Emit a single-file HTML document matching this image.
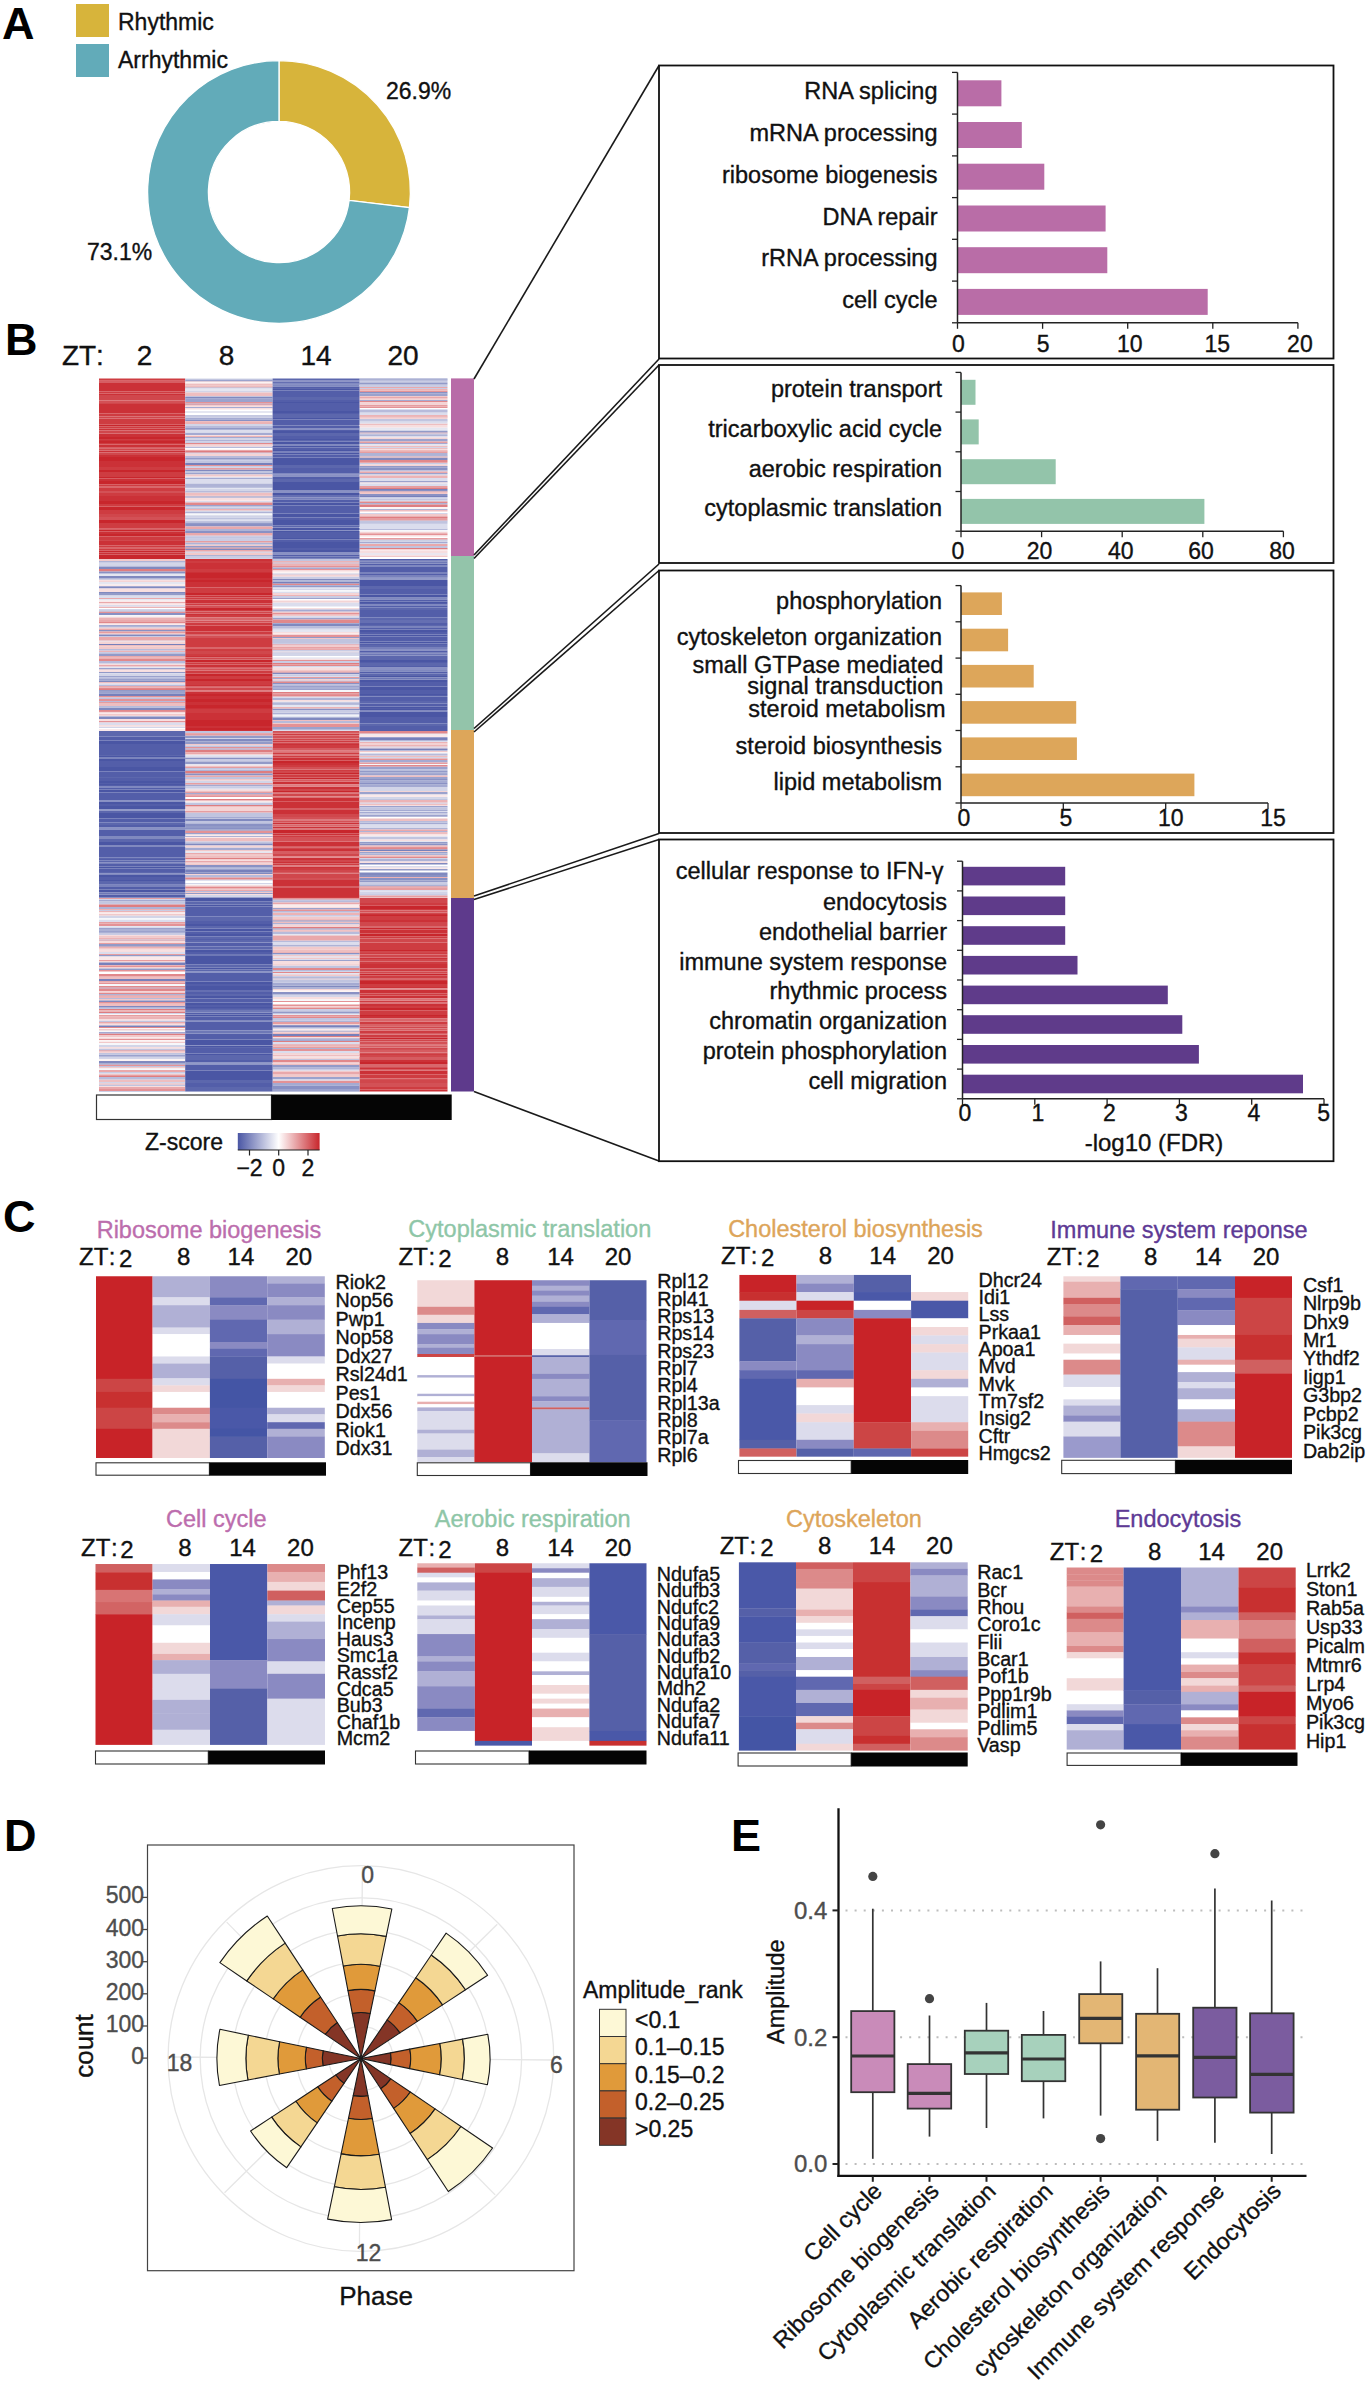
<!DOCTYPE html>
<html><head><meta charset="utf-8"><style>
html,body{margin:0;padding:0;background:#fff;overflow:hidden;width:1369px;height:2386px;}
svg{display:block;font-family:"Liberation Sans", sans-serif;}
</style></head><body>
<svg width="1369" height="2386" viewBox="0 0 1369 2386">
<rect width="1369" height="2386" fill="#fff"/>
<text x="2.0" y="38.5" font-size="45" text-anchor="start" fill="#000" font-weight="bold">A</text>
<rect x="76.0" y="4.0" width="33.0" height="33.0" fill="#D7B43B"/>
<rect x="76.0" y="44.0" width="33.0" height="33.0" fill="#62ABB9"/>
<text x="118.0" y="30.0" font-size="23" text-anchor="start" fill="#111" stroke="#111" stroke-width="0.35">Rhythmic</text>
<text x="118.0" y="68.0" font-size="23" text-anchor="start" fill="#111" stroke="#111" stroke-width="0.35">Arrhythmic</text>
<path d="M279.00 60.60A131.4 131.4 0 0 1 409.46 207.65L349.10 200.41A70.6 70.6 0 0 0 279.00 121.40Z" fill="#D7B43B" stroke="#fff" stroke-width="1.3"/>
<path d="M409.46 207.65A131.4 131.4 0 1 1 279.00 60.60L279.00 121.40A70.6 70.6 0 1 0 349.10 200.41Z" fill="#62ABB9" stroke="#fff" stroke-width="1.3"/>
<text x="386.0" y="99.0" font-size="23" text-anchor="start" fill="#111" stroke="#111" stroke-width="0.35">26.9%</text>
<text x="87.0" y="260.0" font-size="23" text-anchor="start" fill="#111" stroke="#111" stroke-width="0.35">73.1%</text>
<path fill="#ce3c41" d="M99.0 378.40h86.2v2.00h-86.2zM99.0 391.40h86.2v2.00h-86.2zM99.0 413.40h86.2v1.50h-86.2zM99.0 414.90h86.2v1.50h-86.2zM99.0 418.40h86.2v2.50h-86.2zM99.0 420.90h86.2v1.00h-86.2zM99.0 421.90h86.2v2.50h-86.2zM99.0 426.40h86.2v2.00h-86.2zM99.0 438.90h86.2v1.00h-86.2zM99.0 442.90h86.2v1.50h-86.2zM99.0 466.90h86.2v3.00h-86.2zM99.0 471.90h86.2v3.00h-86.2zM99.0 474.90h86.2v2.00h-86.2zM99.0 484.40h86.2v2.00h-86.2zM99.0 487.40h86.2v2.00h-86.2zM99.0 489.40h86.2v1.50h-86.2zM99.0 492.90h86.2v3.00h-86.2zM99.0 503.90h86.2v2.50h-86.2zM99.0 509.90h86.2v2.50h-86.2zM99.0 512.40h86.2v1.50h-86.2zM99.0 522.90h86.2v3.00h-86.2zM99.0 525.90h86.2v2.50h-86.2zM99.0 536.40h86.2v1.00h-86.2zM99.0 537.40h86.2v2.50h-86.2zM99.0 545.40h86.2v2.00h-86.2zM99.0 548.40h86.2v2.00h-86.2zM185.2 561.00h87.4v2.00h-87.4zM185.2 569.00h87.4v3.00h-87.4zM185.2 587.50h87.4v3.00h-87.4zM185.2 590.50h87.4v2.50h-87.4zM185.2 597.50h87.4v2.00h-87.4zM185.2 603.50h87.4v2.00h-87.4zM185.2 610.00h87.4v1.50h-87.4zM185.2 615.00h87.4v2.50h-87.4zM185.2 622.50h87.4v3.00h-87.4zM185.2 631.50h87.4v3.00h-87.4zM185.2 638.00h87.4v2.00h-87.4zM185.2 640.00h87.4v3.00h-87.4zM185.2 643.00h87.4v3.00h-87.4zM185.2 646.00h87.4v1.50h-87.4zM185.2 648.50h87.4v1.50h-87.4zM185.2 650.00h87.4v1.00h-87.4zM185.2 654.00h87.4v2.00h-87.4zM185.2 662.50h87.4v2.00h-87.4zM185.2 670.50h87.4v2.00h-87.4zM185.2 672.50h87.4v1.00h-87.4zM185.2 676.00h87.4v3.00h-87.4zM185.2 681.00h87.4v2.50h-87.4zM185.2 683.50h87.4v1.50h-87.4zM185.2 686.50h87.4v1.00h-87.4zM185.2 709.00h87.4v2.00h-87.4zM185.2 711.00h87.4v2.00h-87.4zM272.6 733.50h86.9v2.00h-86.9zM272.6 740.50h86.9v2.00h-86.9zM272.6 745.00h86.9v1.00h-86.9zM272.6 746.00h86.9v2.00h-86.9zM272.6 752.50h86.9v2.00h-86.9zM272.6 755.50h86.9v2.00h-86.9zM272.6 765.00h86.9v2.00h-86.9zM272.6 769.50h86.9v1.50h-86.9zM272.6 774.50h86.9v3.00h-86.9zM272.6 835.50h86.9v1.50h-86.9zM272.6 863.50h86.9v2.00h-86.9zM272.6 868.00h86.9v2.00h-86.9zM272.6 897.00h86.9v1.00h-86.9zM359.5 903.00h88.0v1.00h-88.0zM359.5 904.00h88.0v1.00h-88.0zM359.5 909.00h88.0v1.50h-88.0zM359.5 916.00h88.0v1.50h-88.0zM359.5 917.50h88.0v2.50h-88.0zM359.5 936.50h88.0v2.00h-88.0zM359.5 942.50h88.0v1.00h-88.0zM359.5 943.50h88.0v1.50h-88.0zM359.5 945.00h88.0v2.00h-88.0zM359.5 947.00h88.0v3.00h-88.0zM359.5 953.00h88.0v1.50h-88.0zM359.5 961.50h88.0v2.50h-88.0zM359.5 970.00h88.0v1.50h-88.0zM359.5 975.50h88.0v3.00h-88.0zM359.5 979.50h88.0v1.50h-88.0zM359.5 984.00h88.0v3.00h-88.0zM359.5 993.50h88.0v2.00h-88.0zM359.5 1000.50h88.0v2.00h-88.0zM359.5 1006.00h88.0v2.00h-88.0zM359.5 1010.50h88.0v3.00h-88.0zM359.5 1013.50h88.0v1.50h-88.0zM359.5 1021.50h88.0v3.00h-88.0zM359.5 1025.50h88.0v1.00h-88.0zM359.5 1030.50h88.0v2.50h-88.0zM359.5 1034.50h88.0v3.00h-88.0zM359.5 1044.50h88.0v1.00h-88.0zM359.5 1054.00h88.0v1.00h-88.0zM359.5 1074.50h88.0v2.50h-88.0zM359.5 1077.00h88.0v1.50h-88.0zM359.5 1087.00h88.0v2.50h-88.0z"/>
<path fill="#cb3137" d="M99.0 380.40h86.2v1.00h-86.2zM99.0 382.40h86.2v2.50h-86.2zM99.0 384.90h86.2v1.00h-86.2zM99.0 385.90h86.2v1.00h-86.2zM99.0 386.90h86.2v2.00h-86.2zM99.0 388.90h86.2v2.50h-86.2zM99.0 393.40h86.2v1.50h-86.2zM99.0 403.90h86.2v2.50h-86.2zM99.0 406.40h86.2v1.50h-86.2zM99.0 407.90h86.2v2.50h-86.2zM99.0 410.40h86.2v3.00h-86.2zM99.0 428.40h86.2v2.00h-86.2zM99.0 433.40h86.2v1.50h-86.2zM99.0 434.90h86.2v2.00h-86.2zM99.0 439.90h86.2v1.00h-86.2zM99.0 444.40h86.2v3.00h-86.2zM99.0 450.40h86.2v2.00h-86.2zM99.0 454.90h86.2v2.00h-86.2zM99.0 460.90h86.2v3.00h-86.2zM99.0 463.90h86.2v3.00h-86.2zM99.0 478.40h86.2v2.50h-86.2zM99.0 486.40h86.2v1.00h-86.2zM99.0 495.90h86.2v2.00h-86.2zM99.0 497.90h86.2v1.50h-86.2zM99.0 499.40h86.2v1.50h-86.2zM99.0 528.40h86.2v1.00h-86.2zM99.0 531.40h86.2v1.00h-86.2zM99.0 532.40h86.2v1.50h-86.2zM99.0 540.90h86.2v1.00h-86.2zM99.0 541.90h86.2v1.50h-86.2zM99.0 543.40h86.2v2.00h-86.2zM99.0 547.40h86.2v1.00h-86.2zM99.0 552.40h86.2v2.00h-86.2zM185.2 559.00h87.4v2.00h-87.4zM185.2 563.00h87.4v2.00h-87.4zM185.2 565.00h87.4v3.00h-87.4zM185.2 568.00h87.4v1.00h-87.4zM185.2 572.00h87.4v1.00h-87.4zM185.2 578.00h87.4v2.00h-87.4zM185.2 582.00h87.4v1.50h-87.4zM185.2 583.50h87.4v3.00h-87.4zM185.2 586.50h87.4v1.00h-87.4zM185.2 595.50h87.4v2.00h-87.4zM185.2 599.50h87.4v2.00h-87.4zM185.2 601.50h87.4v2.00h-87.4zM185.2 613.50h87.4v1.50h-87.4zM185.2 625.50h87.4v2.50h-87.4zM185.2 628.00h87.4v1.00h-87.4zM185.2 629.00h87.4v1.00h-87.4zM185.2 630.00h87.4v1.50h-87.4zM185.2 634.50h87.4v1.00h-87.4zM185.2 647.50h87.4v1.00h-87.4zM185.2 656.00h87.4v1.50h-87.4zM185.2 664.50h87.4v1.00h-87.4zM185.2 665.50h87.4v2.00h-87.4zM185.2 685.00h87.4v1.50h-87.4zM185.2 691.50h87.4v1.50h-87.4zM185.2 693.00h87.4v1.00h-87.4zM185.2 696.00h87.4v3.00h-87.4zM185.2 702.00h87.4v3.00h-87.4zM185.2 708.00h87.4v1.00h-87.4zM185.2 713.00h87.4v3.00h-87.4zM185.2 716.00h87.4v1.00h-87.4zM185.2 717.00h87.4v3.00h-87.4zM185.2 726.00h87.4v2.00h-87.4zM185.2 730.00h87.4v1.00h-87.4zM272.6 744.00h86.9v1.00h-86.9zM272.6 757.50h86.9v1.50h-86.9zM272.6 759.00h86.9v1.50h-86.9zM272.6 763.00h86.9v2.00h-86.9zM272.6 781.50h86.9v3.00h-86.9zM272.6 786.50h86.9v2.50h-86.9zM272.6 798.00h86.9v3.00h-86.9zM272.6 802.00h86.9v1.00h-86.9zM272.6 803.00h86.9v2.50h-86.9zM272.6 805.50h86.9v2.50h-86.9zM272.6 810.00h86.9v2.50h-86.9zM272.6 812.50h86.9v1.50h-86.9zM272.6 822.50h86.9v2.00h-86.9zM272.6 826.50h86.9v2.00h-86.9zM272.6 833.50h86.9v2.00h-86.9zM272.6 841.50h86.9v3.00h-86.9zM272.6 844.50h86.9v2.00h-86.9zM272.6 849.00h86.9v2.00h-86.9zM272.6 857.50h86.9v2.50h-86.9zM272.6 862.00h86.9v1.50h-86.9zM272.6 866.50h86.9v1.50h-86.9zM272.6 880.00h86.9v1.50h-86.9zM272.6 881.50h86.9v2.00h-86.9zM272.6 883.50h86.9v3.00h-86.9zM272.6 887.50h86.9v1.50h-86.9zM272.6 889.00h86.9v3.00h-86.9zM272.6 892.00h86.9v2.00h-86.9zM272.6 894.00h86.9v3.00h-86.9zM359.5 914.00h88.0v1.00h-88.0zM359.5 920.00h88.0v2.00h-88.0zM359.5 929.50h88.0v1.00h-88.0zM359.5 930.50h88.0v3.00h-88.0zM359.5 957.50h88.0v1.50h-88.0zM359.5 964.00h88.0v2.00h-88.0zM359.5 966.00h88.0v2.50h-88.0zM359.5 978.50h88.0v1.00h-88.0zM359.5 987.00h88.0v1.50h-88.0zM359.5 990.00h88.0v2.00h-88.0zM359.5 992.00h88.0v1.50h-88.0zM359.5 995.50h88.0v3.00h-88.0zM359.5 1003.50h88.0v2.50h-88.0zM359.5 1016.00h88.0v2.50h-88.0zM359.5 1060.00h88.0v2.00h-88.0zM359.5 1068.00h88.0v1.00h-88.0zM359.5 1070.50h88.0v2.50h-88.0zM359.5 1073.00h88.0v1.50h-88.0zM359.5 1089.50h88.0v2.00h-88.0z"/>
<path fill="#c8262c" d="M99.0 381.40h86.2v1.00h-86.2zM99.0 424.40h86.2v2.00h-86.2zM99.0 436.90h86.2v2.00h-86.2zM99.0 440.90h86.2v2.00h-86.2zM99.0 447.40h86.2v1.00h-86.2zM99.0 456.90h86.2v2.00h-86.2zM99.0 458.90h86.2v2.00h-86.2zM99.0 469.90h86.2v2.00h-86.2zM99.0 476.90h86.2v1.50h-86.2zM99.0 480.90h86.2v2.00h-86.2zM99.0 482.90h86.2v1.50h-86.2zM99.0 500.90h86.2v3.00h-86.2zM99.0 506.40h86.2v1.50h-86.2zM99.0 507.90h86.2v2.00h-86.2zM99.0 519.90h86.2v3.00h-86.2zM99.0 529.40h86.2v2.00h-86.2zM99.0 533.90h86.2v2.50h-86.2zM99.0 550.40h86.2v2.00h-86.2zM99.0 554.40h86.2v2.00h-86.2zM99.0 556.40h86.2v2.60h-86.2zM185.2 573.00h87.4v3.00h-87.4zM185.2 576.00h87.4v2.00h-87.4zM185.2 580.00h87.4v2.00h-87.4zM185.2 593.00h87.4v2.50h-87.4zM185.2 608.00h87.4v2.00h-87.4zM185.2 659.50h87.4v2.00h-87.4zM185.2 661.50h87.4v1.00h-87.4zM185.2 667.50h87.4v1.00h-87.4zM185.2 673.50h87.4v2.50h-87.4zM185.2 679.00h87.4v2.00h-87.4zM185.2 694.00h87.4v2.00h-87.4zM185.2 699.00h87.4v3.00h-87.4zM185.2 705.00h87.4v3.00h-87.4zM185.2 720.00h87.4v3.00h-87.4zM185.2 723.00h87.4v3.00h-87.4zM185.2 728.00h87.4v2.00h-87.4zM272.6 760.50h86.9v2.50h-86.9zM272.6 773.00h86.9v1.50h-86.9zM272.6 777.50h86.9v2.00h-86.9zM272.6 791.00h86.9v1.50h-86.9zM272.6 829.50h86.9v1.00h-86.9zM272.6 830.50h86.9v3.00h-86.9zM272.6 846.50h86.9v1.00h-86.9zM272.6 886.50h86.9v1.00h-86.9zM359.5 906.00h88.0v3.00h-88.0zM359.5 915.00h88.0v1.00h-88.0zM359.5 928.00h88.0v1.50h-88.0zM359.5 933.50h88.0v3.00h-88.0zM359.5 950.00h88.0v1.00h-88.0zM359.5 973.50h88.0v2.00h-88.0zM359.5 981.00h88.0v3.00h-88.0zM359.5 1008.00h88.0v2.50h-88.0zM359.5 1015.00h88.0v1.00h-88.0zM359.5 1024.50h88.0v1.00h-88.0zM359.5 1037.50h88.0v2.00h-88.0zM359.5 1062.00h88.0v2.00h-88.0z"/>
<path fill="#d0474c" d="M99.0 394.90h86.2v3.00h-86.2zM99.0 397.90h86.2v2.50h-86.2zM99.0 402.90h86.2v1.00h-86.2zM99.0 416.40h86.2v2.00h-86.2zM99.0 430.40h86.2v3.00h-86.2zM99.0 448.40h86.2v2.00h-86.2zM99.0 452.40h86.2v2.50h-86.2zM99.0 513.90h86.2v3.00h-86.2zM99.0 539.90h86.2v1.00h-86.2zM185.2 611.50h87.4v2.00h-87.4zM185.2 651.00h87.4v2.00h-87.4zM185.2 653.00h87.4v1.00h-87.4zM185.2 657.50h87.4v2.00h-87.4zM185.2 687.50h87.4v3.00h-87.4zM272.6 738.50h86.9v2.00h-86.9zM272.6 742.50h86.9v1.50h-86.9zM272.6 751.50h86.9v1.00h-86.9zM272.6 771.00h86.9v2.00h-86.9zM272.6 789.00h86.9v2.00h-86.9zM272.6 793.50h86.9v3.00h-86.9zM272.6 814.00h86.9v3.00h-86.9zM272.6 819.50h86.9v1.00h-86.9zM272.6 847.50h86.9v1.50h-86.9zM272.6 854.00h86.9v2.00h-86.9zM272.6 860.00h86.9v2.00h-86.9zM272.6 870.00h86.9v2.00h-86.9zM272.6 873.50h86.9v1.50h-86.9zM272.6 875.00h86.9v3.00h-86.9zM359.5 898.00h88.0v2.50h-88.0zM359.5 900.50h88.0v2.50h-88.0zM359.5 912.50h88.0v1.50h-88.0zM359.5 922.00h88.0v2.00h-88.0zM359.5 924.00h88.0v2.00h-88.0zM359.5 938.50h88.0v1.50h-88.0zM359.5 940.00h88.0v2.50h-88.0zM359.5 951.00h88.0v2.00h-88.0zM359.5 954.50h88.0v3.00h-88.0zM359.5 959.00h88.0v2.50h-88.0zM359.5 968.50h88.0v1.50h-88.0zM359.5 971.50h88.0v2.00h-88.0zM359.5 1026.50h88.0v2.00h-88.0zM359.5 1039.50h88.0v2.00h-88.0zM359.5 1047.50h88.0v1.50h-88.0zM359.5 1055.00h88.0v2.00h-88.0zM359.5 1080.00h88.0v3.00h-88.0z"/>
<path fill="#d35156" d="M99.0 400.40h86.2v2.50h-86.2zM99.0 490.90h86.2v2.00h-86.2zM99.0 516.90h86.2v3.00h-86.2zM185.2 605.50h87.4v2.50h-87.4zM185.2 620.50h87.4v2.00h-87.4zM185.2 635.50h87.4v2.50h-87.4zM185.2 668.50h87.4v2.00h-87.4zM272.6 731.00h86.9v1.00h-86.9zM272.6 735.50h86.9v3.00h-86.9zM272.6 750.50h86.9v1.00h-86.9zM272.6 754.50h86.9v1.00h-86.9zM272.6 767.00h86.9v2.50h-86.9zM272.6 792.50h86.9v1.00h-86.9zM272.6 817.00h86.9v2.50h-86.9zM272.6 820.50h86.9v2.00h-86.9zM272.6 837.00h86.9v2.50h-86.9zM272.6 839.50h86.9v2.00h-86.9zM272.6 878.00h86.9v2.00h-86.9zM359.5 910.50h88.0v2.00h-88.0zM359.5 1002.50h88.0v1.00h-88.0zM359.5 1041.50h88.0v3.00h-88.0zM359.5 1049.00h88.0v1.00h-88.0zM359.5 1052.50h88.0v1.50h-88.0zM359.5 1067.00h88.0v1.00h-88.0zM359.5 1078.50h88.0v1.50h-88.0zM359.5 1083.00h88.0v2.00h-88.0zM359.5 1085.00h88.0v2.00h-88.0z"/>
<path fill="#d2d5e8" d="M185.2 378.40h87.4v1.00h-87.4zM185.2 390.90h87.4v1.50h-87.4zM185.2 423.90h87.4v2.00h-87.4zM185.2 437.90h87.4v2.00h-87.4zM185.2 466.90h87.4v1.00h-87.4zM185.2 482.90h87.4v1.00h-87.4zM185.2 488.90h87.4v2.00h-87.4zM185.2 506.40h87.4v1.00h-87.4zM185.2 510.40h87.4v1.50h-87.4zM359.5 411.90h88.0v1.00h-88.0zM359.5 429.40h88.0v1.50h-88.0zM359.5 446.90h88.0v1.00h-88.0zM359.5 473.90h88.0v1.50h-88.0zM359.5 500.40h88.0v1.00h-88.0zM359.5 512.90h88.0v1.00h-88.0zM359.5 540.40h88.0v1.50h-88.0zM359.5 542.90h88.0v1.00h-88.0zM99.0 563.00h86.2v2.50h-86.2zM99.0 609.00h86.2v1.50h-86.2zM99.0 640.50h86.2v1.00h-86.2zM99.0 674.00h86.2v2.00h-86.2zM99.0 726.50h86.2v1.50h-86.2zM272.6 580.50h86.9v1.00h-86.9zM272.6 588.50h86.9v1.50h-86.9zM272.6 653.50h86.9v1.00h-86.9zM272.6 654.50h86.9v1.50h-86.9zM272.6 666.00h86.9v1.50h-86.9zM272.6 674.00h86.9v1.00h-86.9zM272.6 701.50h86.9v1.00h-86.9zM185.2 738.00h87.4v1.00h-87.4zM185.2 780.50h87.4v2.50h-87.4zM185.2 883.00h87.4v1.50h-87.4zM185.2 895.00h87.4v2.00h-87.4zM359.5 733.50h88.0v1.00h-88.0zM359.5 757.00h88.0v1.50h-88.0zM359.5 787.00h88.0v2.00h-88.0zM359.5 789.00h88.0v2.00h-88.0zM359.5 797.00h88.0v1.50h-88.0zM359.5 858.00h88.0v1.00h-88.0zM359.5 891.50h88.0v2.50h-88.0zM99.0 899.00h86.2v1.00h-86.2zM99.0 901.50h86.2v1.00h-86.2zM99.0 915.50h86.2v2.50h-86.2zM99.0 1013.00h86.2v1.00h-86.2zM99.0 1045.00h86.2v2.00h-86.2zM99.0 1057.50h86.2v1.50h-86.2zM99.0 1082.00h86.2v1.50h-86.2zM272.6 971.00h86.9v1.00h-86.9zM272.6 994.50h86.9v2.50h-86.9zM272.6 1027.50h86.9v1.50h-86.9z"/>
<path fill="#9ba2cd" d="M185.2 379.40h87.4v2.00h-87.4zM185.2 398.40h87.4v1.00h-87.4zM185.2 399.40h87.4v2.50h-87.4zM185.2 403.40h87.4v1.00h-87.4zM185.2 472.90h87.4v1.50h-87.4zM185.2 504.90h87.4v1.50h-87.4zM185.2 517.40h87.4v1.00h-87.4zM185.2 537.40h87.4v1.00h-87.4zM359.5 393.40h88.0v2.50h-88.0zM359.5 438.90h88.0v2.50h-88.0zM359.5 472.90h88.0v1.00h-88.0zM359.5 480.90h88.0v1.50h-88.0zM99.0 668.00h86.2v1.50h-86.2zM99.0 676.00h86.2v1.50h-86.2zM99.0 679.00h86.2v1.50h-86.2zM99.0 691.00h86.2v2.50h-86.2zM272.6 562.50h86.9v1.00h-86.9zM272.6 573.50h86.9v1.00h-86.9zM272.6 598.00h86.9v1.00h-86.9zM272.6 617.50h86.9v2.00h-86.9zM272.6 686.00h86.9v1.50h-86.9zM272.6 688.50h86.9v1.50h-86.9zM272.6 727.00h86.9v2.00h-86.9zM185.2 833.00h87.4v1.50h-87.4zM185.2 868.50h87.4v1.50h-87.4zM185.2 897.00h87.4v1.00h-87.4zM359.5 737.00h88.0v1.00h-88.0zM359.5 766.50h88.0v2.50h-88.0zM359.5 774.00h88.0v1.50h-88.0zM359.5 777.00h88.0v2.00h-88.0zM359.5 792.00h88.0v2.50h-88.0zM359.5 806.00h88.0v1.50h-88.0zM359.5 814.50h88.0v1.50h-88.0zM359.5 852.00h88.0v1.50h-88.0zM99.0 902.50h86.2v1.00h-86.2zM99.0 927.50h86.2v2.00h-86.2zM99.0 930.50h86.2v1.00h-86.2zM99.0 931.50h86.2v1.00h-86.2zM99.0 1054.50h86.2v1.50h-86.2zM99.0 1091.00h86.2v0.50h-86.2zM272.6 899.50h86.9v1.00h-86.9zM272.6 908.00h86.9v1.50h-86.9zM272.6 960.00h86.9v1.00h-86.9zM272.6 1077.00h86.9v2.50h-86.9zM272.6 1089.00h86.9v2.00h-86.9z"/>
<path fill="#f1c9ca" d="M185.2 381.40h87.4v1.00h-87.4zM185.2 384.90h87.4v1.50h-87.4zM185.2 474.40h87.4v1.50h-87.4zM185.2 494.90h87.4v1.50h-87.4zM185.2 544.40h87.4v1.50h-87.4zM185.2 552.40h87.4v2.50h-87.4zM359.5 395.90h88.0v1.00h-88.0zM359.5 492.40h88.0v1.50h-88.0zM359.5 513.90h88.0v2.50h-88.0zM359.5 555.40h88.0v1.50h-88.0zM99.0 559.00h86.2v2.00h-86.2zM99.0 633.00h86.2v1.50h-86.2zM99.0 646.50h86.2v2.50h-86.2zM99.0 669.50h86.2v1.00h-86.2zM99.0 714.00h86.2v1.00h-86.2zM272.6 611.50h86.9v1.50h-86.9zM272.6 614.50h86.9v1.50h-86.9zM272.6 638.00h86.9v1.00h-86.9zM272.6 670.00h86.9v1.50h-86.9zM272.6 723.00h86.9v1.00h-86.9zM185.2 744.00h87.4v1.50h-87.4zM185.2 779.00h87.4v1.50h-87.4zM185.2 790.50h87.4v1.00h-87.4zM185.2 850.00h87.4v1.50h-87.4zM185.2 854.50h87.4v1.50h-87.4zM185.2 864.00h87.4v1.00h-87.4zM185.2 888.50h87.4v1.50h-87.4zM185.2 892.00h87.4v1.00h-87.4zM359.5 747.50h88.0v1.00h-88.0zM359.5 751.00h88.0v1.50h-88.0zM359.5 851.00h88.0v1.00h-88.0zM359.5 855.00h88.0v1.50h-88.0zM359.5 897.50h88.0v0.50h-88.0zM99.0 913.50h86.2v1.00h-86.2zM99.0 914.50h86.2v1.00h-86.2zM99.0 936.00h86.2v1.50h-86.2zM99.0 947.50h86.2v2.00h-86.2zM99.0 999.00h86.2v1.50h-86.2zM99.0 1035.00h86.2v2.00h-86.2zM99.0 1041.50h86.2v1.50h-86.2zM99.0 1067.00h86.2v1.50h-86.2zM272.6 916.50h86.9v1.50h-86.9zM272.6 918.00h86.9v1.50h-86.9zM272.6 946.50h86.9v2.00h-86.9zM272.6 948.50h86.9v1.00h-86.9zM272.6 955.00h86.9v1.50h-86.9zM272.6 957.50h86.9v1.50h-86.9zM272.6 1031.50h86.9v1.00h-86.9zM272.6 1074.50h86.9v2.50h-86.9z"/>
<path fill="#ffffff" d="M185.2 382.40h87.4v1.00h-87.4zM185.2 409.40h87.4v1.50h-87.4zM185.2 412.90h87.4v2.50h-87.4zM185.2 447.90h87.4v1.00h-87.4zM185.2 519.40h87.4v1.00h-87.4zM359.5 407.90h88.0v1.50h-88.0zM359.5 511.40h88.0v1.50h-88.0zM359.5 536.40h88.0v1.50h-88.0zM359.5 556.90h88.0v2.10h-88.0zM99.0 608.00h86.2v1.00h-86.2zM99.0 728.00h86.2v1.50h-86.2zM272.6 599.00h86.9v1.50h-86.9zM272.6 606.50h86.9v1.50h-86.9zM272.6 656.00h86.9v1.50h-86.9zM185.2 797.00h87.4v2.00h-87.4zM185.2 880.50h87.4v2.50h-87.4zM185.2 884.50h87.4v1.00h-87.4zM359.5 752.50h88.0v1.00h-88.0zM359.5 817.00h88.0v1.50h-88.0zM359.5 864.50h88.0v2.00h-88.0zM359.5 870.50h88.0v2.00h-88.0zM99.0 971.50h86.2v2.50h-86.2zM272.6 975.50h86.9v1.00h-86.9zM272.6 1002.00h86.9v2.50h-86.9z"/>
<path fill="#eebec0" d="M185.2 383.40h87.4v1.50h-87.4zM185.2 392.40h87.4v2.00h-87.4zM185.2 394.40h87.4v1.50h-87.4zM185.2 420.90h87.4v1.00h-87.4zM185.2 492.40h87.4v2.50h-87.4zM359.5 423.40h88.0v1.50h-88.0zM359.5 445.40h88.0v1.50h-88.0zM359.5 447.90h88.0v1.00h-88.0zM359.5 509.90h88.0v1.50h-88.0zM99.0 645.00h86.2v1.50h-86.2zM99.0 682.00h86.2v1.50h-86.2zM99.0 703.50h86.2v2.50h-86.2zM272.6 720.00h86.9v1.00h-86.9zM185.2 800.00h87.4v1.50h-87.4zM185.2 806.00h87.4v1.00h-87.4zM185.2 838.00h87.4v2.50h-87.4zM185.2 840.50h87.4v1.00h-87.4zM185.2 856.00h87.4v2.00h-87.4zM185.2 885.50h87.4v1.50h-87.4zM359.5 755.50h88.0v1.50h-88.0zM359.5 775.50h88.0v1.50h-88.0zM359.5 803.50h88.0v1.50h-88.0zM359.5 818.50h88.0v1.00h-88.0zM359.5 819.50h88.0v1.50h-88.0zM359.5 832.00h88.0v1.50h-88.0zM359.5 833.50h88.0v1.00h-88.0zM99.0 976.50h86.2v2.50h-86.2zM99.0 1003.50h86.2v2.50h-86.2zM99.0 1079.50h86.2v2.50h-86.2zM272.6 921.50h86.9v1.50h-86.9zM272.6 929.50h86.9v1.00h-86.9zM272.6 949.50h86.9v2.50h-86.9zM272.6 978.50h86.9v1.00h-86.9zM272.6 1032.50h86.9v1.50h-86.9zM272.6 1045.50h86.9v1.00h-86.9zM272.6 1054.50h86.9v1.50h-86.9zM272.6 1064.00h86.9v1.00h-86.9z"/>
<path fill="#e49296" d="M185.2 386.40h87.4v1.00h-87.4zM185.2 401.90h87.4v1.50h-87.4zM185.2 464.90h87.4v1.00h-87.4zM359.5 390.40h88.0v1.50h-88.0zM359.5 406.40h88.0v1.50h-88.0zM359.5 432.40h88.0v1.00h-88.0zM359.5 533.90h88.0v1.00h-88.0zM99.0 611.50h86.2v1.50h-86.2zM99.0 696.00h86.2v1.50h-86.2zM99.0 699.00h86.2v2.00h-86.2zM99.0 711.00h86.2v1.50h-86.2zM99.0 721.00h86.2v1.50h-86.2zM272.6 566.00h86.9v1.50h-86.9zM272.6 569.00h86.9v1.50h-86.9zM272.6 613.00h86.9v1.50h-86.9zM272.6 634.50h86.9v2.50h-86.9zM272.6 660.00h86.9v1.00h-86.9zM272.6 693.50h86.9v1.50h-86.9zM272.6 724.00h86.9v1.50h-86.9zM272.6 725.50h86.9v1.50h-86.9zM185.2 747.00h87.4v1.50h-87.4zM185.2 795.50h87.4v1.50h-87.4zM185.2 830.50h87.4v2.50h-87.4zM359.5 758.50h88.0v1.50h-88.0zM359.5 846.50h88.0v1.50h-88.0zM99.0 923.50h86.2v2.50h-86.2zM99.0 966.00h86.2v1.50h-86.2zM99.0 970.00h86.2v1.50h-86.2zM99.0 982.50h86.2v1.50h-86.2zM99.0 1002.00h86.2v1.50h-86.2zM99.0 1038.50h86.2v1.50h-86.2zM99.0 1064.50h86.2v1.50h-86.2zM99.0 1089.00h86.2v2.00h-86.2zM272.6 898.00h86.9v1.50h-86.9zM272.6 909.50h86.9v1.50h-86.9zM272.6 919.50h86.9v1.00h-86.9zM272.6 974.50h86.9v1.00h-86.9zM272.6 1001.00h86.9v1.00h-86.9zM272.6 1004.50h86.9v2.00h-86.9zM272.6 1015.00h86.9v1.50h-86.9zM272.6 1049.00h86.9v2.00h-86.9zM272.6 1080.50h86.9v2.50h-86.9z"/>
<path fill="#aeb3d6" d="M185.2 387.40h87.4v1.00h-87.4zM185.2 428.90h87.4v1.00h-87.4zM185.2 439.90h87.4v1.50h-87.4zM185.2 452.40h87.4v1.00h-87.4zM185.2 459.40h87.4v1.00h-87.4zM185.2 483.90h87.4v1.50h-87.4zM185.2 485.40h87.4v1.00h-87.4zM185.2 511.90h87.4v1.50h-87.4zM185.2 518.40h87.4v1.00h-87.4zM185.2 528.90h87.4v2.00h-87.4zM185.2 542.40h87.4v2.00h-87.4zM185.2 554.90h87.4v1.00h-87.4zM185.2 558.40h87.4v0.60h-87.4zM359.5 434.90h88.0v1.00h-88.0zM359.5 452.90h88.0v1.50h-88.0zM359.5 454.40h88.0v1.00h-88.0zM359.5 502.90h88.0v1.50h-88.0zM359.5 508.90h88.0v1.00h-88.0zM359.5 539.40h88.0v1.00h-88.0zM99.0 561.00h86.2v1.00h-86.2zM99.0 610.50h86.2v1.00h-86.2zM272.6 585.00h86.9v1.00h-86.9zM272.6 697.50h86.9v2.50h-86.9zM272.6 712.50h86.9v1.50h-86.9zM185.2 769.50h87.4v1.50h-87.4zM185.2 836.00h87.4v1.00h-87.4zM359.5 828.00h88.0v1.50h-88.0zM359.5 831.00h88.0v1.00h-88.0zM359.5 853.50h88.0v1.50h-88.0zM359.5 859.00h88.0v2.50h-88.0zM359.5 885.50h88.0v1.00h-88.0zM99.0 907.00h86.2v2.00h-86.2zM99.0 994.00h86.2v1.50h-86.2zM272.6 923.00h86.9v1.50h-86.9zM272.6 944.50h86.9v2.00h-86.9zM272.6 977.50h86.9v1.00h-86.9zM272.6 987.00h86.9v2.00h-86.9zM272.6 1020.50h86.9v1.50h-86.9zM272.6 1048.00h86.9v1.00h-86.9zM272.6 1067.50h86.9v1.50h-86.9z"/>
<path fill="#e4e6f1" d="M185.2 388.40h87.4v2.50h-87.4zM185.2 410.90h87.4v2.00h-87.4zM185.2 487.40h87.4v1.50h-87.4zM359.5 427.40h88.0v2.00h-88.0zM359.5 443.90h88.0v1.50h-88.0zM99.0 573.50h86.2v2.50h-86.2zM99.0 582.00h86.2v2.50h-86.2zM99.0 599.00h86.2v1.50h-86.2zM99.0 666.50h86.2v1.50h-86.2zM272.6 629.50h86.9v2.50h-86.9zM272.6 704.50h86.9v2.50h-86.9zM185.2 755.00h87.4v1.50h-87.4zM185.2 764.00h87.4v1.50h-87.4zM185.2 851.50h87.4v1.50h-87.4zM359.5 836.00h88.0v1.00h-88.0zM359.5 841.00h88.0v1.00h-88.0zM99.0 926.00h86.2v1.50h-86.2zM272.6 934.00h86.9v1.50h-86.9zM272.6 973.00h86.9v1.50h-86.9zM272.6 1013.50h86.9v1.50h-86.9z"/>
<path fill="#c0c4df" d="M185.2 395.90h87.4v1.00h-87.4zM185.2 460.40h87.4v2.50h-87.4zM185.2 470.90h87.4v2.00h-87.4zM185.2 507.40h87.4v1.50h-87.4zM185.2 520.40h87.4v2.00h-87.4zM185.2 535.40h87.4v1.00h-87.4zM185.2 551.40h87.4v1.00h-87.4zM359.5 418.90h88.0v1.50h-88.0zM359.5 433.40h88.0v1.50h-88.0zM359.5 498.40h88.0v2.00h-88.0zM359.5 521.40h88.0v1.50h-88.0zM359.5 545.90h88.0v2.00h-88.0zM99.0 697.50h86.2v1.50h-86.2zM272.6 559.00h86.9v2.00h-86.9zM272.6 639.00h86.9v2.50h-86.9zM272.6 641.50h86.9v1.50h-86.9zM185.2 731.00h87.4v2.00h-87.4zM185.2 745.50h87.4v1.50h-87.4zM185.2 768.00h87.4v1.50h-87.4zM185.2 777.00h87.4v2.00h-87.4zM185.2 803.50h87.4v1.50h-87.4zM185.2 812.50h87.4v1.50h-87.4zM185.2 814.00h87.4v2.50h-87.4zM185.2 818.00h87.4v1.00h-87.4zM185.2 821.00h87.4v2.50h-87.4zM185.2 841.50h87.4v2.00h-87.4zM185.2 879.50h87.4v1.00h-87.4zM359.5 769.00h88.0v1.50h-88.0zM359.5 798.50h88.0v1.50h-88.0zM359.5 807.50h88.0v2.00h-88.0zM359.5 837.00h88.0v2.50h-88.0zM99.0 903.50h86.2v1.00h-86.2zM99.0 1007.50h86.2v1.50h-86.2zM99.0 1020.50h86.2v1.50h-86.2zM99.0 1048.50h86.2v2.00h-86.2zM99.0 1053.00h86.2v1.50h-86.2zM99.0 1066.00h86.2v1.00h-86.2zM99.0 1084.50h86.2v1.50h-86.2zM272.6 965.50h86.9v2.50h-86.9zM272.6 979.50h86.9v1.00h-86.9zM272.6 980.50h86.9v1.50h-86.9zM272.6 1018.00h86.9v2.50h-86.9zM272.6 1059.00h86.9v1.00h-86.9z"/>
<path fill="#8089bf" d="M185.2 396.90h87.4v1.50h-87.4zM185.2 469.40h87.4v1.50h-87.4zM185.2 548.40h87.4v1.50h-87.4zM272.6 384.40h86.9v2.00h-86.9zM272.6 424.90h86.9v1.00h-86.9zM272.6 443.90h86.9v2.00h-86.9zM359.5 457.40h88.0v2.50h-88.0zM99.0 567.00h86.2v2.00h-86.2zM99.0 576.00h86.2v2.50h-86.2zM99.0 587.00h86.2v1.50h-86.2zM99.0 592.00h86.2v1.00h-86.2zM99.0 626.50h86.2v1.00h-86.2zM99.0 634.50h86.2v1.50h-86.2zM99.0 680.50h86.2v1.50h-86.2zM99.0 707.50h86.2v2.50h-86.2zM99.0 717.00h86.2v2.00h-86.2zM272.6 579.00h86.9v1.50h-86.9zM272.6 624.00h86.9v2.50h-86.9zM272.6 672.50h86.9v1.50h-86.9zM272.6 703.50h86.9v1.00h-86.9zM272.6 717.50h86.9v2.50h-86.9zM359.5 597.50h88.0v2.00h-88.0zM359.5 670.00h88.0v1.50h-88.0zM359.5 696.00h88.0v1.00h-88.0zM359.5 710.00h88.0v1.50h-88.0zM99.0 836.00h86.2v3.00h-86.2zM99.0 845.00h86.2v2.00h-86.2zM99.0 873.50h86.2v1.50h-86.2zM99.0 897.50h86.2v0.50h-86.2zM185.2 739.00h87.4v2.50h-87.4zM185.2 819.00h87.4v2.00h-87.4zM185.2 829.50h87.4v1.00h-87.4zM185.2 843.50h87.4v2.00h-87.4zM185.2 872.50h87.4v1.50h-87.4zM359.5 863.00h88.0v1.50h-88.0zM359.5 872.50h88.0v2.50h-88.0zM359.5 884.50h88.0v1.00h-88.0zM99.0 1000.50h86.2v1.50h-86.2zM99.0 1006.00h86.2v1.50h-86.2zM99.0 1061.00h86.2v2.50h-86.2zM185.2 1020.00h87.4v1.50h-87.4zM272.6 985.50h86.9v1.50h-86.9zM272.6 1091.00h86.9v0.50h-86.9z"/>
<path fill="#de7d80" d="M185.2 404.40h87.4v1.00h-87.4zM185.2 450.90h87.4v1.50h-87.4zM185.2 547.40h87.4v1.00h-87.4zM359.5 416.40h88.0v1.00h-88.0zM359.5 487.90h88.0v1.00h-88.0zM359.5 504.40h88.0v2.50h-88.0zM359.5 516.40h88.0v1.50h-88.0zM359.5 547.90h88.0v1.50h-88.0zM99.0 569.00h86.2v2.50h-86.2zM99.0 689.00h86.2v1.00h-86.2zM272.6 647.50h86.9v1.00h-86.9zM272.6 663.00h86.9v1.50h-86.9zM272.6 692.00h86.9v1.50h-86.9zM185.2 749.50h87.4v2.50h-87.4zM185.2 771.00h87.4v2.50h-87.4zM185.2 799.00h87.4v1.00h-87.4zM185.2 805.00h87.4v1.00h-87.4zM185.2 858.00h87.4v1.50h-87.4zM272.6 784.50h86.9v2.00h-86.9zM359.5 886.50h88.0v1.00h-88.0zM99.0 904.50h86.2v2.50h-86.2zM99.0 946.50h86.2v1.00h-86.2zM99.0 1009.00h86.2v1.50h-86.2zM99.0 1012.00h86.2v1.00h-86.2zM99.0 1033.50h86.2v1.50h-86.2zM99.0 1050.50h86.2v1.00h-86.2zM99.0 1076.00h86.2v1.00h-86.2zM272.6 927.00h86.9v1.50h-86.9zM272.6 1036.00h86.9v1.00h-86.9zM272.6 1041.00h86.9v1.00h-86.9z"/>
<path fill="#f7dedf" d="M185.2 405.40h87.4v1.50h-87.4zM185.2 407.90h87.4v1.50h-87.4zM185.2 434.90h87.4v1.00h-87.4zM185.2 475.90h87.4v1.00h-87.4zM185.2 497.40h87.4v2.50h-87.4zM359.5 424.90h88.0v2.50h-88.0zM359.5 448.90h88.0v1.50h-88.0zM359.5 482.40h88.0v1.00h-88.0zM359.5 534.90h88.0v1.50h-88.0zM359.5 550.90h88.0v2.50h-88.0zM359.5 554.40h88.0v1.00h-88.0zM99.0 579.50h86.2v1.50h-86.2zM99.0 588.50h86.2v2.00h-86.2zM99.0 590.50h86.2v1.50h-86.2zM99.0 627.50h86.2v1.00h-86.2zM99.0 663.50h86.2v1.50h-86.2zM99.0 670.50h86.2v1.50h-86.2zM99.0 719.00h86.2v2.00h-86.2zM99.0 725.00h86.2v1.50h-86.2zM272.6 608.00h86.9v1.50h-86.9zM272.6 632.00h86.9v1.50h-86.9zM272.6 651.50h86.9v1.00h-86.9zM272.6 658.50h86.9v1.50h-86.9zM272.6 667.50h86.9v2.50h-86.9zM272.6 700.00h86.9v1.50h-86.9zM185.2 859.50h87.4v1.50h-87.4zM185.2 894.00h87.4v1.00h-87.4zM359.5 743.50h88.0v1.00h-88.0zM359.5 805.00h88.0v1.00h-88.0zM359.5 839.50h88.0v1.50h-88.0zM359.5 861.50h88.0v1.50h-88.0zM99.0 935.00h86.2v1.00h-86.2zM99.0 950.50h86.2v1.50h-86.2zM99.0 967.50h86.2v1.00h-86.2zM99.0 1019.00h86.2v1.50h-86.2zM99.0 1023.50h86.2v2.00h-86.2zM99.0 1047.00h86.2v1.50h-86.2zM99.0 1073.50h86.2v1.00h-86.2zM99.0 1086.00h86.2v1.00h-86.2zM272.6 904.00h86.9v1.50h-86.9zM272.6 906.50h86.9v1.50h-86.9zM272.6 961.00h86.9v1.50h-86.9zM272.6 962.50h86.9v1.50h-86.9zM272.6 997.00h86.9v2.50h-86.9zM272.6 1006.50h86.9v1.00h-86.9zM272.6 1037.00h86.9v1.50h-86.9zM272.6 1056.00h86.9v1.50h-86.9zM272.6 1070.50h86.9v1.00h-86.9z"/>
<path fill="#a4aad2" d="M185.2 406.90h87.4v1.00h-87.4zM185.2 417.40h87.4v2.00h-87.4zM185.2 432.40h87.4v2.50h-87.4zM185.2 436.90h87.4v1.00h-87.4zM185.2 477.90h87.4v1.00h-87.4zM359.5 399.90h88.0v1.00h-88.0zM359.5 420.40h88.0v1.00h-88.0zM359.5 442.90h88.0v1.00h-88.0zM359.5 466.90h88.0v1.00h-88.0zM359.5 520.40h88.0v1.00h-88.0zM359.5 541.90h88.0v1.00h-88.0zM99.0 578.50h86.2v1.00h-86.2zM99.0 586.00h86.2v1.00h-86.2zM99.0 625.00h86.2v1.50h-86.2zM272.6 567.50h86.9v1.50h-86.9zM272.6 609.50h86.9v2.00h-86.9zM272.6 623.00h86.9v1.00h-86.9zM272.6 678.00h86.9v1.00h-86.9zM272.6 702.50h86.9v1.00h-86.9zM272.6 716.50h86.9v1.00h-86.9zM185.2 748.50h87.4v1.00h-87.4zM185.2 784.50h87.4v2.00h-87.4zM185.2 793.00h87.4v1.50h-87.4zM185.2 802.50h87.4v1.00h-87.4zM185.2 816.50h87.4v1.50h-87.4zM185.2 847.50h87.4v2.50h-87.4zM185.2 867.50h87.4v1.00h-87.4zM359.5 760.00h88.0v2.50h-88.0zM359.5 772.50h88.0v1.50h-88.0zM359.5 780.50h88.0v2.50h-88.0zM359.5 784.50h88.0v2.50h-88.0zM359.5 809.50h88.0v1.50h-88.0zM359.5 812.00h88.0v1.00h-88.0zM359.5 822.50h88.0v2.00h-88.0zM99.0 900.00h86.2v1.50h-86.2zM99.0 939.50h86.2v1.00h-86.2zM99.0 1032.00h86.2v1.50h-86.2zM272.6 983.00h86.9v2.50h-86.9zM272.6 1039.50h86.9v1.50h-86.9zM272.6 1083.00h86.9v2.50h-86.9z"/>
<path fill="#8991c4" d="M185.2 415.40h87.4v1.00h-87.4zM185.2 419.40h87.4v1.50h-87.4zM185.2 486.40h87.4v1.00h-87.4zM185.2 496.40h87.4v1.00h-87.4zM185.2 515.40h87.4v1.00h-87.4zM185.2 523.90h87.4v2.50h-87.4zM185.2 530.90h87.4v2.00h-87.4zM272.6 474.40h86.9v2.00h-86.9zM272.6 490.40h86.9v2.50h-86.9zM272.6 526.90h86.9v1.00h-86.9zM272.6 529.90h86.9v1.00h-86.9zM272.6 551.90h86.9v2.50h-86.9zM359.5 378.40h88.0v1.00h-88.0zM359.5 391.90h88.0v1.50h-88.0zM359.5 455.40h88.0v1.00h-88.0zM359.5 467.90h88.0v2.50h-88.0zM359.5 489.90h88.0v1.50h-88.0zM359.5 493.90h88.0v2.00h-88.0zM99.0 571.50h86.2v2.00h-86.2zM99.0 613.00h86.2v2.00h-86.2zM99.0 630.00h86.2v1.50h-86.2zM272.6 683.00h86.9v1.50h-86.9zM272.6 687.50h86.9v1.00h-86.9zM272.6 708.50h86.9v1.50h-86.9zM359.5 649.00h88.0v1.50h-88.0zM359.5 667.50h88.0v2.50h-88.0zM99.0 800.50h86.2v1.50h-86.2zM99.0 827.50h86.2v2.00h-86.2zM185.2 758.00h87.4v1.50h-87.4zM185.2 773.50h87.4v2.00h-87.4zM185.2 823.50h87.4v2.50h-87.4zM185.2 828.00h87.4v1.50h-87.4zM185.2 865.00h87.4v2.50h-87.4zM359.5 779.00h88.0v1.50h-88.0zM359.5 783.00h88.0v1.50h-88.0zM359.5 843.50h88.0v2.00h-88.0zM359.5 875.00h88.0v1.00h-88.0zM359.5 876.00h88.0v1.00h-88.0zM359.5 878.00h88.0v2.50h-88.0zM99.0 929.50h86.2v1.00h-86.2zM99.0 932.50h86.2v1.00h-86.2zM185.2 942.00h87.4v1.00h-87.4zM185.2 1045.00h87.4v1.00h-87.4zM272.6 920.50h86.9v1.00h-86.9zM272.6 953.00h86.9v1.00h-86.9zM272.6 992.00h86.9v2.50h-86.9zM272.6 1030.50h86.9v1.00h-86.9zM272.6 1038.50h86.9v1.00h-86.9zM272.6 1085.50h86.9v1.00h-86.9zM272.6 1086.50h86.9v2.50h-86.9z"/>
<path fill="#c9cce4" d="M185.2 416.40h87.4v1.00h-87.4zM185.2 441.40h87.4v1.50h-87.4zM185.2 465.90h87.4v1.00h-87.4zM185.2 538.40h87.4v2.50h-87.4zM185.2 555.90h87.4v2.50h-87.4zM359.5 380.40h88.0v2.00h-88.0zM359.5 384.40h88.0v2.50h-88.0zM359.5 387.90h88.0v1.00h-88.0zM359.5 462.90h88.0v1.50h-88.0zM359.5 496.90h88.0v1.50h-88.0zM359.5 522.90h88.0v1.00h-88.0zM99.0 562.00h86.2v1.00h-86.2zM99.0 636.00h86.2v1.00h-86.2zM99.0 652.00h86.2v1.50h-86.2zM272.6 576.50h86.9v2.50h-86.9zM272.6 596.00h86.9v2.00h-86.9zM272.6 628.50h86.9v1.00h-86.9zM272.6 643.00h86.9v1.50h-86.9zM272.6 650.00h86.9v1.50h-86.9zM272.6 661.00h86.9v2.00h-86.9zM272.6 675.00h86.9v1.00h-86.9zM272.6 710.00h86.9v2.50h-86.9zM185.2 756.50h87.4v1.50h-87.4zM185.2 759.50h87.4v2.00h-87.4zM185.2 786.50h87.4v1.50h-87.4zM359.5 746.50h88.0v1.00h-88.0zM359.5 802.50h88.0v1.00h-88.0zM359.5 813.00h88.0v1.50h-88.0zM359.5 882.00h88.0v2.50h-88.0zM359.5 894.00h88.0v1.50h-88.0zM99.0 910.00h86.2v1.00h-86.2zM99.0 933.50h86.2v1.50h-86.2zM99.0 1072.00h86.2v1.50h-86.2zM272.6 915.00h86.9v1.50h-86.9zM272.6 954.00h86.9v1.00h-86.9zM272.6 982.00h86.9v1.00h-86.9zM272.6 1009.00h86.9v2.50h-86.9zM272.6 1069.00h86.9v1.50h-86.9z"/>
<path fill="#ecb3b5" d="M185.2 421.90h87.4v2.00h-87.4zM185.2 435.90h87.4v1.00h-87.4zM185.2 508.90h87.4v1.50h-87.4zM359.5 388.90h88.0v1.50h-88.0zM359.5 414.90h88.0v1.50h-88.0zM359.5 456.40h88.0v1.00h-88.0zM359.5 475.40h88.0v1.00h-88.0zM359.5 476.40h88.0v1.50h-88.0zM359.5 532.90h88.0v1.00h-88.0zM99.0 606.50h86.2v1.50h-86.2zM99.0 617.50h86.2v2.50h-86.2zM99.0 650.50h86.2v1.50h-86.2zM272.6 561.00h86.9v1.50h-86.9zM272.6 563.50h86.9v2.50h-86.9zM272.6 594.50h86.9v1.50h-86.9zM272.6 707.00h86.9v1.50h-86.9zM185.2 752.00h87.4v1.00h-87.4zM359.5 742.00h88.0v1.50h-88.0zM359.5 744.50h88.0v2.00h-88.0zM359.5 800.00h88.0v2.50h-88.0zM359.5 845.50h88.0v1.00h-88.0zM359.5 877.00h88.0v1.00h-88.0zM99.0 909.00h86.2v1.00h-86.2zM99.0 911.00h86.2v1.50h-86.2zM99.0 937.50h86.2v2.00h-86.2zM99.0 965.00h86.2v1.00h-86.2zM99.0 996.50h86.2v1.50h-86.2zM99.0 1010.50h86.2v1.50h-86.2zM99.0 1016.50h86.2v2.50h-86.2zM99.0 1083.50h86.2v1.00h-86.2zM272.6 912.50h86.9v2.50h-86.9zM272.6 952.00h86.9v1.00h-86.9z"/>
<path fill="#b7bbdb" d="M185.2 425.90h87.4v2.00h-87.4zM185.2 446.40h87.4v1.50h-87.4zM185.2 455.90h87.4v2.00h-87.4zM185.2 490.90h87.4v1.50h-87.4zM185.2 536.40h87.4v1.00h-87.4zM359.5 409.40h88.0v2.50h-88.0zM359.5 470.40h88.0v1.00h-88.0zM359.5 528.40h88.0v1.50h-88.0zM99.0 565.50h86.2v1.50h-86.2zM99.0 649.00h86.2v1.50h-86.2zM99.0 661.00h86.2v2.50h-86.2zM99.0 677.50h86.2v1.50h-86.2zM99.0 685.00h86.2v1.00h-86.2zM99.0 701.00h86.2v1.00h-86.2zM99.0 706.00h86.2v1.50h-86.2zM99.0 716.00h86.2v1.00h-86.2zM272.6 626.50h86.9v2.00h-86.9zM272.6 652.50h86.9v1.00h-86.9zM272.6 684.50h86.9v1.50h-86.9zM272.6 721.00h86.9v2.00h-86.9zM272.6 729.00h86.9v1.50h-86.9zM185.2 875.00h87.4v2.50h-87.4zM185.2 891.00h87.4v1.00h-87.4zM359.5 750.00h88.0v1.00h-88.0zM359.5 753.50h88.0v2.00h-88.0zM359.5 816.00h88.0v1.00h-88.0zM359.5 821.00h88.0v1.50h-88.0zM359.5 866.50h88.0v1.00h-88.0zM99.0 998.00h86.2v1.00h-86.2zM99.0 1056.00h86.2v1.50h-86.2zM99.0 1077.00h86.2v2.50h-86.2zM272.6 900.50h86.9v2.00h-86.9zM272.6 911.00h86.9v1.50h-86.9zM272.6 931.50h86.9v2.50h-86.9zM272.6 940.50h86.9v2.00h-86.9zM272.6 970.00h86.9v1.00h-86.9z"/>
<path fill="#929ac8" d="M185.2 427.90h87.4v1.00h-87.4zM185.2 457.90h87.4v1.50h-87.4zM185.2 522.40h87.4v1.50h-87.4zM185.2 545.90h87.4v1.50h-87.4zM359.5 379.40h88.0v1.00h-88.0zM359.5 382.40h88.0v2.00h-88.0zM359.5 430.90h88.0v1.50h-88.0zM359.5 465.90h88.0v1.00h-88.0zM99.0 593.00h86.2v2.50h-86.2zM99.0 653.50h86.2v2.50h-86.2zM99.0 672.00h86.2v1.00h-86.2zM99.0 690.00h86.2v1.00h-86.2zM272.6 586.00h86.9v1.50h-86.9zM272.6 637.00h86.9v1.00h-86.9zM272.6 680.50h86.9v1.00h-86.9zM359.5 577.50h88.0v2.50h-88.0zM99.0 809.00h86.2v2.00h-86.2zM185.2 735.50h87.4v2.50h-87.4zM185.2 741.50h87.4v2.50h-87.4zM185.2 761.50h87.4v2.50h-87.4zM185.2 826.00h87.4v2.00h-87.4zM185.2 893.00h87.4v1.00h-87.4zM359.5 770.50h88.0v2.00h-88.0zM359.5 842.00h88.0v1.50h-88.0zM359.5 869.00h88.0v1.50h-88.0zM359.5 880.50h88.0v1.50h-88.0zM99.0 944.00h86.2v2.50h-86.2zM99.0 955.00h86.2v1.50h-86.2zM99.0 968.50h86.2v1.50h-86.2zM99.0 987.50h86.2v1.00h-86.2zM99.0 1063.50h86.2v1.00h-86.2zM185.2 1062.50h87.4v2.00h-87.4zM272.6 928.50h86.9v1.00h-86.9zM272.6 976.50h86.9v1.00h-86.9zM272.6 1011.50h86.9v2.00h-86.9zM272.6 1025.00h86.9v1.00h-86.9zM272.6 1065.00h86.9v2.50h-86.9z"/>
<path fill="#dbdded" d="M185.2 429.90h87.4v2.50h-87.4zM185.2 476.90h87.4v1.00h-87.4zM185.2 478.90h87.4v1.50h-87.4zM185.2 480.40h87.4v2.50h-87.4zM185.2 500.90h87.4v1.50h-87.4zM185.2 516.40h87.4v1.00h-87.4zM359.5 412.90h88.0v2.00h-88.0zM359.5 421.40h88.0v2.00h-88.0zM359.5 435.90h88.0v1.50h-88.0zM359.5 477.90h88.0v1.50h-88.0zM359.5 479.40h88.0v1.50h-88.0zM359.5 483.40h88.0v2.50h-88.0zM359.5 523.90h88.0v2.50h-88.0zM359.5 526.40h88.0v2.00h-88.0zM359.5 553.40h88.0v1.00h-88.0zM99.0 595.50h86.2v2.50h-86.2zM99.0 605.00h86.2v1.50h-86.2zM99.0 673.00h86.2v1.00h-86.2zM99.0 683.50h86.2v1.50h-86.2zM99.0 722.50h86.2v2.50h-86.2zM272.6 587.50h86.9v1.00h-86.9zM272.6 591.50h86.9v1.50h-86.9zM272.6 602.50h86.9v1.50h-86.9zM272.6 604.00h86.9v2.50h-86.9zM272.6 616.00h86.9v1.50h-86.9zM272.6 657.50h86.9v1.00h-86.9zM272.6 676.00h86.9v1.00h-86.9zM272.6 696.50h86.9v1.00h-86.9zM272.6 714.00h86.9v1.50h-86.9zM272.6 730.50h86.9v0.50h-86.9zM185.2 788.00h87.4v1.50h-87.4zM359.5 740.50h88.0v1.50h-88.0zM359.5 811.00h88.0v1.00h-88.0zM359.5 824.50h88.0v2.50h-88.0zM359.5 827.00h88.0v1.00h-88.0zM359.5 890.00h88.0v1.50h-88.0zM99.0 919.50h86.2v2.50h-86.2zM99.0 952.00h86.2v2.00h-86.2zM272.6 942.50h86.9v1.00h-86.9zM272.6 943.50h86.9v1.00h-86.9zM272.6 956.50h86.9v1.00h-86.9zM272.6 959.00h86.9v1.00h-86.9zM272.6 1042.00h86.9v2.50h-86.9zM272.6 1051.00h86.9v2.00h-86.9zM272.6 1079.50h86.9v1.00h-86.9z"/>
<path fill="#e1888b" d="M185.2 442.90h87.4v1.50h-87.4zM185.2 502.40h87.4v2.50h-87.4zM359.5 400.90h88.0v1.00h-88.0zM359.5 450.40h88.0v1.00h-88.0zM359.5 459.90h88.0v2.00h-88.0zM359.5 501.40h88.0v1.50h-88.0zM99.0 622.00h86.2v1.50h-86.2zM99.0 658.50h86.2v2.50h-86.2zM99.0 687.50h86.2v1.50h-86.2zM99.0 710.00h86.2v1.00h-86.2zM272.6 583.50h86.9v1.50h-86.9zM272.6 619.50h86.9v1.50h-86.9zM272.6 621.00h86.9v2.00h-86.9zM272.6 644.50h86.9v1.00h-86.9zM272.6 646.50h86.9v1.00h-86.9zM272.6 664.50h86.9v1.50h-86.9zM272.6 671.50h86.9v1.00h-86.9zM272.6 681.50h86.9v1.50h-86.9zM272.6 695.00h86.9v1.50h-86.9zM185.2 794.50h87.4v1.00h-87.4zM185.2 877.50h87.4v2.00h-87.4zM185.2 887.00h87.4v1.50h-87.4zM272.6 856.00h86.9v1.50h-86.9zM359.5 731.00h88.0v2.50h-88.0zM359.5 765.00h88.0v1.50h-88.0zM359.5 848.00h88.0v1.50h-88.0zM359.5 856.50h88.0v1.50h-88.0zM99.0 974.00h86.2v2.50h-86.2zM99.0 986.00h86.2v1.50h-86.2zM99.0 988.50h86.2v2.50h-86.2zM99.0 992.50h86.2v1.50h-86.2zM99.0 995.50h86.2v1.00h-86.2zM99.0 1027.00h86.2v1.00h-86.2zM272.6 968.00h86.9v2.00h-86.9zM272.6 972.00h86.9v1.00h-86.9zM272.6 1007.50h86.9v1.50h-86.9zM272.6 1016.50h86.9v1.50h-86.9zM272.6 1044.50h86.9v1.00h-86.9zM272.6 1060.00h86.9v2.50h-86.9zM359.5 988.50h88.0v1.50h-88.0z"/>
<path fill="#f4d4d5" d="M185.2 444.40h87.4v2.00h-87.4zM185.2 453.40h87.4v2.50h-87.4zM359.5 398.40h88.0v1.50h-88.0zM359.5 401.90h88.0v1.50h-88.0zM359.5 403.40h88.0v1.50h-88.0zM359.5 417.40h88.0v1.50h-88.0zM359.5 437.40h88.0v1.50h-88.0zM359.5 464.40h88.0v1.50h-88.0zM359.5 531.40h88.0v1.50h-88.0zM99.0 581.00h86.2v1.00h-86.2zM99.0 616.50h86.2v1.00h-86.2zM99.0 641.50h86.2v2.50h-86.2zM99.0 715.00h86.2v1.00h-86.2zM99.0 729.50h86.2v1.00h-86.2zM272.6 574.50h86.9v2.00h-86.9zM272.6 593.00h86.9v1.50h-86.9zM272.6 600.50h86.9v2.00h-86.9zM272.6 645.50h86.9v1.00h-86.9zM272.6 679.00h86.9v1.50h-86.9zM185.2 754.00h87.4v1.00h-87.4zM185.2 765.50h87.4v1.00h-87.4zM185.2 789.50h87.4v1.00h-87.4zM185.2 807.00h87.4v1.50h-87.4zM185.2 808.50h87.4v2.50h-87.4zM185.2 845.50h87.4v2.00h-87.4zM185.2 862.50h87.4v1.50h-87.4zM185.2 874.00h87.4v1.00h-87.4zM359.5 791.00h88.0v1.00h-88.0zM99.0 949.50h86.2v1.00h-86.2zM99.0 961.00h86.2v1.50h-86.2zM99.0 991.00h86.2v1.50h-86.2zM99.0 1051.50h86.2v1.50h-86.2zM272.6 924.50h86.9v2.50h-86.9zM272.6 964.00h86.9v1.50h-86.9zM272.6 989.00h86.9v1.50h-86.9zM272.6 1024.00h86.9v1.00h-86.9zM272.6 1053.00h86.9v1.50h-86.9zM272.6 1057.50h86.9v1.50h-86.9zM272.6 1062.50h86.9v1.50h-86.9z"/>
<path fill="#fcf4f4" d="M185.2 448.90h87.4v1.00h-87.4zM359.5 506.90h88.0v2.00h-88.0zM272.6 572.00h86.9v1.50h-86.9zM185.2 801.50h87.4v1.00h-87.4zM99.0 912.50h86.2v1.00h-86.2zM99.0 1014.00h86.2v1.00h-86.2zM99.0 1028.00h86.2v1.50h-86.2zM99.0 1040.00h86.2v1.50h-86.2zM99.0 1059.00h86.2v2.00h-86.2zM272.6 990.50h86.9v1.50h-86.9z"/>
<path fill="#e9a8ab" d="M185.2 449.90h87.4v1.00h-87.4zM185.2 526.40h87.4v2.50h-87.4zM185.2 532.90h87.4v1.00h-87.4zM185.2 533.90h87.4v1.50h-87.4zM185.2 549.90h87.4v1.50h-87.4zM359.5 386.90h88.0v1.00h-88.0zM359.5 396.90h88.0v1.50h-88.0zM359.5 461.90h88.0v1.00h-88.0zM359.5 471.40h88.0v1.50h-88.0zM359.5 543.90h88.0v2.00h-88.0zM99.0 598.00h86.2v1.00h-86.2zM99.0 602.00h86.2v1.50h-86.2zM99.0 620.00h86.2v2.00h-86.2zM99.0 628.50h86.2v1.50h-86.2zM99.0 637.00h86.2v2.50h-86.2zM99.0 639.50h86.2v1.00h-86.2zM99.0 656.00h86.2v1.50h-86.2zM99.0 665.00h86.2v1.50h-86.2zM99.0 686.00h86.2v1.50h-86.2zM272.6 648.50h86.9v1.50h-86.9zM185.2 733.00h87.4v1.00h-87.4zM185.2 753.00h87.4v1.00h-87.4zM185.2 775.50h87.4v1.50h-87.4zM185.2 853.00h87.4v1.50h-87.4zM185.2 861.00h87.4v1.50h-87.4zM185.2 890.00h87.4v1.00h-87.4zM359.5 829.50h88.0v1.50h-88.0zM99.0 981.00h86.2v1.50h-86.2zM99.0 1022.00h86.2v1.50h-86.2zM99.0 1070.00h86.2v2.00h-86.2zM99.0 1087.00h86.2v2.00h-86.2zM272.6 902.50h86.9v1.50h-86.9zM272.6 930.50h86.9v1.00h-86.9zM272.6 935.50h86.9v2.50h-86.9zM272.6 938.00h86.9v2.50h-86.9zM272.6 1071.50h86.9v1.50h-86.9zM272.6 1073.00h86.9v1.50h-86.9z"/>
<path fill="#7780bb" d="M185.2 462.90h87.4v2.00h-87.4zM272.6 380.40h86.9v1.00h-86.9zM272.6 428.40h86.9v1.00h-86.9zM272.6 497.40h86.9v2.00h-86.9zM359.5 488.90h88.0v1.00h-88.0zM359.5 495.90h88.0v1.00h-88.0zM99.0 644.00h86.2v1.00h-86.2zM99.0 693.50h86.2v2.50h-86.2zM272.6 581.50h86.9v2.00h-86.9zM359.5 647.00h88.0v2.00h-88.0zM99.0 862.50h86.2v1.50h-86.2zM185.2 870.00h87.4v2.50h-87.4zM359.5 738.00h88.0v2.50h-88.0zM359.5 748.50h88.0v1.50h-88.0zM359.5 849.50h88.0v1.50h-88.0zM99.0 962.50h86.2v2.50h-86.2zM99.0 979.00h86.2v2.00h-86.2zM99.0 1025.50h86.2v1.50h-86.2zM272.6 1026.00h86.9v1.50h-86.9zM272.6 1034.00h86.9v2.00h-86.9z"/>
<path fill="#e69da0" d="M185.2 467.90h87.4v1.50h-87.4zM185.2 540.90h87.4v1.50h-87.4zM359.5 404.90h88.0v1.50h-88.0zM359.5 441.40h88.0v1.50h-88.0zM359.5 451.40h88.0v1.50h-88.0zM359.5 485.90h88.0v2.00h-88.0zM359.5 491.40h88.0v1.00h-88.0zM359.5 517.90h88.0v2.50h-88.0zM359.5 537.90h88.0v1.50h-88.0zM99.0 631.50h86.2v1.50h-86.2zM99.0 657.50h86.2v1.00h-86.2zM99.0 702.00h86.2v1.50h-86.2zM272.6 677.00h86.9v1.00h-86.9zM185.2 734.00h87.4v1.50h-87.4zM185.2 766.50h87.4v1.50h-87.4zM185.2 783.00h87.4v1.50h-87.4zM185.2 791.50h87.4v1.50h-87.4zM185.2 811.00h87.4v1.50h-87.4zM359.5 762.50h88.0v1.50h-88.0zM359.5 887.50h88.0v2.50h-88.0zM359.5 895.50h88.0v2.00h-88.0zM99.0 898.00h86.2v1.00h-86.2zM99.0 922.00h86.2v1.50h-86.2zM99.0 940.50h86.2v1.00h-86.2zM99.0 942.50h86.2v1.50h-86.2zM99.0 954.00h86.2v1.00h-86.2zM99.0 960.00h86.2v1.00h-86.2zM99.0 1015.00h86.2v1.50h-86.2zM99.0 1029.50h86.2v1.00h-86.2zM99.0 1074.50h86.2v1.50h-86.2zM272.6 1022.00h86.9v2.00h-86.9zM272.6 1046.50h86.9v1.50h-86.9z"/>
<path fill="#fae9ea" d="M185.2 499.90h87.4v1.00h-87.4zM359.5 549.40h88.0v1.50h-88.0zM99.0 584.50h86.2v1.50h-86.2zM99.0 600.50h86.2v1.50h-86.2zM99.0 603.50h86.2v1.50h-86.2zM99.0 623.50h86.2v1.50h-86.2zM99.0 712.50h86.2v1.50h-86.2zM99.0 730.50h86.2v0.50h-86.2zM272.6 570.50h86.9v1.50h-86.9zM272.6 633.50h86.9v1.00h-86.9zM185.2 834.50h87.4v1.50h-87.4zM185.2 837.00h87.4v1.00h-87.4zM359.5 734.50h88.0v2.50h-88.0zM359.5 794.50h88.0v2.50h-88.0zM359.5 834.50h88.0v1.50h-88.0zM359.5 867.50h88.0v1.50h-88.0zM99.0 941.50h86.2v1.00h-86.2zM99.0 956.50h86.2v2.00h-86.2zM99.0 958.50h86.2v1.50h-86.2zM99.0 1037.00h86.2v1.50h-86.2zM272.6 905.50h86.9v1.00h-86.9zM272.6 1029.00h86.9v1.50h-86.9z"/>
<path fill="#f6f7fa" d="M185.2 513.40h87.4v2.00h-87.4zM359.5 529.90h88.0v1.50h-88.0zM99.0 615.00h86.2v1.50h-86.2zM272.6 590.00h86.9v1.50h-86.9zM272.6 690.00h86.9v2.00h-86.9zM272.6 715.50h86.9v1.00h-86.9zM359.5 764.00h88.0v1.00h-88.0zM99.0 918.00h86.2v1.50h-86.2zM99.0 984.00h86.2v2.00h-86.2zM99.0 1030.50h86.2v1.50h-86.2zM99.0 1043.00h86.2v2.00h-86.2zM99.0 1068.50h86.2v1.50h-86.2zM272.6 999.50h86.9v1.50h-86.9z"/>
<path fill="#5c67ad" d="M272.6 378.40h86.9v2.00h-86.9zM272.6 387.90h86.9v1.00h-86.9zM272.6 396.90h86.9v3.00h-86.9zM272.6 413.90h86.9v2.00h-86.9zM272.6 415.90h86.9v2.00h-86.9zM272.6 432.90h86.9v3.00h-86.9zM272.6 439.90h86.9v1.50h-86.9zM272.6 464.90h86.9v3.00h-86.9zM272.6 473.40h86.9v1.00h-86.9zM272.6 478.90h86.9v3.00h-86.9zM272.6 525.40h86.9v1.50h-86.9zM272.6 556.40h86.9v2.00h-86.9zM359.5 565.50h88.0v1.00h-88.0zM359.5 586.00h88.0v3.00h-88.0zM359.5 604.50h88.0v1.00h-88.0zM359.5 607.50h88.0v2.50h-88.0zM359.5 617.50h88.0v2.50h-88.0zM359.5 625.00h88.0v1.50h-88.0zM359.5 645.00h88.0v2.00h-88.0zM359.5 655.50h88.0v2.50h-88.0zM359.5 658.00h88.0v2.00h-88.0zM359.5 663.00h88.0v3.00h-88.0zM359.5 673.50h88.0v2.50h-88.0zM359.5 701.00h88.0v2.50h-88.0zM359.5 723.50h88.0v2.50h-88.0zM99.0 731.00h86.2v2.00h-86.2zM99.0 733.00h86.2v2.50h-86.2zM99.0 735.50h86.2v1.00h-86.2zM99.0 755.00h86.2v1.00h-86.2zM99.0 757.50h86.2v1.00h-86.2zM99.0 777.00h86.2v1.00h-86.2zM99.0 786.50h86.2v1.00h-86.2zM99.0 811.00h86.2v2.00h-86.2zM99.0 822.50h86.2v2.50h-86.2zM99.0 839.00h86.2v3.00h-86.2zM99.0 857.50h86.2v1.50h-86.2zM99.0 860.50h86.2v2.00h-86.2zM99.0 872.00h86.2v1.50h-86.2zM99.0 881.00h86.2v1.50h-86.2zM99.0 882.50h86.2v2.00h-86.2zM185.2 901.50h87.4v3.00h-87.4zM185.2 916.50h87.4v3.00h-87.4zM185.2 919.50h87.4v1.50h-87.4zM185.2 926.00h87.4v2.50h-87.4zM185.2 936.50h87.4v2.50h-87.4zM185.2 940.00h87.4v2.00h-87.4zM185.2 946.50h87.4v3.00h-87.4zM185.2 964.50h87.4v3.00h-87.4zM185.2 969.50h87.4v2.00h-87.4zM185.2 994.00h87.4v2.00h-87.4zM185.2 1009.00h87.4v1.00h-87.4zM185.2 1047.00h87.4v1.00h-87.4zM185.2 1055.00h87.4v2.00h-87.4zM185.2 1057.00h87.4v3.00h-87.4zM185.2 1080.00h87.4v3.00h-87.4zM185.2 1087.00h87.4v3.00h-87.4zM185.2 1090.00h87.4v1.00h-87.4z"/>
<path fill="#656fb2" d="M272.6 381.40h86.9v2.00h-86.9zM272.6 494.90h86.9v2.50h-86.9zM359.5 620.00h88.0v3.00h-88.0zM185.2 990.00h87.4v2.00h-87.4z"/>
<path fill="#535ea9" d="M272.6 383.40h86.9v1.00h-86.9zM272.6 386.40h86.9v1.50h-86.9zM272.6 390.40h86.9v3.00h-86.9zM272.6 393.40h86.9v1.50h-86.9zM272.6 394.90h86.9v2.00h-86.9zM272.6 399.90h86.9v2.00h-86.9zM272.6 402.90h86.9v1.00h-86.9zM272.6 403.90h86.9v1.50h-86.9zM272.6 405.40h86.9v3.00h-86.9zM272.6 408.40h86.9v2.50h-86.9zM272.6 412.90h86.9v1.00h-86.9zM272.6 419.40h86.9v1.00h-86.9zM272.6 420.40h86.9v3.00h-86.9zM272.6 423.40h86.9v1.50h-86.9zM272.6 425.90h86.9v2.50h-86.9zM272.6 429.40h86.9v1.50h-86.9zM272.6 435.90h86.9v3.00h-86.9zM272.6 447.40h86.9v2.50h-86.9zM272.6 451.40h86.9v1.00h-86.9zM272.6 454.40h86.9v2.00h-86.9zM272.6 456.40h86.9v1.00h-86.9zM272.6 467.90h86.9v1.00h-86.9zM272.6 468.90h86.9v2.00h-86.9zM272.6 470.90h86.9v2.50h-86.9zM272.6 476.40h86.9v1.00h-86.9zM272.6 477.40h86.9v1.50h-86.9zM272.6 499.40h86.9v1.50h-86.9zM272.6 500.90h86.9v1.50h-86.9zM272.6 505.40h86.9v1.00h-86.9zM272.6 506.40h86.9v1.00h-86.9zM272.6 507.40h86.9v3.00h-86.9zM272.6 510.40h86.9v3.00h-86.9zM272.6 517.40h86.9v2.50h-86.9zM272.6 531.90h86.9v3.00h-86.9zM272.6 534.90h86.9v3.00h-86.9zM272.6 539.40h86.9v2.50h-86.9zM272.6 547.90h86.9v2.00h-86.9zM272.6 554.40h86.9v2.00h-86.9zM272.6 558.40h86.9v0.60h-86.9zM359.5 559.00h88.0v1.50h-88.0zM359.5 563.50h88.0v2.00h-88.0zM359.5 566.50h88.0v3.00h-88.0zM359.5 569.50h88.0v3.00h-88.0zM359.5 573.50h88.0v2.00h-88.0zM359.5 576.50h88.0v1.00h-88.0zM359.5 589.00h88.0v2.00h-88.0zM359.5 591.00h88.0v1.50h-88.0zM359.5 592.50h88.0v2.00h-88.0zM359.5 599.50h88.0v2.00h-88.0zM359.5 603.00h88.0v1.50h-88.0zM359.5 605.50h88.0v2.00h-88.0zM359.5 610.00h88.0v1.00h-88.0zM359.5 611.00h88.0v3.00h-88.0zM359.5 614.00h88.0v2.00h-88.0zM359.5 616.00h88.0v1.50h-88.0zM359.5 623.00h88.0v2.00h-88.0zM359.5 627.50h88.0v2.00h-88.0zM359.5 632.00h88.0v2.50h-88.0zM359.5 636.50h88.0v2.00h-88.0zM359.5 638.50h88.0v2.00h-88.0zM359.5 640.50h88.0v1.00h-88.0zM359.5 643.50h88.0v1.50h-88.0zM359.5 650.50h88.0v2.00h-88.0zM359.5 662.00h88.0v1.00h-88.0zM359.5 666.00h88.0v1.50h-88.0zM359.5 671.50h88.0v2.00h-88.0zM359.5 682.00h88.0v2.00h-88.0zM359.5 684.00h88.0v2.50h-88.0zM359.5 690.00h88.0v3.00h-88.0zM359.5 693.00h88.0v1.00h-88.0zM359.5 695.00h88.0v1.00h-88.0zM359.5 697.00h88.0v1.00h-88.0zM359.5 698.00h88.0v3.00h-88.0zM359.5 703.50h88.0v3.00h-88.0zM359.5 708.00h88.0v1.00h-88.0zM359.5 717.00h88.0v1.50h-88.0zM359.5 718.50h88.0v3.00h-88.0zM359.5 721.50h88.0v2.00h-88.0zM359.5 726.00h88.0v2.50h-88.0zM359.5 728.50h88.0v1.00h-88.0zM359.5 729.50h88.0v1.00h-88.0zM359.5 730.50h88.0v0.50h-88.0zM99.0 736.50h86.2v2.00h-86.2zM99.0 738.50h86.2v2.00h-86.2zM99.0 744.00h86.2v1.50h-86.2zM99.0 745.50h86.2v2.00h-86.2zM99.0 747.50h86.2v2.50h-86.2zM99.0 750.00h86.2v1.00h-86.2zM99.0 751.00h86.2v2.00h-86.2zM99.0 753.00h86.2v2.00h-86.2zM99.0 761.00h86.2v1.50h-86.2zM99.0 762.50h86.2v2.00h-86.2zM99.0 764.50h86.2v2.50h-86.2zM99.0 771.50h86.2v2.00h-86.2zM99.0 773.50h86.2v2.00h-86.2zM99.0 775.50h86.2v1.50h-86.2zM99.0 778.00h86.2v3.00h-86.2zM99.0 783.00h86.2v1.00h-86.2zM99.0 785.00h86.2v1.50h-86.2zM99.0 787.50h86.2v2.00h-86.2zM99.0 792.50h86.2v3.00h-86.2zM99.0 795.50h86.2v2.00h-86.2zM99.0 797.50h86.2v3.00h-86.2zM99.0 804.00h86.2v2.00h-86.2zM99.0 818.50h86.2v1.00h-86.2zM99.0 819.50h86.2v3.00h-86.2zM99.0 825.00h86.2v2.50h-86.2zM99.0 829.50h86.2v3.00h-86.2zM99.0 832.50h86.2v1.00h-86.2zM99.0 833.50h86.2v1.50h-86.2zM99.0 835.00h86.2v1.00h-86.2zM99.0 847.00h86.2v2.00h-86.2zM99.0 849.00h86.2v3.00h-86.2zM99.0 852.00h86.2v2.50h-86.2zM99.0 854.50h86.2v3.00h-86.2zM99.0 859.00h86.2v1.50h-86.2zM99.0 864.00h86.2v2.50h-86.2zM99.0 868.50h86.2v1.50h-86.2zM99.0 870.00h86.2v2.00h-86.2zM99.0 877.00h86.2v3.00h-86.2zM99.0 884.50h86.2v1.00h-86.2zM99.0 886.50h86.2v2.00h-86.2zM99.0 888.50h86.2v1.00h-86.2zM99.0 894.50h86.2v1.00h-86.2zM99.0 895.50h86.2v2.00h-86.2zM185.2 906.50h87.4v2.50h-87.4zM185.2 909.00h87.4v3.00h-87.4zM185.2 912.00h87.4v2.00h-87.4zM185.2 914.00h87.4v1.50h-87.4zM185.2 915.50h87.4v1.00h-87.4zM185.2 921.00h87.4v3.00h-87.4zM185.2 931.50h87.4v2.50h-87.4zM185.2 939.00h87.4v1.00h-87.4zM185.2 943.00h87.4v1.00h-87.4zM185.2 944.00h87.4v2.50h-87.4zM185.2 952.00h87.4v2.00h-87.4zM185.2 972.50h87.4v3.00h-87.4zM185.2 975.50h87.4v3.00h-87.4zM185.2 978.50h87.4v3.00h-87.4zM185.2 984.00h87.4v2.00h-87.4zM185.2 992.00h87.4v2.00h-87.4zM185.2 998.50h87.4v2.50h-87.4zM185.2 1001.00h87.4v1.50h-87.4zM185.2 1005.00h87.4v2.00h-87.4zM185.2 1008.00h87.4v1.00h-87.4zM185.2 1012.50h87.4v2.00h-87.4zM185.2 1016.50h87.4v1.50h-87.4zM185.2 1018.00h87.4v2.00h-87.4zM185.2 1021.50h87.4v2.50h-87.4zM185.2 1024.00h87.4v3.00h-87.4zM185.2 1027.00h87.4v2.50h-87.4zM185.2 1029.50h87.4v1.00h-87.4zM185.2 1033.50h87.4v2.00h-87.4zM185.2 1035.50h87.4v2.00h-87.4zM185.2 1037.50h87.4v2.00h-87.4zM185.2 1048.00h87.4v3.00h-87.4zM185.2 1051.00h87.4v2.50h-87.4zM185.2 1060.00h87.4v1.50h-87.4zM185.2 1061.50h87.4v1.00h-87.4zM185.2 1064.50h87.4v1.00h-87.4zM185.2 1065.50h87.4v2.50h-87.4zM185.2 1068.00h87.4v2.50h-87.4zM185.2 1083.00h87.4v1.00h-87.4zM185.2 1084.00h87.4v3.00h-87.4z"/>
<path fill="#4a56a4" d="M272.6 388.90h86.9v1.50h-86.9zM272.6 401.90h86.9v1.00h-86.9zM272.6 410.90h86.9v2.00h-86.9zM272.6 417.90h86.9v1.50h-86.9zM272.6 430.90h86.9v2.00h-86.9zM272.6 438.90h86.9v1.00h-86.9zM272.6 441.40h86.9v2.50h-86.9zM272.6 445.90h86.9v1.50h-86.9zM272.6 449.90h86.9v1.50h-86.9zM272.6 452.40h86.9v2.00h-86.9zM272.6 457.40h86.9v3.00h-86.9zM272.6 460.40h86.9v3.00h-86.9zM272.6 463.40h86.9v1.50h-86.9zM272.6 481.90h86.9v2.00h-86.9zM272.6 483.90h86.9v1.50h-86.9zM272.6 485.40h86.9v1.00h-86.9zM272.6 486.40h86.9v2.00h-86.9zM272.6 488.40h86.9v2.00h-86.9zM272.6 492.90h86.9v2.00h-86.9zM272.6 502.40h86.9v3.00h-86.9zM272.6 513.40h86.9v2.00h-86.9zM272.6 515.40h86.9v2.00h-86.9zM272.6 519.90h86.9v1.50h-86.9zM272.6 521.40h86.9v1.50h-86.9zM272.6 522.90h86.9v2.50h-86.9zM272.6 527.90h86.9v2.00h-86.9zM272.6 530.90h86.9v1.00h-86.9zM272.6 537.90h86.9v1.50h-86.9zM272.6 541.90h86.9v2.00h-86.9zM272.6 543.90h86.9v2.00h-86.9zM272.6 545.90h86.9v1.00h-86.9zM272.6 546.90h86.9v1.00h-86.9zM272.6 549.90h86.9v2.00h-86.9zM359.5 560.50h88.0v1.00h-88.0zM359.5 572.50h88.0v1.00h-88.0zM359.5 575.50h88.0v1.00h-88.0zM359.5 580.00h88.0v2.50h-88.0zM359.5 582.50h88.0v1.50h-88.0zM359.5 584.00h88.0v2.00h-88.0zM359.5 594.50h88.0v2.00h-88.0zM359.5 596.50h88.0v1.00h-88.0zM359.5 601.50h88.0v1.50h-88.0zM359.5 626.50h88.0v1.00h-88.0zM359.5 629.50h88.0v2.50h-88.0zM359.5 634.50h88.0v2.00h-88.0zM359.5 641.50h88.0v2.00h-88.0zM359.5 652.50h88.0v1.00h-88.0zM359.5 660.00h88.0v2.00h-88.0zM359.5 676.00h88.0v1.50h-88.0zM359.5 679.50h88.0v2.50h-88.0zM359.5 686.50h88.0v2.00h-88.0zM359.5 688.50h88.0v1.50h-88.0zM359.5 694.00h88.0v1.00h-88.0zM359.5 706.50h88.0v1.50h-88.0zM359.5 709.00h88.0v1.00h-88.0zM359.5 711.50h88.0v2.00h-88.0zM359.5 713.50h88.0v1.00h-88.0zM359.5 714.50h88.0v2.50h-88.0zM99.0 740.50h86.2v2.00h-86.2zM99.0 742.50h86.2v1.50h-86.2zM99.0 756.00h86.2v1.50h-86.2zM99.0 758.50h86.2v2.50h-86.2zM99.0 767.00h86.2v1.50h-86.2zM99.0 768.50h86.2v3.00h-86.2zM99.0 781.00h86.2v2.00h-86.2zM99.0 784.00h86.2v1.00h-86.2zM99.0 789.50h86.2v3.00h-86.2zM99.0 802.00h86.2v2.00h-86.2zM99.0 806.00h86.2v3.00h-86.2zM99.0 813.00h86.2v2.50h-86.2zM99.0 815.50h86.2v1.00h-86.2zM99.0 816.50h86.2v2.00h-86.2zM99.0 842.00h86.2v3.00h-86.2zM99.0 866.50h86.2v2.00h-86.2zM99.0 875.00h86.2v2.00h-86.2zM99.0 880.00h86.2v1.00h-86.2zM99.0 885.50h86.2v1.00h-86.2zM99.0 889.50h86.2v2.00h-86.2zM99.0 891.50h86.2v1.00h-86.2zM185.2 898.00h87.4v1.50h-87.4zM185.2 899.50h87.4v2.00h-87.4zM185.2 904.50h87.4v2.00h-87.4zM185.2 924.00h87.4v2.00h-87.4zM185.2 928.50h87.4v1.00h-87.4zM185.2 929.50h87.4v2.00h-87.4zM185.2 934.00h87.4v2.50h-87.4zM185.2 949.50h87.4v2.50h-87.4zM185.2 956.00h87.4v2.50h-87.4zM185.2 958.50h87.4v2.00h-87.4zM185.2 960.50h87.4v1.50h-87.4zM185.2 962.00h87.4v2.50h-87.4zM185.2 967.50h87.4v2.00h-87.4zM185.2 981.50h87.4v2.50h-87.4zM185.2 986.00h87.4v2.00h-87.4zM185.2 988.00h87.4v1.00h-87.4zM185.2 989.00h87.4v1.00h-87.4zM185.2 996.00h87.4v2.50h-87.4zM185.2 1002.50h87.4v2.50h-87.4zM185.2 1007.00h87.4v1.00h-87.4zM185.2 1014.50h87.4v2.00h-87.4zM185.2 1039.50h87.4v1.50h-87.4zM185.2 1041.00h87.4v2.50h-87.4zM185.2 1043.50h87.4v1.50h-87.4zM185.2 1046.00h87.4v1.00h-87.4zM185.2 1053.50h87.4v1.50h-87.4zM185.2 1070.50h87.4v2.00h-87.4zM185.2 1072.50h87.4v3.00h-87.4zM185.2 1075.50h87.4v2.50h-87.4zM185.2 1078.00h87.4v2.00h-87.4zM185.2 1091.00h87.4v0.50h-87.4z"/>
<path fill="#d8676b" d="M185.2 617.50h87.4v3.00h-87.4zM272.6 824.50h86.9v2.00h-86.9zM272.6 865.50h86.9v1.00h-86.9zM359.5 926.00h88.0v2.00h-88.0zM359.5 1018.50h88.0v3.00h-88.0zM359.5 1064.00h88.0v3.00h-88.0z"/>
<path fill="#d65c61" d="M185.2 690.50h87.4v1.00h-87.4zM272.6 732.00h86.9v1.50h-86.9zM272.6 748.00h86.9v2.50h-86.9zM272.6 779.50h86.9v2.00h-86.9zM272.6 801.00h86.9v1.00h-86.9zM272.6 808.00h86.9v2.00h-86.9zM272.6 828.50h86.9v1.00h-86.9zM272.6 851.00h86.9v3.00h-86.9zM272.6 872.00h86.9v1.50h-86.9zM359.5 905.00h88.0v1.00h-88.0zM359.5 1028.50h88.0v2.00h-88.0zM359.5 1033.00h88.0v1.50h-88.0zM359.5 1045.50h88.0v2.00h-88.0zM359.5 1050.00h88.0v2.50h-88.0zM359.5 1057.00h88.0v3.00h-88.0zM359.5 1069.00h88.0v1.50h-88.0z"/>
<path fill="#6e78b6" d="M359.5 561.50h88.0v2.00h-88.0zM359.5 653.50h88.0v2.00h-88.0zM359.5 677.50h88.0v2.00h-88.0zM99.0 892.50h86.2v2.00h-86.2zM185.2 954.00h87.4v2.00h-87.4zM185.2 971.50h87.4v1.00h-87.4zM185.2 1010.00h87.4v2.50h-87.4zM185.2 1030.50h87.4v3.00h-87.4z"/>
<path fill="#db7276" d="M272.6 796.50h86.9v1.50h-86.9zM359.5 998.50h88.0v2.00h-88.0z"/>
<rect x="451.0" y="378.4" width="23.0" height="177.6" fill="#B86CA8"/>
<rect x="451.0" y="556.0" width="23.0" height="174.0" fill="#93C4AA"/>
<rect x="451.0" y="730.0" width="23.0" height="168.0" fill="#DDA65A"/>
<rect x="451.0" y="898.0" width="23.0" height="193.5" fill="#5E3A8C"/>
<rect x="96.5" y="1095.0" width="175.0" height="24.5" fill="#fff" stroke="#333" stroke-width="1.2"/>
<rect x="271.4" y="1094.5" width="180.3" height="25.5" fill="#050505"/>
<text x="5.0" y="355.0" font-size="45" text-anchor="start" fill="#000" font-weight="bold">B</text>
<text x="62" y="365" font-size="28" fill="#111" stroke="#111" stroke-width="0.35">ZT<tspan dx="3">:</tspan></text>
<text x="144.5" y="365.0" font-size="28" text-anchor="middle" fill="#111" stroke="#111" stroke-width="0.35">2</text>
<text x="226.5" y="365.0" font-size="28" text-anchor="middle" fill="#111" stroke="#111" stroke-width="0.35">8</text>
<text x="316.0" y="365.0" font-size="28" text-anchor="middle" fill="#111" stroke="#111" stroke-width="0.35">14</text>
<text x="403.0" y="365.0" font-size="28" text-anchor="middle" fill="#111" stroke="#111" stroke-width="0.35">20</text>
<text x="145.0" y="1150.0" font-size="23" text-anchor="start" fill="#111" stroke="#111" stroke-width="0.35">Z-score</text>
<defs><linearGradient id="zg" x1="0" x2="1" y1="0" y2="0"><stop offset="0" stop-color="#4A56A4"/><stop offset="0.5" stop-color="#ffffff"/><stop offset="1" stop-color="#C8262C"/></linearGradient></defs>
<rect x="237.8" y="1133.0" width="81.8" height="17.0" fill="url(#zg)"/>
<line x1="237.8" y1="1150.0" x2="319.6" y2="1150.0" stroke="#222" stroke-width="1.2"/>
<line x1="249.5" y1="1150.0" x2="249.5" y2="1155.5" stroke="#222" stroke-width="1.2"/>
<text x="249.5" y="1175.5" font-size="23" text-anchor="middle" fill="#111" stroke="#111" stroke-width="0.35">−2</text>
<line x1="278.7" y1="1150.0" x2="278.7" y2="1155.5" stroke="#222" stroke-width="1.2"/>
<text x="278.7" y="1175.5" font-size="23" text-anchor="middle" fill="#111" stroke="#111" stroke-width="0.35">0</text>
<line x1="308.0" y1="1150.0" x2="308.0" y2="1155.5" stroke="#222" stroke-width="1.2"/>
<text x="308.0" y="1175.5" font-size="23" text-anchor="middle" fill="#111" stroke="#111" stroke-width="0.35">2</text>
<line x1="474.0" y1="379.0" x2="659.0" y2="65.5" stroke="#1a1a1a" stroke-width="1.6"/>
<line x1="474.0" y1="555.0" x2="659.0" y2="359.0" stroke="#1a1a1a" stroke-width="1.6"/>
<line x1="474.0" y1="558.5" x2="659.0" y2="365.0" stroke="#1a1a1a" stroke-width="1.6"/>
<line x1="474.0" y1="728.5" x2="659.0" y2="564.0" stroke="#1a1a1a" stroke-width="1.6"/>
<line x1="474.0" y1="732.0" x2="659.0" y2="570.5" stroke="#1a1a1a" stroke-width="1.6"/>
<line x1="474.0" y1="896.0" x2="659.0" y2="833.5" stroke="#1a1a1a" stroke-width="1.6"/>
<line x1="474.0" y1="899.5" x2="659.0" y2="839.5" stroke="#1a1a1a" stroke-width="1.6"/>
<line x1="474.0" y1="1091.5" x2="659.0" y2="1161.0" stroke="#1a1a1a" stroke-width="1.6"/>
<rect x="659" y="65.5" width="674.5" height="293.0" fill="none" stroke="#111" stroke-width="1.8"/>
<rect x="957.5" y="80.3" width="43.9" height="26.0" fill="#B96DA7"/>
<rect x="957.5" y="122.0" width="64.3" height="26.0" fill="#B96DA7"/>
<rect x="957.5" y="163.7" width="86.8" height="26.0" fill="#B96DA7"/>
<rect x="957.5" y="205.5" width="148.1" height="26.0" fill="#B96DA7"/>
<rect x="957.5" y="247.2" width="149.8" height="26.0" fill="#B96DA7"/>
<rect x="957.5" y="288.9" width="250.2" height="26.0" fill="#B96DA7"/>
<line x1="957.5" y1="72.4" x2="957.5" y2="322.8" stroke="#222" stroke-width="1.5"/>
<line x1="957.5" y1="322.8" x2="1297.9" y2="322.8" stroke="#222" stroke-width="1.5"/>
<line x1="952.0" y1="72.4" x2="957.5" y2="72.4" stroke="#222" stroke-width="1.3"/>
<line x1="952.0" y1="114.1" x2="957.5" y2="114.1" stroke="#222" stroke-width="1.3"/>
<line x1="952.0" y1="155.9" x2="957.5" y2="155.9" stroke="#222" stroke-width="1.3"/>
<line x1="952.0" y1="197.6" x2="957.5" y2="197.6" stroke="#222" stroke-width="1.3"/>
<line x1="952.0" y1="239.3" x2="957.5" y2="239.3" stroke="#222" stroke-width="1.3"/>
<line x1="952.0" y1="281.1" x2="957.5" y2="281.1" stroke="#222" stroke-width="1.3"/>
<line x1="952.0" y1="322.8" x2="957.5" y2="322.8" stroke="#222" stroke-width="1.3"/>
<line x1="957.5" y1="322.8" x2="957.5" y2="328.8" stroke="#222" stroke-width="1.3"/>
<text x="958.5" y="352.0" font-size="23" text-anchor="middle" fill="#111" stroke="#111" stroke-width="0.35">0</text>
<line x1="1042.6" y1="322.8" x2="1042.6" y2="328.8" stroke="#222" stroke-width="1.3"/>
<text x="1043.1" y="352.0" font-size="23" text-anchor="middle" fill="#111" stroke="#111" stroke-width="0.35">5</text>
<line x1="1127.7" y1="322.8" x2="1127.7" y2="328.8" stroke="#222" stroke-width="1.3"/>
<text x="1129.7" y="352.0" font-size="23" text-anchor="middle" fill="#111" stroke="#111" stroke-width="0.35">10</text>
<line x1="1212.8" y1="322.8" x2="1212.8" y2="328.8" stroke="#222" stroke-width="1.3"/>
<text x="1217.3" y="352.0" font-size="23" text-anchor="middle" fill="#111" stroke="#111" stroke-width="0.35">15</text>
<line x1="1297.9" y1="322.8" x2="1297.9" y2="328.8" stroke="#222" stroke-width="1.3"/>
<text x="1299.9" y="352.0" font-size="23" text-anchor="middle" fill="#111" stroke="#111" stroke-width="0.35">20</text>
<text x="937.5" y="99.3" font-size="23.5" text-anchor="end" fill="#111" stroke="#111" stroke-width="0.35">RNA splicing</text>
<text x="937.5" y="141.0" font-size="23.5" text-anchor="end" fill="#111" stroke="#111" stroke-width="0.35">mRNA processing</text>
<text x="937.5" y="182.7" font-size="23.5" text-anchor="end" fill="#111" stroke="#111" stroke-width="0.35">ribosome biogenesis</text>
<text x="937.5" y="224.5" font-size="23.5" text-anchor="end" fill="#111" stroke="#111" stroke-width="0.35">DNA repair</text>
<text x="937.5" y="266.2" font-size="23.5" text-anchor="end" fill="#111" stroke="#111" stroke-width="0.35">rRNA processing</text>
<text x="937.5" y="307.9" font-size="23.5" text-anchor="end" fill="#111" stroke="#111" stroke-width="0.35">cell cycle</text>
<rect x="659" y="365" width="674.5" height="198" fill="none" stroke="#111" stroke-width="1.8"/>
<rect x="961.0" y="379.8" width="14.5" height="25.0" fill="#93C4AA"/>
<rect x="961.0" y="419.4" width="17.7" height="25.0" fill="#93C4AA"/>
<rect x="961.0" y="459.2" width="94.7" height="25.0" fill="#93C4AA"/>
<rect x="961.0" y="498.9" width="243.4" height="25.0" fill="#93C4AA"/>
<line x1="961.0" y1="372.4" x2="961.0" y2="531.2" stroke="#222" stroke-width="1.5"/>
<line x1="961.0" y1="531.2" x2="1283.4" y2="531.2" stroke="#222" stroke-width="1.5"/>
<line x1="955.5" y1="372.4" x2="961.0" y2="372.4" stroke="#222" stroke-width="1.3"/>
<line x1="955.5" y1="412.1" x2="961.0" y2="412.1" stroke="#222" stroke-width="1.3"/>
<line x1="955.5" y1="451.8" x2="961.0" y2="451.8" stroke="#222" stroke-width="1.3"/>
<line x1="955.5" y1="491.5" x2="961.0" y2="491.5" stroke="#222" stroke-width="1.3"/>
<line x1="955.5" y1="531.2" x2="961.0" y2="531.2" stroke="#222" stroke-width="1.3"/>
<line x1="961.0" y1="531.2" x2="961.0" y2="537.2" stroke="#222" stroke-width="1.3"/>
<text x="958.0" y="558.6" font-size="23" text-anchor="middle" fill="#111" stroke="#111" stroke-width="0.35">0</text>
<line x1="1041.6" y1="531.2" x2="1041.6" y2="537.2" stroke="#222" stroke-width="1.3"/>
<text x="1039.6" y="558.6" font-size="23" text-anchor="middle" fill="#111" stroke="#111" stroke-width="0.35">20</text>
<line x1="1122.2" y1="531.2" x2="1122.2" y2="537.2" stroke="#222" stroke-width="1.3"/>
<text x="1120.7" y="558.6" font-size="23" text-anchor="middle" fill="#111" stroke="#111" stroke-width="0.35">40</text>
<line x1="1202.8" y1="531.2" x2="1202.8" y2="537.2" stroke="#222" stroke-width="1.3"/>
<text x="1201.1" y="558.6" font-size="23" text-anchor="middle" fill="#111" stroke="#111" stroke-width="0.35">60</text>
<line x1="1283.4" y1="531.2" x2="1283.4" y2="537.2" stroke="#222" stroke-width="1.3"/>
<text x="1282.1" y="558.6" font-size="23" text-anchor="middle" fill="#111" stroke="#111" stroke-width="0.35">80</text>
<text x="942.0" y="397.2" font-size="23.5" text-anchor="end" fill="#111" stroke="#111" stroke-width="0.35">protein transport</text>
<text x="942.0" y="436.9" font-size="23.5" text-anchor="end" fill="#111" stroke="#111" stroke-width="0.35">tricarboxylic acid cycle</text>
<text x="942.0" y="476.7" font-size="23.5" text-anchor="end" fill="#111" stroke="#111" stroke-width="0.35">aerobic respiration</text>
<text x="942.0" y="516.4" font-size="23.5" text-anchor="end" fill="#111" stroke="#111" stroke-width="0.35">cytoplasmic translation</text>
<rect x="659" y="570.5" width="674.5" height="262.5" fill="none" stroke="#111" stroke-width="1.8"/>
<rect x="961.0" y="592.4" width="40.9" height="22.6" fill="#DDA65A"/>
<rect x="961.0" y="628.7" width="47.1" height="22.6" fill="#DDA65A"/>
<rect x="961.0" y="664.9" width="72.7" height="22.6" fill="#DDA65A"/>
<rect x="961.0" y="701.1" width="115.2" height="22.6" fill="#DDA65A"/>
<rect x="961.0" y="737.4" width="115.9" height="22.6" fill="#DDA65A"/>
<rect x="961.0" y="773.6" width="233.4" height="22.6" fill="#DDA65A"/>
<line x1="961.0" y1="585.6" x2="961.0" y2="803.0" stroke="#222" stroke-width="1.5"/>
<line x1="961.0" y1="803.0" x2="1268.0" y2="803.0" stroke="#222" stroke-width="1.5"/>
<line x1="955.5" y1="585.6" x2="961.0" y2="585.6" stroke="#222" stroke-width="1.3"/>
<line x1="955.5" y1="621.8" x2="961.0" y2="621.8" stroke="#222" stroke-width="1.3"/>
<line x1="955.5" y1="658.1" x2="961.0" y2="658.1" stroke="#222" stroke-width="1.3"/>
<line x1="955.5" y1="694.3" x2="961.0" y2="694.3" stroke="#222" stroke-width="1.3"/>
<line x1="955.5" y1="730.5" x2="961.0" y2="730.5" stroke="#222" stroke-width="1.3"/>
<line x1="955.5" y1="766.8" x2="961.0" y2="766.8" stroke="#222" stroke-width="1.3"/>
<line x1="955.5" y1="803.0" x2="961.0" y2="803.0" stroke="#222" stroke-width="1.3"/>
<line x1="961.0" y1="803.0" x2="961.0" y2="809.0" stroke="#222" stroke-width="1.3"/>
<text x="964.0" y="825.7" font-size="23" text-anchor="middle" fill="#111" stroke="#111" stroke-width="0.35">0</text>
<line x1="1063.3" y1="803.0" x2="1063.3" y2="809.0" stroke="#222" stroke-width="1.3"/>
<text x="1066.0" y="825.7" font-size="23" text-anchor="middle" fill="#111" stroke="#111" stroke-width="0.35">5</text>
<line x1="1165.7" y1="803.0" x2="1165.7" y2="809.0" stroke="#222" stroke-width="1.3"/>
<text x="1170.7" y="825.7" font-size="23" text-anchor="middle" fill="#111" stroke="#111" stroke-width="0.35">10</text>
<line x1="1268.0" y1="803.0" x2="1268.0" y2="809.0" stroke="#222" stroke-width="1.3"/>
<text x="1273.0" y="825.7" font-size="23" text-anchor="middle" fill="#111" stroke="#111" stroke-width="0.35">15</text>
<text x="942.0" y="608.7" font-size="23.5" text-anchor="end" fill="#111" stroke="#111" stroke-width="0.35">phosphorylation</text>
<text x="942.0" y="645.0" font-size="23.5" text-anchor="end" fill="#111" stroke="#111" stroke-width="0.35">cytoskeleton organization</text>
<text x="943.3" y="672.5" font-size="23.5" text-anchor="end" fill="#111" stroke="#111" stroke-width="0.35">small GTPase mediated</text>
<text x="943.3" y="694.0" font-size="23.5" text-anchor="end" fill="#111" stroke="#111" stroke-width="0.35">signal transduction</text>
<text x="945.5" y="716.5" font-size="23.5" text-anchor="end" fill="#111" stroke="#111" stroke-width="0.35">steroid metabolism</text>
<text x="942.0" y="753.6" font-size="23.5" text-anchor="end" fill="#111" stroke="#111" stroke-width="0.35">steroid biosynthesis</text>
<text x="942.0" y="789.9" font-size="23.5" text-anchor="end" fill="#111" stroke="#111" stroke-width="0.35">lipid metabolism</text>
<rect x="659" y="839.5" width="674.5" height="321.70000000000005" fill="none" stroke="#111" stroke-width="1.8"/>
<rect x="962.5" y="866.8" width="102.7" height="18.6" fill="#5F3B8A"/>
<rect x="962.5" y="896.5" width="102.7" height="18.6" fill="#5F3B8A"/>
<rect x="962.5" y="926.2" width="102.7" height="18.6" fill="#5F3B8A"/>
<rect x="962.5" y="955.9" width="115.0" height="18.6" fill="#5F3B8A"/>
<rect x="962.5" y="985.6" width="205.3" height="18.6" fill="#5F3B8A"/>
<rect x="962.5" y="1015.2" width="219.8" height="18.6" fill="#5F3B8A"/>
<rect x="962.5" y="1045.0" width="236.4" height="18.6" fill="#5F3B8A"/>
<rect x="962.5" y="1074.7" width="340.5" height="18.6" fill="#5F3B8A"/>
<line x1="962.5" y1="861.2" x2="962.5" y2="1098.8" stroke="#222" stroke-width="1.5"/>
<line x1="962.5" y1="1098.8" x2="1324.0" y2="1098.8" stroke="#222" stroke-width="1.5"/>
<line x1="957.0" y1="861.2" x2="962.5" y2="861.2" stroke="#222" stroke-width="1.3"/>
<line x1="957.0" y1="890.9" x2="962.5" y2="890.9" stroke="#222" stroke-width="1.3"/>
<line x1="957.0" y1="920.6" x2="962.5" y2="920.6" stroke="#222" stroke-width="1.3"/>
<line x1="957.0" y1="950.3" x2="962.5" y2="950.3" stroke="#222" stroke-width="1.3"/>
<line x1="957.0" y1="980.0" x2="962.5" y2="980.0" stroke="#222" stroke-width="1.3"/>
<line x1="957.0" y1="1009.7" x2="962.5" y2="1009.7" stroke="#222" stroke-width="1.3"/>
<line x1="957.0" y1="1039.4" x2="962.5" y2="1039.4" stroke="#222" stroke-width="1.3"/>
<line x1="957.0" y1="1069.1" x2="962.5" y2="1069.1" stroke="#222" stroke-width="1.3"/>
<line x1="957.0" y1="1098.8" x2="962.5" y2="1098.8" stroke="#222" stroke-width="1.3"/>
<line x1="962.5" y1="1098.8" x2="962.5" y2="1104.8" stroke="#222" stroke-width="1.3"/>
<text x="964.9" y="1121.0" font-size="23" text-anchor="middle" fill="#111" stroke="#111" stroke-width="0.35">0</text>
<line x1="1034.8" y1="1098.8" x2="1034.8" y2="1104.8" stroke="#222" stroke-width="1.3"/>
<text x="1037.8" y="1121.0" font-size="23" text-anchor="middle" fill="#111" stroke="#111" stroke-width="0.35">1</text>
<line x1="1107.1" y1="1098.8" x2="1107.1" y2="1104.8" stroke="#222" stroke-width="1.3"/>
<text x="1109.3" y="1121.0" font-size="23" text-anchor="middle" fill="#111" stroke="#111" stroke-width="0.35">2</text>
<line x1="1179.4" y1="1098.8" x2="1179.4" y2="1104.8" stroke="#222" stroke-width="1.3"/>
<text x="1181.4" y="1121.0" font-size="23" text-anchor="middle" fill="#111" stroke="#111" stroke-width="0.35">3</text>
<line x1="1251.7" y1="1098.8" x2="1251.7" y2="1104.8" stroke="#222" stroke-width="1.3"/>
<text x="1254.0" y="1121.0" font-size="23" text-anchor="middle" fill="#111" stroke="#111" stroke-width="0.35">4</text>
<line x1="1324.0" y1="1098.8" x2="1324.0" y2="1104.8" stroke="#222" stroke-width="1.3"/>
<text x="1323.6" y="1121.0" font-size="23" text-anchor="middle" fill="#111" stroke="#111" stroke-width="0.35">5</text>
<text x="943.5" y="879.3" font-size="23.5" text-anchor="end" fill="#111" stroke="#111" stroke-width="0.35">cellular response to IFN-γ</text>
<text x="947.0" y="910.2" font-size="23.5" text-anchor="end" fill="#111" stroke="#111" stroke-width="0.35">endocytosis</text>
<text x="947.0" y="940.0" font-size="23.5" text-anchor="end" fill="#111" stroke="#111" stroke-width="0.35">endothelial barrier</text>
<text x="947.0" y="969.6" font-size="23.5" text-anchor="end" fill="#111" stroke="#111" stroke-width="0.35">immune system response</text>
<text x="947.0" y="999.4" font-size="23.5" text-anchor="end" fill="#111" stroke="#111" stroke-width="0.35">rhythmic process</text>
<text x="947.0" y="1029.0" font-size="23.5" text-anchor="end" fill="#111" stroke="#111" stroke-width="0.35">chromatin organization</text>
<text x="947.0" y="1058.8" font-size="23.5" text-anchor="end" fill="#111" stroke="#111" stroke-width="0.35">protein phosphorylation</text>
<text x="947.0" y="1088.5" font-size="23.5" text-anchor="end" fill="#111" stroke="#111" stroke-width="0.35">cell migration</text>
<text x="1154.0" y="1151.0" font-size="24" text-anchor="middle" fill="#111" stroke="#111" stroke-width="0.35">-log10 (FDR)</text>
<text x="3.0" y="1232.0" font-size="45" text-anchor="start" fill="#000" font-weight="bold">C</text>
<rect x="96.0" y="1276.26" width="56.6" height="102.85" fill="#C82328"/>
<rect x="96.0" y="1378.81" width="56.6" height="13.45" fill="#CC4545"/>
<rect x="96.0" y="1391.95" width="56.6" height="16.08" fill="#C83030"/>
<rect x="96.0" y="1407.73" width="56.6" height="21.34" fill="#CC4545"/>
<rect x="96.0" y="1428.77" width="56.6" height="29.22" fill="#C82328"/>
<rect x="152.6" y="1276.26" width="57.3" height="21.34" fill="#B0B0D5"/>
<rect x="152.6" y="1297.29" width="57.3" height="8.19" fill="#DCDCEC"/>
<rect x="152.6" y="1305.18" width="57.3" height="22.65" fill="#B0B0D5"/>
<rect x="152.6" y="1327.53" width="57.3" height="6.87" fill="#DCDCEC"/>
<rect x="152.6" y="1334.10" width="57.3" height="22.65" fill="#FFFFFF"/>
<rect x="152.6" y="1356.46" width="57.3" height="7.40" fill="#DCDCEC"/>
<rect x="152.6" y="1363.56" width="57.3" height="15.03" fill="#B0B0D5"/>
<rect x="152.6" y="1378.28" width="57.3" height="7.40" fill="#DCDCEC"/>
<rect x="152.6" y="1385.38" width="57.3" height="6.87" fill="#F2D8D8"/>
<rect x="152.6" y="1391.95" width="57.3" height="16.08" fill="#FFFFFF"/>
<rect x="152.6" y="1407.73" width="57.3" height="6.87" fill="#DC8A8A"/>
<rect x="152.6" y="1414.30" width="57.3" height="8.19" fill="#E8B0B0"/>
<rect x="152.6" y="1422.19" width="57.3" height="6.87" fill="#DC8A8A"/>
<rect x="152.6" y="1428.77" width="57.3" height="29.22" fill="#F2D8D8"/>
<rect x="209.9" y="1276.26" width="57.3" height="21.34" fill="#8A8AC2"/>
<rect x="209.9" y="1297.29" width="57.3" height="8.19" fill="#6068B0"/>
<rect x="209.9" y="1305.18" width="57.3" height="14.76" fill="#8A8AC2"/>
<rect x="209.9" y="1319.64" width="57.3" height="22.65" fill="#6068B0"/>
<rect x="209.9" y="1341.99" width="57.3" height="6.87" fill="#8A8AC2"/>
<rect x="209.9" y="1348.57" width="57.3" height="8.19" fill="#6068B0"/>
<rect x="209.9" y="1356.46" width="57.3" height="22.65" fill="#5560A8"/>
<rect x="209.9" y="1378.81" width="57.3" height="29.22" fill="#4455A5"/>
<rect x="209.9" y="1407.73" width="57.3" height="21.34" fill="#4A58A8"/>
<rect x="209.9" y="1428.77" width="57.3" height="8.19" fill="#4455A5"/>
<rect x="209.9" y="1436.66" width="57.3" height="21.34" fill="#5560A8"/>
<rect x="267.2" y="1276.26" width="57.6" height="7.66" fill="#B0B0D5"/>
<rect x="267.2" y="1283.62" width="57.6" height="13.97" fill="#8A8AC2"/>
<rect x="267.2" y="1297.29" width="57.6" height="8.19" fill="#B0B0D5"/>
<rect x="267.2" y="1305.18" width="57.6" height="14.76" fill="#8A8AC2"/>
<rect x="267.2" y="1319.64" width="57.6" height="14.76" fill="#B0B0D5"/>
<rect x="267.2" y="1334.10" width="57.6" height="22.65" fill="#8A8AC2"/>
<rect x="267.2" y="1356.46" width="57.6" height="7.40" fill="#DCDCEC"/>
<rect x="267.2" y="1363.56" width="57.6" height="15.55" fill="#FFFFFF"/>
<rect x="267.2" y="1378.81" width="57.6" height="6.87" fill="#E8B0B0"/>
<rect x="267.2" y="1385.38" width="57.6" height="6.87" fill="#F2D8D8"/>
<rect x="267.2" y="1391.95" width="57.6" height="16.08" fill="#FFFFFF"/>
<rect x="267.2" y="1407.73" width="57.6" height="6.87" fill="#B0B0D5"/>
<rect x="267.2" y="1414.30" width="57.6" height="8.19" fill="#DCDCEC"/>
<rect x="267.2" y="1422.19" width="57.6" height="6.87" fill="#6068B0"/>
<rect x="267.2" y="1428.77" width="57.6" height="8.19" fill="#B0B0D5"/>
<rect x="267.2" y="1436.66" width="57.6" height="21.34" fill="#8A8AC2"/>
<rect x="96.0" y="1462.8" width="113.4" height="12.4" fill="#fff" stroke="#333" stroke-width="1.1"/>
<rect x="209.4" y="1462.3" width="116.6" height="13.4" fill="#050505"/>
<text x="209.0" y="1237.5" font-size="23.5" text-anchor="middle" fill="#BC6DAD" stroke="#BC6DAD" stroke-width="0.35">Ribosome biogenesis</text>
<text x="79.0" y="1265.0" font-size="24" fill="#111" stroke="#111" stroke-width="0.35">ZT<tspan dx="3.2">:</tspan></text>
<text x="125.7" y="1267.0" font-size="24" text-anchor="middle" fill="#111" stroke="#111" stroke-width="0.35">2</text>
<text x="183.6" y="1265.0" font-size="24" text-anchor="middle" fill="#111" stroke="#111" stroke-width="0.35">8</text>
<text x="240.9" y="1265.0" font-size="24" text-anchor="middle" fill="#111" stroke="#111" stroke-width="0.35">14</text>
<text x="298.8" y="1265.0" font-size="24" text-anchor="middle" fill="#111" stroke="#111" stroke-width="0.35">20</text>
<text x="335.5" y="1288.8" font-size="19.7" text-anchor="start" fill="#111" stroke="#111" stroke-width="0.35">Riok2</text>
<text x="335.5" y="1307.3" font-size="19.7" text-anchor="start" fill="#111" stroke="#111" stroke-width="0.35">Nop56</text>
<text x="335.5" y="1325.8" font-size="19.7" text-anchor="start" fill="#111" stroke="#111" stroke-width="0.35">Pwp1</text>
<text x="335.5" y="1344.3" font-size="19.7" text-anchor="start" fill="#111" stroke="#111" stroke-width="0.35">Nop58</text>
<text x="335.5" y="1362.8" font-size="19.7" text-anchor="start" fill="#111" stroke="#111" stroke-width="0.35">Ddx27</text>
<text x="335.5" y="1381.3" font-size="19.7" text-anchor="start" fill="#111" stroke="#111" stroke-width="0.35">Rsl24d1</text>
<text x="335.5" y="1399.8" font-size="19.7" text-anchor="start" fill="#111" stroke="#111" stroke-width="0.35">Pes1</text>
<text x="335.5" y="1418.3" font-size="19.7" text-anchor="start" fill="#111" stroke="#111" stroke-width="0.35">Ddx56</text>
<text x="335.5" y="1436.8" font-size="19.7" text-anchor="start" fill="#111" stroke="#111" stroke-width="0.35">Riok1</text>
<text x="335.5" y="1455.3" font-size="19.7" text-anchor="start" fill="#111" stroke="#111" stroke-width="0.35">Ddx31</text>
<rect x="417.3" y="1280.23" width="57.1" height="26.88" fill="#F2D8D8"/>
<rect x="417.3" y="1306.81" width="57.1" height="8.25" fill="#DC8A8A"/>
<rect x="417.3" y="1314.75" width="57.1" height="8.50" fill="#F2D8D8"/>
<rect x="417.3" y="1322.95" width="57.1" height="6.51" fill="#8A8AC2"/>
<rect x="417.3" y="1329.16" width="57.1" height="5.27" fill="#B0B0D5"/>
<rect x="417.3" y="1334.13" width="57.1" height="10.24" fill="#8A8AC2"/>
<rect x="417.3" y="1344.06" width="57.1" height="4.03" fill="#B0B0D5"/>
<rect x="417.3" y="1347.79" width="57.1" height="6.51" fill="#8A8AC2"/>
<rect x="417.3" y="1354.00" width="57.1" height="3.28" fill="#CC4545"/>
<rect x="417.3" y="1356.98" width="57.1" height="18.43" fill="#FFFFFF"/>
<rect x="417.3" y="1375.11" width="57.1" height="2.78" fill="#B0B0D5"/>
<rect x="417.3" y="1377.60" width="57.1" height="16.45" fill="#FFFFFF"/>
<rect x="417.3" y="1393.74" width="57.1" height="2.78" fill="#B0B0D5"/>
<rect x="417.3" y="1396.22" width="57.1" height="5.76" fill="#FFFFFF"/>
<rect x="417.3" y="1401.69" width="57.1" height="2.78" fill="#E8B0B0"/>
<rect x="417.3" y="1404.17" width="57.1" height="3.53" fill="#FFFFFF"/>
<rect x="417.3" y="1407.40" width="57.1" height="4.03" fill="#B0B0D5"/>
<rect x="417.3" y="1411.13" width="57.1" height="18.93" fill="#DCDCEC"/>
<rect x="417.3" y="1429.76" width="57.1" height="4.03" fill="#B0B0D5"/>
<rect x="417.3" y="1433.48" width="57.1" height="16.45" fill="#DCDCEC"/>
<rect x="417.3" y="1449.63" width="57.1" height="7.75" fill="#B0B0D5"/>
<rect x="417.3" y="1457.08" width="57.1" height="5.27" fill="#DCDCEC"/>
<rect x="474.4" y="1280.23" width="57.6" height="75.31" fill="#C82328"/>
<rect x="474.4" y="1355.24" width="57.6" height="2.04" fill="#D06060"/>
<rect x="474.4" y="1356.98" width="57.6" height="105.37" fill="#C82328"/>
<rect x="532.0" y="1280.23" width="57.4" height="5.76" fill="#8A8AC2"/>
<rect x="532.0" y="1285.69" width="57.4" height="5.27" fill="#B0B0D5"/>
<rect x="532.0" y="1290.66" width="57.4" height="5.27" fill="#8A8AC2"/>
<rect x="532.0" y="1295.63" width="57.4" height="6.51" fill="#B0B0D5"/>
<rect x="532.0" y="1301.84" width="57.4" height="5.27" fill="#8A8AC2"/>
<rect x="532.0" y="1306.81" width="57.4" height="7.75" fill="#6068B0"/>
<rect x="532.0" y="1314.26" width="57.4" height="8.99" fill="#B0B0D5"/>
<rect x="532.0" y="1322.95" width="57.4" height="26.38" fill="#FFFFFF"/>
<rect x="532.0" y="1349.03" width="57.4" height="6.51" fill="#DCDCEC"/>
<rect x="532.0" y="1355.24" width="57.4" height="2.04" fill="#5560A8"/>
<rect x="532.0" y="1356.98" width="57.4" height="17.19" fill="#B0B0D5"/>
<rect x="532.0" y="1373.87" width="57.4" height="5.27" fill="#8A8AC2"/>
<rect x="532.0" y="1378.84" width="57.4" height="17.69" fill="#B0B0D5"/>
<rect x="532.0" y="1396.22" width="57.4" height="5.27" fill="#8A8AC2"/>
<rect x="532.0" y="1401.19" width="57.4" height="6.51" fill="#B0B0D5"/>
<rect x="532.0" y="1407.40" width="57.4" height="2.29" fill="#D06060"/>
<rect x="532.0" y="1409.39" width="57.4" height="44.26" fill="#B0B0D5"/>
<rect x="532.0" y="1453.35" width="57.4" height="8.99" fill="#DCDCEC"/>
<rect x="589.4" y="1280.23" width="57.1" height="40.04" fill="#5560A8"/>
<rect x="589.4" y="1319.97" width="57.1" height="35.32" fill="#6068B0"/>
<rect x="589.4" y="1354.99" width="57.1" height="65.38" fill="#5560A8"/>
<rect x="589.4" y="1420.07" width="57.1" height="42.28" fill="#6068B0"/>
<rect x="417.3" y="1462.8" width="113.2" height="12.7" fill="#fff" stroke="#333" stroke-width="1.1"/>
<rect x="530.5" y="1462.3" width="117.0" height="13.7" fill="#050505"/>
<text x="529.8" y="1237.3" font-size="23.5" text-anchor="middle" fill="#8EC6A7" stroke="#8EC6A7" stroke-width="0.35">Cytoplasmic translation</text>
<text x="398.6" y="1265.0" font-size="24" fill="#111" stroke="#111" stroke-width="0.35">ZT<tspan dx="3.2">:</tspan></text>
<text x="445.0" y="1267.0" font-size="24" text-anchor="middle" fill="#111" stroke="#111" stroke-width="0.35">2</text>
<text x="502.5" y="1265.0" font-size="24" text-anchor="middle" fill="#111" stroke="#111" stroke-width="0.35">8</text>
<text x="560.6" y="1265.0" font-size="24" text-anchor="middle" fill="#111" stroke="#111" stroke-width="0.35">14</text>
<text x="618.0" y="1265.0" font-size="24" text-anchor="middle" fill="#111" stroke="#111" stroke-width="0.35">20</text>
<text x="657.2" y="1288.2" font-size="19.7" text-anchor="start" fill="#111" stroke="#111" stroke-width="0.35">Rpl12</text>
<text x="657.2" y="1305.5" font-size="19.7" text-anchor="start" fill="#111" stroke="#111" stroke-width="0.35">Rpl41</text>
<text x="657.2" y="1322.9" font-size="19.7" text-anchor="start" fill="#111" stroke="#111" stroke-width="0.35">Rps13</text>
<text x="657.2" y="1340.2" font-size="19.7" text-anchor="start" fill="#111" stroke="#111" stroke-width="0.35">Rps14</text>
<text x="657.2" y="1357.5" font-size="19.7" text-anchor="start" fill="#111" stroke="#111" stroke-width="0.35">Rps23</text>
<text x="657.2" y="1374.8" font-size="19.7" text-anchor="start" fill="#111" stroke="#111" stroke-width="0.35">Rpl7</text>
<text x="657.2" y="1392.2" font-size="19.7" text-anchor="start" fill="#111" stroke="#111" stroke-width="0.35">Rpl4</text>
<text x="657.2" y="1409.5" font-size="19.7" text-anchor="start" fill="#111" stroke="#111" stroke-width="0.35">Rpl13a</text>
<text x="657.2" y="1426.8" font-size="19.7" text-anchor="start" fill="#111" stroke="#111" stroke-width="0.35">Rpl8</text>
<text x="657.2" y="1444.2" font-size="19.7" text-anchor="start" fill="#111" stroke="#111" stroke-width="0.35">Rpl7a</text>
<text x="657.2" y="1461.5" font-size="19.7" text-anchor="start" fill="#111" stroke="#111" stroke-width="0.35">Rpl6</text>
<rect x="739.4" y="1274.94" width="57.1" height="17.39" fill="#C82328"/>
<rect x="739.4" y="1292.03" width="57.1" height="8.98" fill="#C83030"/>
<rect x="739.4" y="1300.71" width="57.1" height="9.50" fill="#DCDCEC"/>
<rect x="739.4" y="1309.91" width="57.1" height="8.71" fill="#D06060"/>
<rect x="739.4" y="1318.33" width="57.1" height="43.16" fill="#5560A8"/>
<rect x="739.4" y="1361.19" width="57.1" height="9.24" fill="#8A8AC2"/>
<rect x="739.4" y="1370.13" width="57.1" height="8.98" fill="#6068B0"/>
<rect x="739.4" y="1378.81" width="57.1" height="61.30" fill="#4A58A8"/>
<rect x="739.4" y="1439.81" width="57.1" height="8.98" fill="#5560A8"/>
<rect x="739.4" y="1448.49" width="57.1" height="8.19" fill="#D06060"/>
<rect x="796.5" y="1274.94" width="57.3" height="8.98" fill="#B0B0D5"/>
<rect x="796.5" y="1283.62" width="57.3" height="8.71" fill="#8A8AC2"/>
<rect x="796.5" y="1292.03" width="57.3" height="8.98" fill="#DCDCEC"/>
<rect x="796.5" y="1300.71" width="57.3" height="9.50" fill="#C82328"/>
<rect x="796.5" y="1309.91" width="57.3" height="8.71" fill="#CC4545"/>
<rect x="796.5" y="1318.33" width="57.3" height="17.39" fill="#8A8AC2"/>
<rect x="796.5" y="1335.42" width="57.3" height="8.98" fill="#B0B0D5"/>
<rect x="796.5" y="1344.10" width="57.3" height="26.33" fill="#8A8AC2"/>
<rect x="796.5" y="1370.13" width="57.3" height="8.98" fill="#6068B0"/>
<rect x="796.5" y="1378.81" width="57.3" height="8.98" fill="#E8B0B0"/>
<rect x="796.5" y="1387.48" width="57.3" height="17.92" fill="#FFFFFF"/>
<rect x="796.5" y="1405.10" width="57.3" height="8.71" fill="#DCDCEC"/>
<rect x="796.5" y="1413.52" width="57.3" height="8.98" fill="#F2D8D8"/>
<rect x="796.5" y="1422.19" width="57.3" height="17.92" fill="#DCDCEC"/>
<rect x="796.5" y="1439.81" width="57.3" height="8.98" fill="#8A8AC2"/>
<rect x="796.5" y="1448.49" width="57.3" height="8.19" fill="#5560A8"/>
<rect x="853.8" y="1274.94" width="57.3" height="17.39" fill="#5560A8"/>
<rect x="853.8" y="1292.03" width="57.3" height="8.98" fill="#4A58A8"/>
<rect x="853.8" y="1300.71" width="57.3" height="9.50" fill="#FFFFFF"/>
<rect x="853.8" y="1309.91" width="57.3" height="8.71" fill="#8A8AC2"/>
<rect x="853.8" y="1318.33" width="57.3" height="104.17" fill="#C82328"/>
<rect x="853.8" y="1422.19" width="57.3" height="26.60" fill="#CC4545"/>
<rect x="853.8" y="1448.49" width="57.3" height="8.19" fill="#6068B0"/>
<rect x="911.1" y="1274.94" width="57.1" height="17.39" fill="#FFFFFF"/>
<rect x="911.1" y="1292.03" width="57.1" height="8.98" fill="#F2D8D8"/>
<rect x="911.1" y="1300.71" width="57.1" height="17.92" fill="#4A58A8"/>
<rect x="911.1" y="1318.33" width="57.1" height="8.98" fill="#FFFFFF"/>
<rect x="911.1" y="1327.00" width="57.1" height="8.71" fill="#F2D8D8"/>
<rect x="911.1" y="1335.42" width="57.1" height="8.98" fill="#DCDCEC"/>
<rect x="911.1" y="1344.10" width="57.1" height="8.71" fill="#F2D8D8"/>
<rect x="911.1" y="1352.51" width="57.1" height="17.92" fill="#DCDCEC"/>
<rect x="911.1" y="1370.13" width="57.1" height="8.98" fill="#F2D8D8"/>
<rect x="911.1" y="1378.81" width="57.1" height="8.98" fill="#B0B0D5"/>
<rect x="911.1" y="1387.48" width="57.1" height="8.98" fill="#FFFFFF"/>
<rect x="911.1" y="1396.16" width="57.1" height="26.33" fill="#DCDCEC"/>
<rect x="911.1" y="1422.19" width="57.1" height="8.98" fill="#E8B0B0"/>
<rect x="911.1" y="1430.87" width="57.1" height="17.92" fill="#DC8A8A"/>
<rect x="911.1" y="1448.49" width="57.1" height="8.19" fill="#CC4545"/>
<rect x="738.5" y="1460.5" width="112.7" height="13.0" fill="#fff" stroke="#333" stroke-width="1.1"/>
<rect x="851.2" y="1460.0" width="117.0" height="14.0" fill="#050505"/>
<text x="855.5" y="1236.8" font-size="23.5" text-anchor="middle" fill="#DDA55A" stroke="#DDA55A" stroke-width="0.35">Cholesterol biosynthesis</text>
<text x="721.0" y="1264.4" font-size="24" fill="#111" stroke="#111" stroke-width="0.35">ZT<tspan dx="3.2">:</tspan></text>
<text x="767.8" y="1266.4" font-size="24" text-anchor="middle" fill="#111" stroke="#111" stroke-width="0.35">2</text>
<text x="825.4" y="1264.4" font-size="24" text-anchor="middle" fill="#111" stroke="#111" stroke-width="0.35">8</text>
<text x="882.7" y="1264.4" font-size="24" text-anchor="middle" fill="#111" stroke="#111" stroke-width="0.35">14</text>
<text x="940.6" y="1264.4" font-size="24" text-anchor="middle" fill="#111" stroke="#111" stroke-width="0.35">20</text>
<text x="978.5" y="1286.8" font-size="19.7" text-anchor="start" fill="#111" stroke="#111" stroke-width="0.35">Dhcr24</text>
<text x="978.5" y="1304.1" font-size="19.7" text-anchor="start" fill="#111" stroke="#111" stroke-width="0.35">Idi1</text>
<text x="978.5" y="1321.4" font-size="19.7" text-anchor="start" fill="#111" stroke="#111" stroke-width="0.35">Lss</text>
<text x="978.5" y="1338.7" font-size="19.7" text-anchor="start" fill="#111" stroke="#111" stroke-width="0.35">Prkaa1</text>
<text x="978.5" y="1356.0" font-size="19.7" text-anchor="start" fill="#111" stroke="#111" stroke-width="0.35">Apoa1</text>
<text x="978.5" y="1373.3" font-size="19.7" text-anchor="start" fill="#111" stroke="#111" stroke-width="0.35">Mvd</text>
<text x="978.5" y="1390.6" font-size="19.7" text-anchor="start" fill="#111" stroke="#111" stroke-width="0.35">Mvk</text>
<text x="978.5" y="1407.9" font-size="19.7" text-anchor="start" fill="#111" stroke="#111" stroke-width="0.35">Tm7sf2</text>
<text x="978.5" y="1425.2" font-size="19.7" text-anchor="start" fill="#111" stroke="#111" stroke-width="0.35">Insig2</text>
<text x="978.5" y="1442.5" font-size="19.7" text-anchor="start" fill="#111" stroke="#111" stroke-width="0.35">Cftr</text>
<text x="978.5" y="1459.8" font-size="19.7" text-anchor="start" fill="#111" stroke="#111" stroke-width="0.35">Hmgcs2</text>
<rect x="1063.4" y="1276.28" width="57.0" height="5.75" fill="#F2D8D8"/>
<rect x="1063.4" y="1281.72" width="57.0" height="16.40" fill="#E8B0B0"/>
<rect x="1063.4" y="1297.82" width="57.0" height="6.49" fill="#D06060"/>
<rect x="1063.4" y="1304.01" width="57.0" height="12.68" fill="#DC8A8A"/>
<rect x="1063.4" y="1316.39" width="57.0" height="8.97" fill="#D06060"/>
<rect x="1063.4" y="1325.06" width="57.0" height="10.21" fill="#E8B0B0"/>
<rect x="1063.4" y="1334.97" width="57.0" height="8.97" fill="#FFFFFF"/>
<rect x="1063.4" y="1343.64" width="57.0" height="10.21" fill="#F2D8D8"/>
<rect x="1063.4" y="1353.54" width="57.0" height="6.49" fill="#FFFFFF"/>
<rect x="1063.4" y="1359.73" width="57.0" height="15.16" fill="#DC8A8A"/>
<rect x="1063.4" y="1374.59" width="57.0" height="12.68" fill="#DCDCEC"/>
<rect x="1063.4" y="1386.97" width="57.0" height="12.68" fill="#FFFFFF"/>
<rect x="1063.4" y="1399.36" width="57.0" height="6.49" fill="#DCDCEC"/>
<rect x="1063.4" y="1405.55" width="57.0" height="10.21" fill="#B0B0D5"/>
<rect x="1063.4" y="1415.45" width="57.0" height="6.49" fill="#8A8AC2"/>
<rect x="1063.4" y="1421.64" width="57.0" height="15.16" fill="#DCDCEC"/>
<rect x="1063.4" y="1436.50" width="57.0" height="21.35" fill="#9A9ACC"/>
<rect x="1120.4" y="1276.28" width="57.4" height="13.18" fill="#6068B0"/>
<rect x="1120.4" y="1289.15" width="57.4" height="168.70" fill="#5560A8"/>
<rect x="1177.8" y="1276.28" width="57.2" height="13.18" fill="#6068B0"/>
<rect x="1177.8" y="1289.15" width="57.2" height="8.97" fill="#8A8AC2"/>
<rect x="1177.8" y="1297.82" width="57.2" height="12.68" fill="#6068B0"/>
<rect x="1177.8" y="1310.20" width="57.2" height="15.16" fill="#8A8AC2"/>
<rect x="1177.8" y="1325.06" width="57.2" height="10.21" fill="#FFFFFF"/>
<rect x="1177.8" y="1334.97" width="57.2" height="4.01" fill="#E8B0B0"/>
<rect x="1177.8" y="1338.68" width="57.2" height="8.97" fill="#F2D8D8"/>
<rect x="1177.8" y="1347.35" width="57.2" height="12.68" fill="#DCDCEC"/>
<rect x="1177.8" y="1359.73" width="57.2" height="5.25" fill="#E8B0B0"/>
<rect x="1177.8" y="1364.69" width="57.2" height="7.73" fill="#FFFFFF"/>
<rect x="1177.8" y="1372.11" width="57.2" height="10.21" fill="#B0B0D5"/>
<rect x="1177.8" y="1382.02" width="57.2" height="6.49" fill="#DCDCEC"/>
<rect x="1177.8" y="1388.21" width="57.2" height="11.44" fill="#B0B0D5"/>
<rect x="1177.8" y="1399.36" width="57.2" height="10.21" fill="#FFFFFF"/>
<rect x="1177.8" y="1409.26" width="57.2" height="12.68" fill="#B0B0D5"/>
<rect x="1177.8" y="1421.64" width="57.2" height="25.06" fill="#DC8A8A"/>
<rect x="1177.8" y="1446.41" width="57.2" height="11.44" fill="#F2D8D8"/>
<rect x="1235.0" y="1276.28" width="57.0" height="21.85" fill="#C82328"/>
<rect x="1235.0" y="1297.82" width="57.0" height="37.45" fill="#CC4545"/>
<rect x="1235.0" y="1334.97" width="57.0" height="25.06" fill="#C83030"/>
<rect x="1235.0" y="1359.73" width="57.0" height="13.92" fill="#D06060"/>
<rect x="1235.0" y="1373.35" width="57.0" height="84.50" fill="#C82328"/>
<rect x="1061.7" y="1460.3" width="113.7" height="13.3" fill="#fff" stroke="#333" stroke-width="1.1"/>
<rect x="1175.4" y="1459.8" width="116.6" height="14.3" fill="#050505"/>
<text x="1179.0" y="1237.6" font-size="23.5" text-anchor="middle" fill="#5E3A95" stroke="#5E3A95" stroke-width="0.35">Immune system reponse</text>
<text x="1046.8" y="1264.9" font-size="24" fill="#111" stroke="#111" stroke-width="0.35">ZT<tspan dx="3.2">:</tspan></text>
<text x="1093.0" y="1266.9" font-size="24" text-anchor="middle" fill="#111" stroke="#111" stroke-width="0.35">2</text>
<text x="1150.6" y="1264.9" font-size="24" text-anchor="middle" fill="#111" stroke="#111" stroke-width="0.35">8</text>
<text x="1208.3" y="1264.9" font-size="24" text-anchor="middle" fill="#111" stroke="#111" stroke-width="0.35">14</text>
<text x="1266.0" y="1264.9" font-size="24" text-anchor="middle" fill="#111" stroke="#111" stroke-width="0.35">20</text>
<text x="1302.9" y="1291.6" font-size="19.7" text-anchor="start" fill="#111" stroke="#111" stroke-width="0.35">Csf1</text>
<text x="1302.9" y="1310.0" font-size="19.7" text-anchor="start" fill="#111" stroke="#111" stroke-width="0.35">Nlrp9b</text>
<text x="1302.9" y="1328.5" font-size="19.7" text-anchor="start" fill="#111" stroke="#111" stroke-width="0.35">Dhx9</text>
<text x="1302.9" y="1346.9" font-size="19.7" text-anchor="start" fill="#111" stroke="#111" stroke-width="0.35">Mr1</text>
<text x="1302.9" y="1365.4" font-size="19.7" text-anchor="start" fill="#111" stroke="#111" stroke-width="0.35">Ythdf2</text>
<text x="1302.9" y="1383.8" font-size="19.7" text-anchor="start" fill="#111" stroke="#111" stroke-width="0.35">Iigp1</text>
<text x="1302.9" y="1402.3" font-size="19.7" text-anchor="start" fill="#111" stroke="#111" stroke-width="0.35">G3bp2</text>
<text x="1302.9" y="1420.7" font-size="19.7" text-anchor="start" fill="#111" stroke="#111" stroke-width="0.35">Pcbp2</text>
<text x="1302.9" y="1439.2" font-size="19.7" text-anchor="start" fill="#111" stroke="#111" stroke-width="0.35">Pik3cg</text>
<text x="1302.9" y="1457.6" font-size="19.7" text-anchor="start" fill="#111" stroke="#111" stroke-width="0.35">Dab2ip</text>
<rect x="95.5" y="1564.02" width="57.1" height="8.50" fill="#D06060"/>
<rect x="95.5" y="1572.22" width="57.1" height="17.94" fill="#C83030"/>
<rect x="95.5" y="1589.85" width="57.1" height="12.47" fill="#D87474"/>
<rect x="95.5" y="1602.02" width="57.1" height="12.47" fill="#D26464"/>
<rect x="95.5" y="1614.19" width="57.1" height="130.70" fill="#C82328"/>
<rect x="152.6" y="1564.02" width="57.4" height="8.25" fill="#DCDCEC"/>
<rect x="152.6" y="1571.97" width="57.4" height="7.75" fill="#FFFFFF"/>
<rect x="152.6" y="1579.42" width="57.4" height="10.24" fill="#8A8AC2"/>
<rect x="152.6" y="1589.35" width="57.4" height="5.27" fill="#B0B0D5"/>
<rect x="152.6" y="1594.32" width="57.4" height="6.51" fill="#8A8AC2"/>
<rect x="152.6" y="1600.53" width="57.4" height="6.51" fill="#E8B0B0"/>
<rect x="152.6" y="1606.74" width="57.4" height="7.75" fill="#F2D8D8"/>
<rect x="152.6" y="1614.19" width="57.4" height="11.48" fill="#DCDCEC"/>
<rect x="152.6" y="1625.37" width="57.4" height="17.69" fill="#FFFFFF"/>
<rect x="152.6" y="1642.76" width="57.4" height="11.48" fill="#F2D8D8"/>
<rect x="152.6" y="1653.93" width="57.4" height="6.51" fill="#E8B0B0"/>
<rect x="152.6" y="1660.14" width="57.4" height="13.96" fill="#B0B0D5"/>
<rect x="152.6" y="1673.81" width="57.4" height="15.20" fill="#DCDCEC"/>
<rect x="152.6" y="1688.71" width="57.4" height="11.48" fill="#DCDCEC"/>
<rect x="152.6" y="1699.89" width="57.4" height="13.96" fill="#B0B0D5"/>
<rect x="152.6" y="1713.55" width="57.4" height="16.45" fill="#B0B0D5"/>
<rect x="152.6" y="1729.69" width="57.4" height="15.20" fill="#DCDCEC"/>
<rect x="210.0" y="1564.02" width="57.4" height="96.43" fill="#4A58A8"/>
<rect x="210.0" y="1660.14" width="57.4" height="28.86" fill="#8A8AC2"/>
<rect x="210.0" y="1688.71" width="57.4" height="56.19" fill="#5560A8"/>
<rect x="267.4" y="1564.02" width="57.6" height="8.25" fill="#DC8A8A"/>
<rect x="267.4" y="1571.97" width="57.6" height="10.24" fill="#E8B0B0"/>
<rect x="267.4" y="1581.90" width="57.6" height="8.99" fill="#F2D8D8"/>
<rect x="267.4" y="1590.60" width="57.6" height="10.24" fill="#D06060"/>
<rect x="267.4" y="1600.53" width="57.6" height="5.27" fill="#B0B0D5"/>
<rect x="267.4" y="1605.50" width="57.6" height="8.99" fill="#F2D8D8"/>
<rect x="267.4" y="1614.19" width="57.6" height="7.75" fill="#DCDCEC"/>
<rect x="267.4" y="1621.64" width="57.6" height="17.69" fill="#B0B0D5"/>
<rect x="267.4" y="1639.03" width="57.6" height="22.65" fill="#8A8AC2"/>
<rect x="267.4" y="1661.39" width="57.6" height="12.72" fill="#DCDCEC"/>
<rect x="267.4" y="1673.81" width="57.6" height="25.14" fill="#8A8AC2"/>
<rect x="267.4" y="1698.64" width="57.6" height="46.25" fill="#DCDCEC"/>
<rect x="95.5" y="1751.0" width="112.8" height="13.0" fill="#fff" stroke="#333" stroke-width="1.1"/>
<rect x="208.3" y="1750.5" width="116.7" height="14.0" fill="#050505"/>
<text x="216.2" y="1527.3" font-size="23.5" text-anchor="middle" fill="#BC6DAD" stroke="#BC6DAD" stroke-width="0.35">Cell cycle</text>
<text x="81.1" y="1555.8" font-size="24" fill="#111" stroke="#111" stroke-width="0.35">ZT<tspan dx="3.2">:</tspan></text>
<text x="127.0" y="1557.8" font-size="24" text-anchor="middle" fill="#111" stroke="#111" stroke-width="0.35">2</text>
<text x="185.0" y="1555.8" font-size="24" text-anchor="middle" fill="#111" stroke="#111" stroke-width="0.35">8</text>
<text x="242.6" y="1555.8" font-size="24" text-anchor="middle" fill="#111" stroke="#111" stroke-width="0.35">14</text>
<text x="300.4" y="1555.8" font-size="24" text-anchor="middle" fill="#111" stroke="#111" stroke-width="0.35">20</text>
<text x="336.7" y="1579.4" font-size="19.7" text-anchor="start" fill="#111" stroke="#111" stroke-width="0.35">Phf13</text>
<text x="336.7" y="1596.0" font-size="19.7" text-anchor="start" fill="#111" stroke="#111" stroke-width="0.35">E2f2</text>
<text x="336.7" y="1612.6" font-size="19.7" text-anchor="start" fill="#111" stroke="#111" stroke-width="0.35">Cep55</text>
<text x="336.7" y="1629.2" font-size="19.7" text-anchor="start" fill="#111" stroke="#111" stroke-width="0.35">Incenp</text>
<text x="336.7" y="1645.8" font-size="19.7" text-anchor="start" fill="#111" stroke="#111" stroke-width="0.35">Haus3</text>
<text x="336.7" y="1662.3" font-size="19.7" text-anchor="start" fill="#111" stroke="#111" stroke-width="0.35">Smc1a</text>
<text x="336.7" y="1678.9" font-size="19.7" text-anchor="start" fill="#111" stroke="#111" stroke-width="0.35">Rassf2</text>
<text x="336.7" y="1695.5" font-size="19.7" text-anchor="start" fill="#111" stroke="#111" stroke-width="0.35">Cdca5</text>
<text x="336.7" y="1712.1" font-size="19.7" text-anchor="start" fill="#111" stroke="#111" stroke-width="0.35">Bub3</text>
<text x="336.7" y="1728.7" font-size="19.7" text-anchor="start" fill="#111" stroke="#111" stroke-width="0.35">Chaf1b</text>
<text x="336.7" y="1745.3" font-size="19.7" text-anchor="start" fill="#111" stroke="#111" stroke-width="0.35">Mcm2</text>
<rect x="417.3" y="1563.27" width="57.6" height="4.52" fill="#E8B0B0"/>
<rect x="417.3" y="1567.50" width="57.6" height="5.52" fill="#D06060"/>
<rect x="417.3" y="1572.71" width="57.6" height="5.02" fill="#DCDCEC"/>
<rect x="417.3" y="1577.43" width="57.6" height="5.27" fill="#FFFFFF"/>
<rect x="417.3" y="1582.40" width="57.6" height="8.50" fill="#B0B0D5"/>
<rect x="417.3" y="1590.60" width="57.6" height="10.24" fill="#DCDCEC"/>
<rect x="417.3" y="1600.53" width="57.6" height="5.27" fill="#FFFFFF"/>
<rect x="417.3" y="1605.50" width="57.6" height="10.24" fill="#DCDCEC"/>
<rect x="417.3" y="1615.43" width="57.6" height="4.03" fill="#B0B0D5"/>
<rect x="417.3" y="1619.16" width="57.6" height="15.20" fill="#DCDCEC"/>
<rect x="417.3" y="1634.06" width="57.6" height="22.65" fill="#8A8AC2"/>
<rect x="417.3" y="1656.42" width="57.6" height="5.27" fill="#B0B0D5"/>
<rect x="417.3" y="1661.39" width="57.6" height="10.24" fill="#8A8AC2"/>
<rect x="417.3" y="1671.32" width="57.6" height="15.20" fill="#B0B0D5"/>
<rect x="417.3" y="1686.22" width="57.6" height="22.65" fill="#8A8AC2"/>
<rect x="417.3" y="1708.58" width="57.6" height="8.99" fill="#6068B0"/>
<rect x="417.3" y="1717.27" width="57.6" height="13.96" fill="#8A8AC2"/>
<rect x="417.3" y="1730.93" width="57.6" height="14.71" fill="#FFFFFF"/>
<rect x="474.9" y="1563.27" width="57.1" height="9.74" fill="#CC4545"/>
<rect x="474.9" y="1572.71" width="57.1" height="168.46" fill="#C82328"/>
<rect x="474.9" y="1740.87" width="57.1" height="4.77" fill="#4A58A8"/>
<rect x="532.0" y="1563.27" width="57.4" height="5.27" fill="#DCDCEC"/>
<rect x="532.0" y="1568.24" width="57.4" height="4.77" fill="#8A8AC2"/>
<rect x="532.0" y="1572.71" width="57.4" height="5.76" fill="#FFFFFF"/>
<rect x="532.0" y="1578.18" width="57.4" height="8.99" fill="#B0B0D5"/>
<rect x="532.0" y="1586.87" width="57.4" height="10.24" fill="#DCDCEC"/>
<rect x="532.0" y="1596.81" width="57.4" height="5.27" fill="#FFFFFF"/>
<rect x="532.0" y="1601.77" width="57.4" height="4.03" fill="#B0B0D5"/>
<rect x="532.0" y="1605.50" width="57.4" height="8.99" fill="#DCDCEC"/>
<rect x="532.0" y="1614.19" width="57.4" height="5.27" fill="#FFFFFF"/>
<rect x="532.0" y="1619.16" width="57.4" height="10.24" fill="#B0B0D5"/>
<rect x="532.0" y="1629.10" width="57.4" height="8.99" fill="#DCDCEC"/>
<rect x="532.0" y="1637.79" width="57.4" height="15.20" fill="#FFFFFF"/>
<rect x="532.0" y="1652.69" width="57.4" height="8.99" fill="#DCDCEC"/>
<rect x="532.0" y="1661.39" width="57.4" height="10.24" fill="#FFFFFF"/>
<rect x="532.0" y="1671.32" width="57.4" height="4.03" fill="#B0B0D5"/>
<rect x="532.0" y="1675.05" width="57.4" height="10.24" fill="#FFFFFF"/>
<rect x="532.0" y="1684.98" width="57.4" height="8.99" fill="#F2D8D8"/>
<rect x="532.0" y="1693.68" width="57.4" height="5.27" fill="#FFFFFF"/>
<rect x="532.0" y="1698.64" width="57.4" height="5.27" fill="#F2D8D8"/>
<rect x="532.0" y="1703.61" width="57.4" height="5.27" fill="#FFFFFF"/>
<rect x="532.0" y="1708.58" width="57.4" height="8.99" fill="#E8B0B0"/>
<rect x="532.0" y="1717.27" width="57.4" height="10.24" fill="#FFFFFF"/>
<rect x="532.0" y="1727.21" width="57.4" height="13.96" fill="#F2D8D8"/>
<rect x="532.0" y="1740.87" width="57.4" height="4.77" fill="#FFFFFF"/>
<rect x="589.4" y="1563.27" width="57.1" height="71.09" fill="#4A58A8"/>
<rect x="589.4" y="1634.06" width="57.1" height="97.17" fill="#5560A8"/>
<rect x="589.4" y="1730.93" width="57.1" height="10.24" fill="#4A58A8"/>
<rect x="589.4" y="1740.87" width="57.1" height="4.77" fill="#C83030"/>
<rect x="415.5" y="1751.0" width="113.5" height="13.0" fill="#fff" stroke="#333" stroke-width="1.1"/>
<rect x="529.0" y="1750.5" width="117.5" height="14.0" fill="#050505"/>
<text x="532.7" y="1527.3" font-size="23.5" text-anchor="middle" fill="#8EC6A7" stroke="#8EC6A7" stroke-width="0.35">Aerobic respiration</text>
<text x="398.6" y="1555.8" font-size="24" fill="#111" stroke="#111" stroke-width="0.35">ZT<tspan dx="3.2">:</tspan></text>
<text x="445.0" y="1557.8" font-size="24" text-anchor="middle" fill="#111" stroke="#111" stroke-width="0.35">2</text>
<text x="502.5" y="1555.8" font-size="24" text-anchor="middle" fill="#111" stroke="#111" stroke-width="0.35">8</text>
<text x="560.6" y="1555.8" font-size="24" text-anchor="middle" fill="#111" stroke="#111" stroke-width="0.35">14</text>
<text x="618.0" y="1555.8" font-size="24" text-anchor="middle" fill="#111" stroke="#111" stroke-width="0.35">20</text>
<text x="656.7" y="1580.7" font-size="19.7" text-anchor="start" fill="#111" stroke="#111" stroke-width="0.35">Ndufa5</text>
<text x="656.7" y="1597.1" font-size="19.7" text-anchor="start" fill="#111" stroke="#111" stroke-width="0.35">Ndufb3</text>
<text x="656.7" y="1613.5" font-size="19.7" text-anchor="start" fill="#111" stroke="#111" stroke-width="0.35">Ndufc2</text>
<text x="656.7" y="1629.9" font-size="19.7" text-anchor="start" fill="#111" stroke="#111" stroke-width="0.35">Ndufa9</text>
<text x="656.7" y="1646.3" font-size="19.7" text-anchor="start" fill="#111" stroke="#111" stroke-width="0.35">Ndufa3</text>
<text x="656.7" y="1662.7" font-size="19.7" text-anchor="start" fill="#111" stroke="#111" stroke-width="0.35">Ndufb2</text>
<text x="656.7" y="1679.0" font-size="19.7" text-anchor="start" fill="#111" stroke="#111" stroke-width="0.35">Ndufa10</text>
<text x="656.7" y="1695.4" font-size="19.7" text-anchor="start" fill="#111" stroke="#111" stroke-width="0.35">Mdh2</text>
<text x="656.7" y="1711.8" font-size="19.7" text-anchor="start" fill="#111" stroke="#111" stroke-width="0.35">Ndufa2</text>
<text x="656.7" y="1728.2" font-size="19.7" text-anchor="start" fill="#111" stroke="#111" stroke-width="0.35">Ndufa7</text>
<text x="656.7" y="1744.6" font-size="19.7" text-anchor="start" fill="#111" stroke="#111" stroke-width="0.35">Ndufa11</text>
<rect x="738.9" y="1562.31" width="57.1" height="46.32" fill="#4A58A8"/>
<rect x="738.9" y="1608.33" width="57.1" height="8.19" fill="#5560A8"/>
<rect x="738.9" y="1616.22" width="57.1" height="26.60" fill="#4A58A8"/>
<rect x="738.9" y="1642.51" width="57.1" height="21.34" fill="#5560A8"/>
<rect x="738.9" y="1663.55" width="57.1" height="6.87" fill="#6068B0"/>
<rect x="738.9" y="1670.12" width="57.1" height="6.87" fill="#5560A8"/>
<rect x="738.9" y="1676.69" width="57.1" height="39.74" fill="#4A58A8"/>
<rect x="738.9" y="1716.14" width="57.1" height="34.48" fill="#4455A5"/>
<rect x="796.0" y="1562.31" width="57.0" height="6.87" fill="#D06060"/>
<rect x="796.0" y="1568.89" width="57.0" height="13.45" fill="#DC8A8A"/>
<rect x="796.0" y="1582.03" width="57.0" height="6.87" fill="#DC8A8A"/>
<rect x="796.0" y="1588.61" width="57.0" height="21.34" fill="#F2D8D8"/>
<rect x="796.0" y="1609.64" width="57.0" height="6.87" fill="#E8B0B0"/>
<rect x="796.0" y="1616.22" width="57.0" height="6.87" fill="#F2D8D8"/>
<rect x="796.0" y="1622.79" width="57.0" height="6.87" fill="#FFFFFF"/>
<rect x="796.0" y="1629.36" width="57.0" height="6.87" fill="#DCDCEC"/>
<rect x="796.0" y="1635.94" width="57.0" height="6.87" fill="#FFFFFF"/>
<rect x="796.0" y="1642.51" width="57.0" height="6.87" fill="#DCDCEC"/>
<rect x="796.0" y="1649.08" width="57.0" height="8.19" fill="#FFFFFF"/>
<rect x="796.0" y="1656.97" width="57.0" height="13.45" fill="#B0B0D5"/>
<rect x="796.0" y="1670.12" width="57.0" height="6.87" fill="#FFFFFF"/>
<rect x="796.0" y="1676.69" width="57.0" height="13.45" fill="#6068B0"/>
<rect x="796.0" y="1689.84" width="57.0" height="13.45" fill="#B0B0D5"/>
<rect x="796.0" y="1702.99" width="57.0" height="13.45" fill="#6068B0"/>
<rect x="796.0" y="1716.14" width="57.0" height="6.87" fill="#F2D8D8"/>
<rect x="796.0" y="1722.71" width="57.0" height="6.87" fill="#DC8A8A"/>
<rect x="796.0" y="1729.28" width="57.0" height="14.76" fill="#DCDCEC"/>
<rect x="796.0" y="1743.75" width="57.0" height="6.87" fill="#F2D8D8"/>
<rect x="853.0" y="1562.31" width="57.4" height="20.02" fill="#CC4545"/>
<rect x="853.0" y="1582.03" width="57.4" height="94.96" fill="#C83030"/>
<rect x="853.0" y="1676.69" width="57.4" height="6.87" fill="#D06060"/>
<rect x="853.0" y="1683.27" width="57.4" height="6.87" fill="#CC4545"/>
<rect x="853.0" y="1689.84" width="57.4" height="26.60" fill="#C82328"/>
<rect x="853.0" y="1716.14" width="57.4" height="20.02" fill="#CC4545"/>
<rect x="853.0" y="1735.86" width="57.4" height="8.19" fill="#C83030"/>
<rect x="853.0" y="1743.75" width="57.4" height="6.87" fill="#D06060"/>
<rect x="910.4" y="1562.31" width="57.3" height="6.87" fill="#B0B0D5"/>
<rect x="910.4" y="1568.89" width="57.3" height="6.87" fill="#8A8AC2"/>
<rect x="910.4" y="1575.46" width="57.3" height="21.34" fill="#B0B0D5"/>
<rect x="910.4" y="1596.49" width="57.3" height="13.45" fill="#8A8AC2"/>
<rect x="910.4" y="1609.64" width="57.3" height="6.87" fill="#6068B0"/>
<rect x="910.4" y="1616.22" width="57.3" height="13.45" fill="#DCDCEC"/>
<rect x="910.4" y="1629.36" width="57.3" height="13.45" fill="#FFFFFF"/>
<rect x="910.4" y="1642.51" width="57.3" height="14.76" fill="#DCDCEC"/>
<rect x="910.4" y="1656.97" width="57.3" height="13.45" fill="#B0B0D5"/>
<rect x="910.4" y="1670.12" width="57.3" height="6.87" fill="#8A8AC2"/>
<rect x="910.4" y="1676.69" width="57.3" height="13.45" fill="#D06060"/>
<rect x="910.4" y="1689.84" width="57.3" height="8.19" fill="#F2D8D8"/>
<rect x="910.4" y="1697.73" width="57.3" height="12.13" fill="#E8B0B0"/>
<rect x="910.4" y="1709.56" width="57.3" height="13.45" fill="#F2D8D8"/>
<rect x="910.4" y="1722.71" width="57.3" height="6.87" fill="#FFFFFF"/>
<rect x="910.4" y="1729.28" width="57.3" height="8.19" fill="#E8B0B0"/>
<rect x="910.4" y="1737.17" width="57.3" height="13.45" fill="#DC8A8A"/>
<rect x="738.1" y="1753.0" width="113.1" height="13.0" fill="#fff" stroke="#333" stroke-width="1.1"/>
<rect x="851.2" y="1752.5" width="116.5" height="14.0" fill="#050505"/>
<text x="853.9" y="1526.8" font-size="23.5" text-anchor="middle" fill="#DDA55A" stroke="#DDA55A" stroke-width="0.35">Cytoskeleton</text>
<text x="719.7" y="1554.4" font-size="24" fill="#111" stroke="#111" stroke-width="0.35">ZT<tspan dx="3.2">:</tspan></text>
<text x="767.0" y="1556.4" font-size="24" text-anchor="middle" fill="#111" stroke="#111" stroke-width="0.35">2</text>
<text x="824.7" y="1554.4" font-size="24" text-anchor="middle" fill="#111" stroke="#111" stroke-width="0.35">8</text>
<text x="882.0" y="1554.4" font-size="24" text-anchor="middle" fill="#111" stroke="#111" stroke-width="0.35">14</text>
<text x="939.4" y="1554.4" font-size="24" text-anchor="middle" fill="#111" stroke="#111" stroke-width="0.35">20</text>
<text x="977.2" y="1579.4" font-size="19.7" text-anchor="start" fill="#111" stroke="#111" stroke-width="0.35">Rac1</text>
<text x="977.2" y="1596.7" font-size="19.7" text-anchor="start" fill="#111" stroke="#111" stroke-width="0.35">Bcr</text>
<text x="977.2" y="1614.0" font-size="19.7" text-anchor="start" fill="#111" stroke="#111" stroke-width="0.35">Rhou</text>
<text x="977.2" y="1631.3" font-size="19.7" text-anchor="start" fill="#111" stroke="#111" stroke-width="0.35">Coro1c</text>
<text x="977.2" y="1648.6" font-size="19.7" text-anchor="start" fill="#111" stroke="#111" stroke-width="0.35">Flii</text>
<text x="977.2" y="1665.9" font-size="19.7" text-anchor="start" fill="#111" stroke="#111" stroke-width="0.35">Bcar1</text>
<text x="977.2" y="1683.2" font-size="19.7" text-anchor="start" fill="#111" stroke="#111" stroke-width="0.35">Pof1b</text>
<text x="977.2" y="1700.5" font-size="19.7" text-anchor="start" fill="#111" stroke="#111" stroke-width="0.35">Ppp1r9b</text>
<text x="977.2" y="1717.8" font-size="19.7" text-anchor="start" fill="#111" stroke="#111" stroke-width="0.35">Pdlim1</text>
<text x="977.2" y="1735.1" font-size="19.7" text-anchor="start" fill="#111" stroke="#111" stroke-width="0.35">Pdlim5</text>
<text x="977.2" y="1752.4" font-size="19.7" text-anchor="start" fill="#111" stroke="#111" stroke-width="0.35">Vasp</text>
<rect x="1066.7" y="1567.51" width="56.9" height="6.99" fill="#DC8A8A"/>
<rect x="1066.7" y="1574.20" width="56.9" height="6.49" fill="#DC8A8A"/>
<rect x="1066.7" y="1580.39" width="56.9" height="6.49" fill="#DC8A8A"/>
<rect x="1066.7" y="1586.58" width="56.9" height="20.11" fill="#E8B0B0"/>
<rect x="1066.7" y="1606.39" width="56.9" height="6.49" fill="#DC8A8A"/>
<rect x="1066.7" y="1612.59" width="56.9" height="6.49" fill="#D06060"/>
<rect x="1066.7" y="1618.78" width="56.9" height="13.92" fill="#DC8A8A"/>
<rect x="1066.7" y="1632.40" width="56.9" height="13.92" fill="#E8B0B0"/>
<rect x="1066.7" y="1646.02" width="56.9" height="6.49" fill="#DC8A8A"/>
<rect x="1066.7" y="1652.21" width="56.9" height="6.49" fill="#F2D8D8"/>
<rect x="1066.7" y="1658.40" width="56.9" height="20.11" fill="#FFFFFF"/>
<rect x="1066.7" y="1678.21" width="56.9" height="12.68" fill="#F2D8D8"/>
<rect x="1066.7" y="1690.59" width="56.9" height="13.92" fill="#FFFFFF"/>
<rect x="1066.7" y="1704.21" width="56.9" height="6.49" fill="#DCDCEC"/>
<rect x="1066.7" y="1710.41" width="56.9" height="6.49" fill="#8A8AC2"/>
<rect x="1066.7" y="1716.60" width="56.9" height="7.73" fill="#6068B0"/>
<rect x="1066.7" y="1724.03" width="56.9" height="6.49" fill="#DCDCEC"/>
<rect x="1066.7" y="1730.22" width="56.9" height="19.37" fill="#B0B0D5"/>
<rect x="1123.6" y="1567.51" width="57.4" height="123.38" fill="#4A58A8"/>
<rect x="1123.6" y="1690.59" width="57.4" height="13.92" fill="#5560A8"/>
<rect x="1123.6" y="1704.21" width="57.4" height="20.11" fill="#6068B0"/>
<rect x="1123.6" y="1724.03" width="57.4" height="25.56" fill="#4A58A8"/>
<rect x="1181.0" y="1567.51" width="57.5" height="39.18" fill="#B0B0D5"/>
<rect x="1181.0" y="1606.39" width="57.5" height="6.49" fill="#8A8AC2"/>
<rect x="1181.0" y="1612.59" width="57.5" height="7.73" fill="#B0B0D5"/>
<rect x="1181.0" y="1620.01" width="57.5" height="18.87" fill="#E8B0B0"/>
<rect x="1181.0" y="1638.59" width="57.5" height="13.92" fill="#FFFFFF"/>
<rect x="1181.0" y="1652.21" width="57.5" height="6.49" fill="#DCDCEC"/>
<rect x="1181.0" y="1658.40" width="57.5" height="6.49" fill="#FFFFFF"/>
<rect x="1181.0" y="1664.59" width="57.5" height="7.73" fill="#E8B0B0"/>
<rect x="1181.0" y="1672.02" width="57.5" height="6.49" fill="#DC8A8A"/>
<rect x="1181.0" y="1678.21" width="57.5" height="7.73" fill="#F2D8D8"/>
<rect x="1181.0" y="1685.64" width="57.5" height="6.49" fill="#E8B0B0"/>
<rect x="1181.0" y="1691.83" width="57.5" height="12.68" fill="#B0B0D5"/>
<rect x="1181.0" y="1704.21" width="57.5" height="6.49" fill="#8A8AC2"/>
<rect x="1181.0" y="1710.41" width="57.5" height="7.23" fill="#FFFFFF"/>
<rect x="1181.0" y="1717.34" width="57.5" height="6.99" fill="#DC8A8A"/>
<rect x="1181.0" y="1724.03" width="57.5" height="6.49" fill="#F2D8D8"/>
<rect x="1181.0" y="1730.22" width="57.5" height="6.49" fill="#E8B0B0"/>
<rect x="1181.0" y="1736.41" width="57.5" height="13.18" fill="#DC8A8A"/>
<rect x="1238.5" y="1567.51" width="57.2" height="20.61" fill="#CC4545"/>
<rect x="1238.5" y="1587.82" width="57.2" height="25.06" fill="#C83030"/>
<rect x="1238.5" y="1612.59" width="57.2" height="7.73" fill="#D06060"/>
<rect x="1238.5" y="1620.01" width="57.2" height="18.87" fill="#DC8A8A"/>
<rect x="1238.5" y="1638.59" width="57.2" height="13.92" fill="#D06060"/>
<rect x="1238.5" y="1652.21" width="57.2" height="12.68" fill="#C83030"/>
<rect x="1238.5" y="1664.59" width="57.2" height="21.35" fill="#CC4545"/>
<rect x="1238.5" y="1685.64" width="57.2" height="6.49" fill="#D06060"/>
<rect x="1238.5" y="1691.83" width="57.2" height="25.06" fill="#C82328"/>
<rect x="1238.5" y="1716.60" width="57.2" height="7.73" fill="#CC4545"/>
<rect x="1238.5" y="1724.03" width="57.2" height="25.56" fill="#C83030"/>
<rect x="1067.1" y="1753.0" width="113.9" height="12.4" fill="#fff" stroke="#333" stroke-width="1.1"/>
<rect x="1181.0" y="1752.5" width="116.5" height="13.4" fill="#050505"/>
<text x="1178.0" y="1527.1" font-size="23.5" text-anchor="middle" fill="#5E3A95" stroke="#5E3A95" stroke-width="0.35">Endocytosis</text>
<text x="1049.8" y="1559.8" font-size="24" fill="#111" stroke="#111" stroke-width="0.35">ZT<tspan dx="3.2">:</tspan></text>
<text x="1096.4" y="1561.8" font-size="24" text-anchor="middle" fill="#111" stroke="#111" stroke-width="0.35">2</text>
<text x="1154.6" y="1559.8" font-size="24" text-anchor="middle" fill="#111" stroke="#111" stroke-width="0.35">8</text>
<text x="1211.5" y="1559.8" font-size="24" text-anchor="middle" fill="#111" stroke="#111" stroke-width="0.35">14</text>
<text x="1269.7" y="1559.8" font-size="24" text-anchor="middle" fill="#111" stroke="#111" stroke-width="0.35">20</text>
<text x="1305.9" y="1577.2" font-size="19.7" text-anchor="start" fill="#111" stroke="#111" stroke-width="0.35">Lrrk2</text>
<text x="1305.9" y="1596.1" font-size="19.7" text-anchor="start" fill="#111" stroke="#111" stroke-width="0.35">Ston1</text>
<text x="1305.9" y="1615.0" font-size="19.7" text-anchor="start" fill="#111" stroke="#111" stroke-width="0.35">Rab5a</text>
<text x="1305.9" y="1634.0" font-size="19.7" text-anchor="start" fill="#111" stroke="#111" stroke-width="0.35">Usp33</text>
<text x="1305.9" y="1652.9" font-size="19.7" text-anchor="start" fill="#111" stroke="#111" stroke-width="0.35">Picalm</text>
<text x="1305.9" y="1671.8" font-size="19.7" text-anchor="start" fill="#111" stroke="#111" stroke-width="0.35">Mtmr6</text>
<text x="1305.9" y="1690.7" font-size="19.7" text-anchor="start" fill="#111" stroke="#111" stroke-width="0.35">Lrp4</text>
<text x="1305.9" y="1709.7" font-size="19.7" text-anchor="start" fill="#111" stroke="#111" stroke-width="0.35">Myo6</text>
<text x="1305.9" y="1728.6" font-size="19.7" text-anchor="start" fill="#111" stroke="#111" stroke-width="0.35">Pik3cg</text>
<text x="1305.9" y="1747.5" font-size="19.7" text-anchor="start" fill="#111" stroke="#111" stroke-width="0.35">Hip1</text>
<text x="4.0" y="1851.0" font-size="45" text-anchor="start" fill="#000" font-weight="bold">D</text>
<rect x="147.5" y="1845" width="426.5" height="425.7" fill="#fff" stroke="#444" stroke-width="1.2"/>
<g transform="rotate(0.45 360.9 2058.5)">
<circle cx="360.9" cy="2058.5" r="32.14" fill="none" stroke="#E6E6E6" stroke-width="1.3"/>
<circle cx="360.9" cy="2058.5" r="64.28" fill="none" stroke="#E6E6E6" stroke-width="1.3"/>
<circle cx="360.9" cy="2058.5" r="96.42" fill="none" stroke="#E6E6E6" stroke-width="1.3"/>
<circle cx="360.9" cy="2058.5" r="128.56" fill="none" stroke="#E6E6E6" stroke-width="1.3"/>
<circle cx="360.9" cy="2058.5" r="160.7" fill="none" stroke="#E6E6E6" stroke-width="1.3"/>
<circle cx="360.9" cy="2058.5" r="192.84" fill="none" stroke="#E6E6E6" stroke-width="1.3"/>
<line x1="360.9" y1="2058.5" x2="360.9" y2="1867.1" stroke="#E6E6E6" stroke-width="1.3"/>
<line x1="360.9" y1="2058.5" x2="496.2" y2="1923.2" stroke="#E6E6E6" stroke-width="1.3"/>
<line x1="360.9" y1="2058.5" x2="552.3" y2="2058.5" stroke="#E6E6E6" stroke-width="1.3"/>
<line x1="360.9" y1="2058.5" x2="496.2" y2="2193.8" stroke="#E6E6E6" stroke-width="1.3"/>
<line x1="360.9" y1="2058.5" x2="360.9" y2="2249.9" stroke="#E6E6E6" stroke-width="1.3"/>
<line x1="360.9" y1="2058.5" x2="225.6" y2="2193.8" stroke="#E6E6E6" stroke-width="1.3"/>
<line x1="360.9" y1="2058.5" x2="169.5" y2="2058.5" stroke="#E6E6E6" stroke-width="1.3"/>
<line x1="360.9" y1="2058.5" x2="225.6" y2="1923.2" stroke="#E6E6E6" stroke-width="1.3"/>
<path d="M360.90 2058.50L351.93 2013.38A46.0 46.0 0 0 1 369.87 2013.38Z" fill="#843526" stroke="#1a1a1a" stroke-width="1.1" stroke-linejoin="round"/>
<path d="M351.93 2013.38L347.42 1990.73A69.1 69.1 0 0 1 374.38 1990.73L369.87 2013.38A46.0 46.0 0 0 0 351.93 2013.38Z" fill="#C3602B" stroke="#1a1a1a" stroke-width="1.1" stroke-linejoin="round"/>
<path d="M347.42 1990.73L342.52 1966.11A94.2 94.2 0 0 1 379.28 1966.11L374.38 1990.73A69.1 69.1 0 0 0 347.42 1990.73Z" fill="#E09A3A" stroke="#1a1a1a" stroke-width="1.1" stroke-linejoin="round"/>
<path d="M342.52 1966.11L336.57 1936.20A124.7 124.7 0 0 1 385.23 1936.20L379.28 1966.11A94.2 94.2 0 0 0 342.52 1966.11Z" fill="#F4D793" stroke="#1a1a1a" stroke-width="1.1" stroke-linejoin="round"/>
<path d="M336.57 1936.20L331.11 1908.73A152.7 152.7 0 0 1 390.69 1908.73L385.23 1936.20A124.7 124.7 0 0 0 336.57 1936.20Z" fill="#FDF8D6" stroke="#1a1a1a" stroke-width="1.1" stroke-linejoin="round"/>
<path d="M360.90 2058.50L386.85 2019.67A46.7 46.7 0 0 1 399.73 2032.55Z" fill="#843526" stroke="#1a1a1a" stroke-width="1.1" stroke-linejoin="round"/>
<path d="M386.85 2019.67L398.46 2002.29A67.6 67.6 0 0 1 417.11 2020.94L399.73 2032.55A46.7 46.7 0 0 0 386.85 2019.67Z" fill="#C3602B" stroke="#1a1a1a" stroke-width="1.1" stroke-linejoin="round"/>
<path d="M398.46 2002.29L415.18 1977.27A97.7 97.7 0 0 1 442.13 2004.22L417.11 2020.94A67.6 67.6 0 0 0 398.46 2002.29Z" fill="#E09A3A" stroke="#1a1a1a" stroke-width="1.1" stroke-linejoin="round"/>
<path d="M415.18 1977.27L430.46 1954.40A125.2 125.2 0 0 1 465.00 1988.94L442.13 2004.22A97.7 97.7 0 0 0 415.18 1977.27Z" fill="#F4D793" stroke="#1a1a1a" stroke-width="1.1" stroke-linejoin="round"/>
<path d="M430.46 1954.40L445.12 1932.45A151.6 151.6 0 0 1 486.95 1974.28L465.00 1988.94A125.2 125.2 0 0 0 430.46 1954.40Z" fill="#FDF8D6" stroke="#1a1a1a" stroke-width="1.1" stroke-linejoin="round"/>
<path d="M360.90 2058.50L390.52 2052.61A30.2 30.2 0 0 1 390.52 2064.39Z" fill="#843526" stroke="#1a1a1a" stroke-width="1.1" stroke-linejoin="round"/>
<path d="M390.52 2052.61L409.74 2048.78A49.8 49.8 0 0 1 409.74 2068.22L390.52 2064.39A30.2 30.2 0 0 0 390.52 2052.61Z" fill="#C3602B" stroke="#1a1a1a" stroke-width="1.1" stroke-linejoin="round"/>
<path d="M409.74 2048.78L439.76 2042.81A80.4 80.4 0 0 1 439.76 2074.19L409.74 2068.22A49.8 49.8 0 0 0 409.74 2048.78Z" fill="#E09A3A" stroke="#1a1a1a" stroke-width="1.1" stroke-linejoin="round"/>
<path d="M439.76 2042.81L462.41 2038.31A103.5 103.5 0 0 1 462.41 2078.69L439.76 2074.19A80.4 80.4 0 0 0 439.76 2042.81Z" fill="#F4D793" stroke="#1a1a1a" stroke-width="1.1" stroke-linejoin="round"/>
<path d="M462.41 2038.31L487.62 2033.29A129.2 129.2 0 0 1 487.62 2083.71L462.41 2078.69A103.5 103.5 0 0 0 462.41 2038.31Z" fill="#FDF8D6" stroke="#1a1a1a" stroke-width="1.1" stroke-linejoin="round"/>
<path d="M360.90 2058.50L391.00 2078.61A36.2 36.2 0 0 1 381.01 2088.60Z" fill="#843526" stroke="#1a1a1a" stroke-width="1.1" stroke-linejoin="round"/>
<path d="M391.00 2078.61L410.54 2091.67A59.7 59.7 0 0 1 394.07 2108.14L381.01 2088.60A36.2 36.2 0 0 0 391.00 2078.61Z" fill="#C3602B" stroke="#1a1a1a" stroke-width="1.1" stroke-linejoin="round"/>
<path d="M410.54 2091.67L435.48 2108.33A89.7 89.7 0 0 1 410.73 2133.08L394.07 2108.14A59.7 59.7 0 0 0 410.54 2091.67Z" fill="#E09A3A" stroke="#1a1a1a" stroke-width="1.1" stroke-linejoin="round"/>
<path d="M435.48 2108.33L461.51 2125.72A121.0 121.0 0 0 1 428.12 2159.11L410.73 2133.08A89.7 89.7 0 0 0 435.48 2108.33Z" fill="#F4D793" stroke="#1a1a1a" stroke-width="1.1" stroke-linejoin="round"/>
<path d="M461.51 2125.72L493.27 2146.95A159.2 159.2 0 0 1 449.35 2190.87L428.12 2159.11A121.0 121.0 0 0 0 461.51 2125.72Z" fill="#FDF8D6" stroke="#1a1a1a" stroke-width="1.1" stroke-linejoin="round"/>
<path d="M360.90 2058.50L368.29 2095.67A37.9 37.9 0 0 1 353.51 2095.67Z" fill="#843526" stroke="#1a1a1a" stroke-width="1.1" stroke-linejoin="round"/>
<path d="M368.29 2095.67L372.80 2118.33A61.0 61.0 0 0 1 349.00 2118.33L353.51 2095.67A37.9 37.9 0 0 0 368.29 2095.67Z" fill="#C3602B" stroke="#1a1a1a" stroke-width="1.1" stroke-linejoin="round"/>
<path d="M372.80 2118.33L379.90 2154.03A97.4 97.4 0 0 1 341.90 2154.03L349.00 2118.33A61.0 61.0 0 0 0 372.80 2118.33Z" fill="#E09A3A" stroke="#1a1a1a" stroke-width="1.1" stroke-linejoin="round"/>
<path d="M379.90 2154.03L386.46 2186.98A131.0 131.0 0 0 1 335.34 2186.98L341.90 2154.03A97.4 97.4 0 0 0 379.90 2154.03Z" fill="#F4D793" stroke="#1a1a1a" stroke-width="1.1" stroke-linejoin="round"/>
<path d="M386.46 2186.98L392.89 2219.35A164.0 164.0 0 0 1 328.91 2219.35L335.34 2186.98A131.0 131.0 0 0 0 386.46 2186.98Z" fill="#FDF8D6" stroke="#1a1a1a" stroke-width="1.1" stroke-linejoin="round"/>
<path d="M360.90 2058.50L344.18 2083.53A30.1 30.1 0 0 1 335.87 2075.22Z" fill="#843526" stroke="#1a1a1a" stroke-width="1.1" stroke-linejoin="round"/>
<path d="M344.18 2083.53L332.23 2101.40A51.6 51.6 0 0 1 318.00 2087.17L335.87 2075.22A30.1 30.1 0 0 0 344.18 2083.53Z" fill="#C3602B" stroke="#1a1a1a" stroke-width="1.1" stroke-linejoin="round"/>
<path d="M332.23 2101.40L317.68 2123.19A77.8 77.8 0 0 1 296.21 2101.72L318.00 2087.17A51.6 51.6 0 0 0 332.23 2101.40Z" fill="#E09A3A" stroke="#1a1a1a" stroke-width="1.1" stroke-linejoin="round"/>
<path d="M317.68 2123.19L301.57 2147.30A106.8 106.8 0 0 1 272.10 2117.83L296.21 2101.72A77.8 77.8 0 0 0 317.68 2123.19Z" fill="#F4D793" stroke="#1a1a1a" stroke-width="1.1" stroke-linejoin="round"/>
<path d="M301.57 2147.30L287.56 2168.25A132.0 132.0 0 0 1 251.15 2131.84L272.10 2117.83A106.8 106.8 0 0 0 301.57 2147.30Z" fill="#FDF8D6" stroke="#1a1a1a" stroke-width="1.1" stroke-linejoin="round"/>
<path d="M360.90 2058.50L323.04 2066.03A38.6 38.6 0 0 1 323.04 2050.97Z" fill="#843526" stroke="#1a1a1a" stroke-width="1.1" stroke-linejoin="round"/>
<path d="M323.04 2066.03L306.37 2069.35A55.6 55.6 0 0 1 306.37 2047.65L323.04 2050.97A38.6 38.6 0 0 0 323.04 2066.03Z" fill="#C3602B" stroke="#1a1a1a" stroke-width="1.1" stroke-linejoin="round"/>
<path d="M306.37 2069.35L279.49 2074.69A83.0 83.0 0 0 1 279.49 2042.31L306.37 2047.65A55.6 55.6 0 0 0 306.37 2069.35Z" fill="#E09A3A" stroke="#1a1a1a" stroke-width="1.1" stroke-linejoin="round"/>
<path d="M279.49 2074.69L248.11 2080.94A115.0 115.0 0 0 1 248.11 2036.06L279.49 2042.31A83.0 83.0 0 0 0 279.49 2074.69Z" fill="#F4D793" stroke="#1a1a1a" stroke-width="1.1" stroke-linejoin="round"/>
<path d="M248.11 2080.94L219.67 2086.59A144.0 144.0 0 0 1 219.67 2030.41L248.11 2036.06A115.0 115.0 0 0 0 248.11 2080.94Z" fill="#FDF8D6" stroke="#1a1a1a" stroke-width="1.1" stroke-linejoin="round"/>
<path d="M360.90 2058.50L325.15 2034.61A43.0 43.0 0 0 1 337.01 2022.75Z" fill="#843526" stroke="#1a1a1a" stroke-width="1.1" stroke-linejoin="round"/>
<path d="M325.15 2034.61L299.79 2017.67A73.5 73.5 0 0 1 320.07 1997.39L337.01 2022.75A43.0 43.0 0 0 0 325.15 2034.61Z" fill="#C3602B" stroke="#1a1a1a" stroke-width="1.1" stroke-linejoin="round"/>
<path d="M299.79 2017.67L272.76 1999.61A106.0 106.0 0 0 1 302.01 1970.36L320.07 1997.39A73.5 73.5 0 0 0 299.79 2017.67Z" fill="#E09A3A" stroke="#1a1a1a" stroke-width="1.1" stroke-linejoin="round"/>
<path d="M272.76 1999.61L246.16 1981.83A138.0 138.0 0 0 1 284.23 1943.76L302.01 1970.36A106.0 106.0 0 0 0 272.76 1999.61Z" fill="#F4D793" stroke="#1a1a1a" stroke-width="1.1" stroke-linejoin="round"/>
<path d="M246.16 1981.83L219.13 1963.78A170.5 170.5 0 0 1 266.18 1916.73L284.23 1943.76A138.0 138.0 0 0 0 246.16 1981.83Z" fill="#FDF8D6" stroke="#1a1a1a" stroke-width="1.1" stroke-linejoin="round"/>
</g>
<text x="367.7" y="1882.5" font-size="23" text-anchor="middle" fill="#4D4D4D" stroke="#4D4D4D" stroke-width="0.35">0</text>
<text x="556.3" y="2073.0" font-size="23" text-anchor="middle" fill="#4D4D4D" stroke="#4D4D4D" stroke-width="0.35">6</text>
<text x="368.5" y="2261.3" font-size="23" text-anchor="middle" fill="#4D4D4D" stroke="#4D4D4D" stroke-width="0.35">12</text>
<text x="179.6" y="2070.5" font-size="23" text-anchor="middle" fill="#4D4D4D" stroke="#4D4D4D" stroke-width="0.35">18</text>
<line x1="142.0" y1="2058.1" x2="147.5" y2="2058.1" stroke="#444" stroke-width="1.3"/>
<text x="144.0" y="2064.1" font-size="23" text-anchor="end" fill="#4D4D4D" stroke="#4D4D4D" stroke-width="0.35">0</text>
<line x1="142.0" y1="2026.0" x2="147.5" y2="2026.0" stroke="#444" stroke-width="1.3"/>
<text x="144.0" y="2032.0" font-size="23" text-anchor="end" fill="#4D4D4D" stroke="#4D4D4D" stroke-width="0.35">100</text>
<line x1="142.0" y1="1993.8" x2="147.5" y2="1993.8" stroke="#444" stroke-width="1.3"/>
<text x="144.0" y="1999.8" font-size="23" text-anchor="end" fill="#4D4D4D" stroke="#4D4D4D" stroke-width="0.35">200</text>
<line x1="142.0" y1="1961.7" x2="147.5" y2="1961.7" stroke="#444" stroke-width="1.3"/>
<text x="144.0" y="1967.7" font-size="23" text-anchor="end" fill="#4D4D4D" stroke="#4D4D4D" stroke-width="0.35">300</text>
<line x1="142.0" y1="1929.5" x2="147.5" y2="1929.5" stroke="#444" stroke-width="1.3"/>
<text x="144.0" y="1935.5" font-size="23" text-anchor="end" fill="#4D4D4D" stroke="#4D4D4D" stroke-width="0.35">400</text>
<line x1="142.0" y1="1897.4" x2="147.5" y2="1897.4" stroke="#444" stroke-width="1.3"/>
<text x="144.0" y="1903.4" font-size="23" text-anchor="end" fill="#4D4D4D" stroke="#4D4D4D" stroke-width="0.35">500</text>
<text x="0" y="0" font-size="26" fill="#111" stroke="#111" stroke-width="0.35" text-anchor="middle" transform="translate(93 2046) rotate(-90)">count</text>
<text x="376.0" y="2305.0" font-size="26" text-anchor="middle" fill="#111" stroke="#111" stroke-width="0.35">Phase</text>
<text x="583.0" y="1998.2" font-size="23" text-anchor="start" fill="#111" stroke="#111" stroke-width="0.35">Amplitude_rank</text>
<rect x="599.5" y="2009.3" width="26.5" height="27.2" fill="#FDF8D6" stroke="#333" stroke-width="1"/>
<text x="635.0" y="2028.0" font-size="23" text-anchor="start" fill="#111" stroke="#111" stroke-width="0.35">&lt;0.1</text>
<rect x="599.5" y="2036.5" width="26.5" height="27.2" fill="#F4D793" stroke="#333" stroke-width="1"/>
<text x="635.0" y="2055.2" font-size="23" text-anchor="start" fill="#111" stroke="#111" stroke-width="0.35">0.1–0.15</text>
<rect x="599.5" y="2063.7" width="26.5" height="27.2" fill="#E09A3A" stroke="#333" stroke-width="1"/>
<text x="635.0" y="2082.5" font-size="23" text-anchor="start" fill="#111" stroke="#111" stroke-width="0.35">0.15–0.2</text>
<rect x="599.5" y="2090.9" width="26.5" height="27.2" fill="#C3602B" stroke="#333" stroke-width="1"/>
<text x="635.0" y="2109.8" font-size="23" text-anchor="start" fill="#111" stroke="#111" stroke-width="0.35">0.2–0.25</text>
<rect x="599.5" y="2118.1" width="26.5" height="27.2" fill="#843526" stroke="#333" stroke-width="1"/>
<text x="635.0" y="2137.0" font-size="23" text-anchor="start" fill="#111" stroke="#111" stroke-width="0.35">&gt;0.25</text>
<text x="731.0" y="1851.0" font-size="45" text-anchor="start" fill="#000" font-weight="bold">E</text>
<line x1="845.5" y1="2164.0" x2="1307" y2="2164.0" stroke="#BDBDBD" stroke-width="2" stroke-dasharray="2 7.1"/>
<line x1="845.5" y1="2037.2" x2="1307" y2="2037.2" stroke="#BDBDBD" stroke-width="2" stroke-dasharray="2 7.1"/>
<line x1="845.5" y1="1910.4" x2="1307" y2="1910.4" stroke="#BDBDBD" stroke-width="2" stroke-dasharray="2 7.1"/>
<line x1="872.8" y1="1908.7" x2="872.8" y2="2011.1" stroke="#333" stroke-width="1.7"/>
<line x1="872.8" y1="2092.2" x2="872.8" y2="2158.8" stroke="#333" stroke-width="1.7"/>
<rect x="851.2" y="2011.1" width="43.2" height="81.1" fill="#C98BB9" stroke="#333" stroke-width="1.8"/>
<line x1="851.2" y1="2056.0" x2="894.4" y2="2056.0" stroke="#333" stroke-width="3.2"/>
<circle cx="872.8" cy="1876.4" r="4.6" fill="#444"/>
<line x1="929.5" y1="2015.5" x2="929.5" y2="2064.1" stroke="#333" stroke-width="1.7"/>
<line x1="929.5" y1="2108.6" x2="929.5" y2="2136.6" stroke="#333" stroke-width="1.7"/>
<rect x="907.7" y="2064.1" width="43.5" height="44.5" fill="#C98BB9" stroke="#333" stroke-width="1.8"/>
<line x1="907.7" y1="2093.4" x2="951.2" y2="2093.4" stroke="#333" stroke-width="3.2"/>
<circle cx="929.5" cy="1998.7" r="4.6" fill="#444"/>
<line x1="986.5" y1="2002.9" x2="986.5" y2="2030.7" stroke="#333" stroke-width="1.7"/>
<line x1="986.5" y1="2074.0" x2="986.5" y2="2128.0" stroke="#333" stroke-width="1.7"/>
<rect x="964.8" y="2030.7" width="43.4" height="43.3" fill="#A7D1BC" stroke="#333" stroke-width="1.8"/>
<line x1="964.8" y1="2052.9" x2="1008.2" y2="2052.9" stroke="#333" stroke-width="3.2"/>
<line x1="1043.5" y1="2011.0" x2="1043.5" y2="2034.9" stroke="#333" stroke-width="1.7"/>
<line x1="1043.5" y1="2081.2" x2="1043.5" y2="2118.4" stroke="#333" stroke-width="1.7"/>
<rect x="1021.8" y="2034.9" width="43.5" height="46.3" fill="#A7D1BC" stroke="#333" stroke-width="1.8"/>
<line x1="1021.8" y1="2059.0" x2="1065.3" y2="2059.0" stroke="#333" stroke-width="3.2"/>
<line x1="1100.6" y1="1961.4" x2="1100.6" y2="1994.1" stroke="#333" stroke-width="1.7"/>
<line x1="1100.6" y1="2043.3" x2="1100.6" y2="2115.6" stroke="#333" stroke-width="1.7"/>
<rect x="1079.2" y="1994.1" width="43.1" height="49.2" fill="#E3B674" stroke="#333" stroke-width="1.8"/>
<line x1="1079.2" y1="2018.3" x2="1122.3" y2="2018.3" stroke="#333" stroke-width="3.2"/>
<circle cx="1100.6" cy="1824.8" r="4.6" fill="#444"/>
<circle cx="1100.6" cy="2138.6" r="4.6" fill="#444"/>
<line x1="1157.5" y1="1968.2" x2="1157.5" y2="2013.8" stroke="#333" stroke-width="1.7"/>
<line x1="1157.5" y1="2109.7" x2="1157.5" y2="2140.9" stroke="#333" stroke-width="1.7"/>
<rect x="1136.1" y="2013.8" width="43.1" height="95.9" fill="#E3B674" stroke="#333" stroke-width="1.8"/>
<line x1="1136.1" y1="2055.8" x2="1179.2" y2="2055.8" stroke="#333" stroke-width="3.2"/>
<line x1="1214.9" y1="1888.5" x2="1214.9" y2="2007.7" stroke="#333" stroke-width="1.7"/>
<line x1="1214.9" y1="2097.5" x2="1214.9" y2="2142.7" stroke="#333" stroke-width="1.7"/>
<rect x="1193.2" y="2007.7" width="43.3" height="89.8" fill="#7B5C9F" stroke="#333" stroke-width="1.8"/>
<line x1="1193.2" y1="2057.3" x2="1236.5" y2="2057.3" stroke="#333" stroke-width="3.2"/>
<circle cx="1214.9" cy="1853.7" r="4.6" fill="#444"/>
<line x1="1271.7" y1="1900.5" x2="1271.7" y2="2013.3" stroke="#333" stroke-width="1.7"/>
<line x1="1271.7" y1="2112.6" x2="1271.7" y2="2154.0" stroke="#333" stroke-width="1.7"/>
<rect x="1250.1" y="2013.3" width="43.5" height="99.3" fill="#7B5C9F" stroke="#333" stroke-width="1.8"/>
<line x1="1250.1" y1="2074.3" x2="1293.6" y2="2074.3" stroke="#333" stroke-width="3.2"/>
<line x1="838.5" y1="1808.3" x2="838.5" y2="2177.0" stroke="#111" stroke-width="2.3"/>
<line x1="837.4" y1="2175.9" x2="1306.5" y2="2175.9" stroke="#111" stroke-width="2.3"/>
<line x1="832.5" y1="2164.0" x2="838.5" y2="2164.0" stroke="#222" stroke-width="2"/>
<text x="827.3" y="2172.3" font-size="24" text-anchor="end" fill="#4D4D4D" stroke="#4D4D4D" stroke-width="0.35">0.0</text>
<line x1="832.5" y1="2037.2" x2="838.5" y2="2037.2" stroke="#222" stroke-width="2"/>
<text x="827.3" y="2045.5" font-size="24" text-anchor="end" fill="#4D4D4D" stroke="#4D4D4D" stroke-width="0.35">0.2</text>
<line x1="832.5" y1="1910.4" x2="838.5" y2="1910.4" stroke="#222" stroke-width="2"/>
<text x="827.3" y="1918.7" font-size="24" text-anchor="end" fill="#4D4D4D" stroke="#4D4D4D" stroke-width="0.35">0.4</text>
<text x="0" y="0" font-size="23.5" fill="#111" stroke="#111" stroke-width="0.35" text-anchor="middle" transform="translate(784 1991.7) rotate(-90)">Amplitude</text>
<line x1="872.8" y1="2175.9" x2="872.8" y2="2181.8" stroke="#222" stroke-width="2"/>
<text x="0" y="0" font-size="23.3" fill="#111" stroke="#111" stroke-width="0.35" text-anchor="end" transform="translate(883.5 2192.5) rotate(-45)">Cell cycle</text>
<line x1="929.5" y1="2175.9" x2="929.5" y2="2181.8" stroke="#222" stroke-width="2"/>
<text x="0" y="0" font-size="23.3" fill="#111" stroke="#111" stroke-width="0.35" text-anchor="end" transform="translate(940.2 2192.5) rotate(-45)">Ribosome biogenesis</text>
<line x1="986.5" y1="2175.9" x2="986.5" y2="2181.8" stroke="#222" stroke-width="2"/>
<text x="0" y="0" font-size="23.3" fill="#111" stroke="#111" stroke-width="0.35" text-anchor="end" transform="translate(997.2 2192.5) rotate(-45)">Cytoplasmic translation</text>
<line x1="1043.5" y1="2175.9" x2="1043.5" y2="2181.8" stroke="#222" stroke-width="2"/>
<text x="0" y="0" font-size="23.3" fill="#111" stroke="#111" stroke-width="0.35" text-anchor="end" transform="translate(1054.2 2192.5) rotate(-45)">Aerobic respiration</text>
<line x1="1100.6" y1="2175.9" x2="1100.6" y2="2181.8" stroke="#222" stroke-width="2"/>
<text x="0" y="0" font-size="23.3" fill="#111" stroke="#111" stroke-width="0.35" text-anchor="end" transform="translate(1111.3 2192.5) rotate(-45)">Cholesterol biosynthesis</text>
<line x1="1157.5" y1="2175.9" x2="1157.5" y2="2181.8" stroke="#222" stroke-width="2"/>
<text x="0" y="0" font-size="23.3" fill="#111" stroke="#111" stroke-width="0.35" text-anchor="end" transform="translate(1168.2 2192.5) rotate(-45)">cytoskeleton organization</text>
<line x1="1214.9" y1="2175.9" x2="1214.9" y2="2181.8" stroke="#222" stroke-width="2"/>
<text x="0" y="0" font-size="23.3" fill="#111" stroke="#111" stroke-width="0.35" text-anchor="end" transform="translate(1225.6 2192.5) rotate(-45)">Immune system response</text>
<line x1="1271.7" y1="2175.9" x2="1271.7" y2="2181.8" stroke="#222" stroke-width="2"/>
<text x="0" y="0" font-size="23.3" fill="#111" stroke="#111" stroke-width="0.35" text-anchor="end" transform="translate(1282.4 2192.5) rotate(-45)">Endocytosis</text>
</svg></body></html>
